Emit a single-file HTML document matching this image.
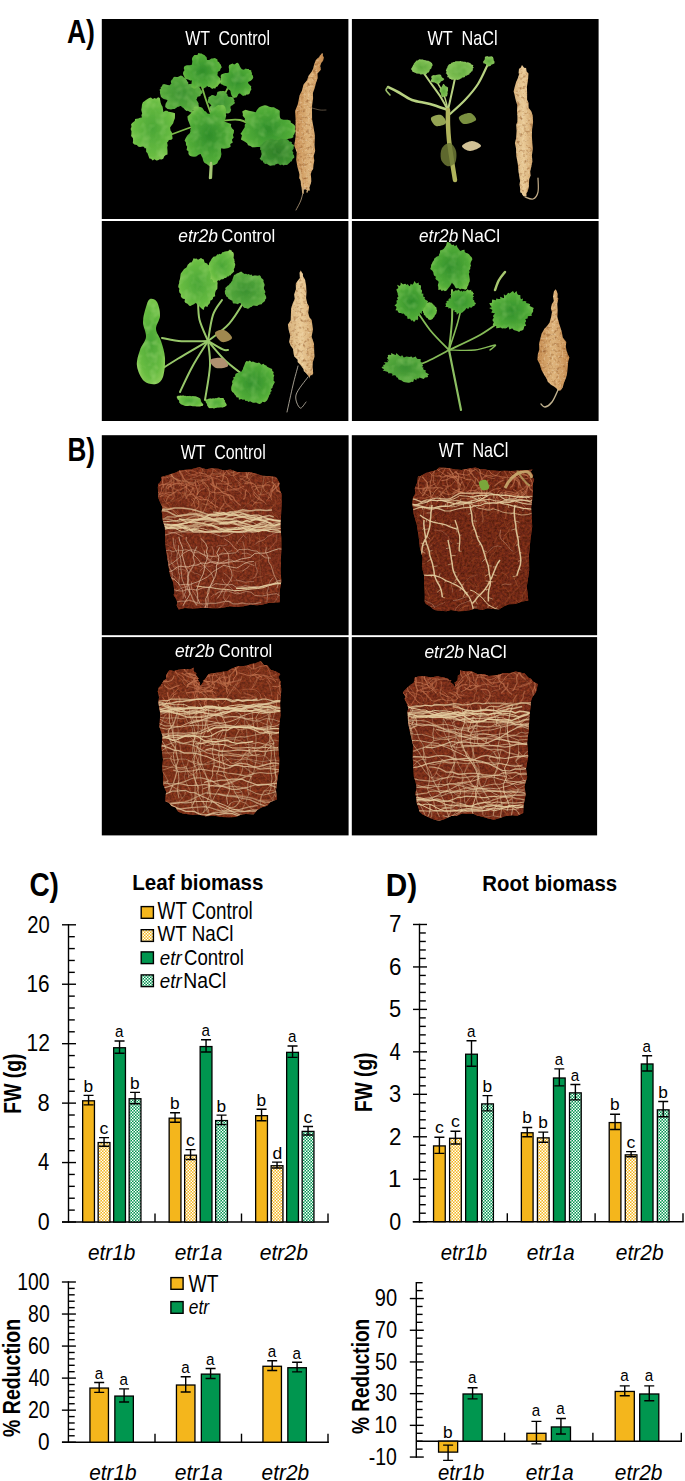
<!DOCTYPE html>
<html><head><meta charset="utf-8"><title>Figure</title><style>html,body{margin:0;padding:0;background:#fff;overflow:hidden}svg{display:block}text{font-family:"Liberation Sans",sans-serif;white-space:pre}</style></head>
<body><svg width="685" height="1481" viewBox="0 0 685 1481">
<defs>
<pattern id="pY" width="3" height="3" patternUnits="userSpaceOnUse"><rect width="3" height="3" fill="#F4B61C"/><rect width="1.5" height="1.5" fill="#FFFFFF"/><rect x="1.5" y="1.5" width="1.5" height="1.5" fill="#FFFFFF"/></pattern>
<pattern id="pG" width="3" height="3" patternUnits="userSpaceOnUse"><rect width="3" height="3" fill="#00964F"/><rect width="1.5" height="1.5" fill="#FFFFFF"/><rect x="1.5" y="1.5" width="1.5" height="1.5" fill="#FFFFFF"/></pattern>
<radialGradient id="lgA" cx="50%" cy="50%" r="60%"><stop offset="0" stop-color="#2F8E2A"/><stop offset="0.7" stop-color="#52AC38"/><stop offset="1" stop-color="#7CC64A"/></radialGradient>
<radialGradient id="lgB" cx="50%" cy="50%" r="60%"><stop offset="0" stop-color="#3A9130"/><stop offset="0.7" stop-color="#55A83C"/><stop offset="1" stop-color="#6FB84A"/></radialGradient>
<radialGradient id="lgC" cx="50%" cy="50%" r="60%"><stop offset="0" stop-color="#4AA636"/><stop offset="0.7" stop-color="#68BC42"/><stop offset="1" stop-color="#90D05A"/></radialGradient>
<radialGradient id="lgD" cx="50%" cy="50%" r="60%"><stop offset="0" stop-color="#2E7E28"/><stop offset="0.8" stop-color="#3F9330"/><stop offset="1" stop-color="#52A63C"/></radialGradient>
<radialGradient id="lgE" cx="50%" cy="50%" r="60%"><stop offset="0" stop-color="#5EA83C"/><stop offset="0.7" stop-color="#7DBE52"/><stop offset="1" stop-color="#A2D070"/></radialGradient>
<linearGradient id="rtA" x1="0" y1="0" x2="1" y2="0"><stop offset="0" stop-color="#C68C50"/><stop offset="0.5" stop-color="#DEB47C"/><stop offset="1" stop-color="#C4884C"/></linearGradient>
<linearGradient id="rtB" x1="0" y1="0" x2="1" y2="0"><stop offset="0" stop-color="#D6B07A"/><stop offset="0.5" stop-color="#EACB98"/><stop offset="1" stop-color="#D2A56C"/></linearGradient>
<filter id="spk" x="0" y="0" width="1" height="1" color-interpolation-filters="sRGB"><feTurbulence type="fractalNoise" baseFrequency="0.3" numOctaves="2" seed="7"/><feColorMatrix type="matrix" values="0 0 0 0 0.55  0 0 0 0 0.32  0 0 0 0 0.14  2.2 0 0 0 -1.15"/><feComposite in2="SourceGraphic" operator="in"/></filter><filter id="spk2" x="0" y="0" width="1" height="1" color-interpolation-filters="sRGB"><feTurbulence type="fractalNoise" baseFrequency="0.5" numOctaves="2" seed="19"/><feColorMatrix type="matrix" values="0 0 0 0 0.96  0 0 0 0 0.9  0 0 0 0 0.78  2.2 0 0 0 -1.1"/><feComposite in2="SourceGraphic" operator="in"/></filter>
<filter id="soft" x="-5%" y="-5%" width="110%" height="110%"><feGaussianBlur stdDeviation="0.45"/></filter>
<filter id="ltex" x="0" y="0" width="1" height="1" color-interpolation-filters="sRGB"><feTurbulence type="fractalNoise" baseFrequency="0.12" numOctaves="2" seed="4"/><feColorMatrix type="matrix" values="0 0 0 0 0.72  0 0 0 0 0.9  0 0 0 0 0.55  2.4 0 0 0 -1.05"/><feComposite in2="SourceGraphic" operator="in"/></filter>
<filter id="soil0" x="0" y="0" width="1" height="1" color-interpolation-filters="sRGB"><feTurbulence type="fractalNoise" baseFrequency="0.4" numOctaves="3" seed="3"/><feColorMatrix type="matrix" values="0.34 0 0 0 0.300  0.15 0 0 0 0.105  0.08 0 0 0 0.060  0 0 0 0 1"/></filter>
<filter id="soil1" x="0" y="0" width="1" height="1" color-interpolation-filters="sRGB"><feTurbulence type="fractalNoise" baseFrequency="0.4" numOctaves="3" seed="5"/><feColorMatrix type="matrix" values="0.34 0 0 0 0.270  0.15 0 0 0 0.085  0.08 0 0 0 0.040  0 0 0 0 1"/></filter>
<filter id="soil2" x="0" y="0" width="1" height="1" color-interpolation-filters="sRGB"><feTurbulence type="fractalNoise" baseFrequency="0.4" numOctaves="3" seed="8"/><feColorMatrix type="matrix" values="0.34 0 0 0 0.310  0.15 0 0 0 0.115  0.08 0 0 0 0.060  0 0 0 0 1"/></filter>
<filter id="soil3" x="0" y="0" width="1" height="1" color-interpolation-filters="sRGB"><feTurbulence type="fractalNoise" baseFrequency="0.4" numOctaves="3" seed="11"/><feColorMatrix type="matrix" values="0.34 0 0 0 0.300  0.15 0 0 0 0.105  0.08 0 0 0 0.060  0 0 0 0 1"/></filter>
<clipPath id="rb0"><path d="M157.8 487.5 L158.3 483.9 L159.9 482.5 L161.1 480.6 L161.6 480.0 L161.2 477.1 L166.7 475.5 L172.6 473.4 L175.9 472.5 L179.5 470.5 L186.0 469.7 L191.2 469.2 L194.9 468.3 L199.3 467.3 L206.3 469.2 L211.8 468.3 L218.3 468.8 L223.8 470.6 L230.5 469.4 L237.1 472.1 L244.2 472.1 L250.7 472.3 L257.1 474.0 L262.1 475.8 L270.7 476.3 L275.8 477.1 L277.1 478.5 L279.6 483.5 L279.1 486.1 L280.0 490.5 L281.5 493.7 L281.6 504.4 L281.1 514.5 L280.4 526.3 L281.3 537.4 L281.4 549.3 L280.8 560.2 L280.7 570.8 L281.3 581.5 L279.7 590.9 L279.7 602.3 L274.6 602.6 L268.3 602.9 L262.0 604.7 L257.0 605.2 L250.5 604.8 L243.6 606.2 L236.1 607.1 L229.6 606.2 L221.7 608.0 L215.6 608.2 L207.5 608.1 L200.4 607.9 L193.0 608.6 L184.8 607.9 L178.7 609.5 L176.6 605.4 L177.3 602.6 L176.4 599.5 L173.6 595.0 L174.5 592.5 L173.3 582.5 L170.1 575.2 L168.4 565.5 L167.5 558.9 L166.0 550.1 L165.2 541.3 L165.1 536.0 L164.9 527.4 L162.9 520.9 L161.7 511.3 L162.4 506.9 L159.9 501.7 L158.3 498.0 L158.2 492.8 Z"/></clipPath>
<clipPath id="rb1"><path d="M417.9 476.7 L421.2 475.7 L425.8 473.0 L431.2 471.5 L436.2 470.2 L439.1 467.6 L447.5 468.1 L454.2 469.3 L461.6 470.0 L468.9 468.4 L475.6 467.6 L480.0 469.2 L484.4 469.2 L488.8 470.2 L492.9 470.4 L499.6 471.1 L505.0 470.7 L510.8 471.1 L519.5 470.5 L526.0 470.2 L532.6 469.6 L530.8 471.5 L533.2 475.6 L532.4 477.7 L534.2 479.1 L533.0 483.2 L532.8 491.8 L532.1 500.6 L531.1 507.8 L531.7 515.8 L532.2 526.8 L530.3 541.1 L529.0 555.0 L529.2 570.4 L526.8 586.5 L528.3 600.4 L522.4 601.4 L515.4 604.0 L508.8 604.2 L504.2 606.3 L499.2 609.2 L492.6 609.0 L487.6 608.2 L482.1 610.1 L474.9 608.4 L470.7 609.9 L464.7 611.1 L458.3 611.2 L450.9 610.1 L446.5 611.3 L439.8 610.7 L435.6 610.2 L432.1 608.6 L431.1 606.9 L426.0 604.1 L424.7 602.1 L424.8 594.0 L424.1 583.6 L424.0 575.2 L421.9 567.0 L422.6 557.4 L420.0 548.5 L418.6 536.2 L416.8 524.8 L413.8 514.6 L412.4 503.9 L413.0 497.5 L415.4 493.6 L414.8 488.2 L417.3 482.4 Z"/></clipPath>
<clipPath id="rb2"><path d="M158.8 687.6 L160.6 685.8 L163.7 680.6 L166.3 678.9 L166.3 674.9 L169.4 669.9 L174.0 670.9 L178.3 669.7 L184.6 669.0 L190.0 669.4 L194.1 667.6 L193.3 670.5 L194.2 671.7 L196.8 673.4 L196.2 673.5 L196.0 675.3 L198.9 678.7 L197.5 678.9 L200.3 683.4 L199.8 683.6 L200.5 687.3 L200.5 685.8 L201.8 683.9 L203.7 681.2 L202.8 680.2 L203.1 681.0 L203.8 680.2 L205.7 678.4 L207.0 676.2 L207.4 675.5 L208.7 674.0 L215.0 672.9 L221.0 671.9 L227.1 671.3 L231.4 668.7 L238.3 666.1 L242.2 666.3 L247.3 665.5 L250.7 664.0 L254.8 663.4 L260.8 661.0 L263.9 665.0 L267.2 665.3 L270.7 669.8 L275.9 671.4 L280.3 674.1 L278.4 676.9 L280.6 681.8 L280.5 683.8 L281.3 689.3 L281.2 691.6 L280.1 702.9 L280.5 715.6 L279.2 725.3 L278.9 735.7 L278.3 747.7 L279.3 759.3 L279.0 769.8 L277.3 779.8 L276.0 790.0 L276.8 799.6 L270.5 802.1 L267.0 805.8 L261.9 807.3 L257.5 809.8 L253.7 814.2 L245.8 813.9 L241.7 814.4 L235.4 817.0 L229.0 817.3 L222.1 817.1 L214.2 815.7 L205.5 816.3 L198.0 814.4 L191.9 814.7 L182.8 813.4 L178.1 811.8 L175.6 807.4 L171.5 806.0 L168.9 802.8 L165.2 801.3 L166.1 791.6 L163.3 784.7 L163.3 776.0 L162.2 767.6 L163.0 759.5 L161.5 747.8 L162.6 736.2 L159.4 726.7 L160.3 713.5 L158.4 702.9 L158.6 701.5 L159.0 697.5 L158.8 695.3 L157.7 691.5 Z"/></clipPath>
<clipPath id="rb3"><path d="M402.9 692.4 L406.1 688.8 L410.9 684.5 L413.7 682.8 L414.8 677.6 L419.2 676.3 L424.6 676.3 L431.4 677.5 L436.6 676.3 L442.6 677.3 L447.5 678.4 L448.1 678.8 L449.5 680.3 L448.7 681.0 L451.4 680.0 L450.3 682.1 L451.4 683.9 L451.1 682.5 L453.8 685.1 L453.4 684.9 L454.2 687.3 L455.3 684.6 L454.3 682.6 L455.7 681.9 L457.4 680.3 L457.7 678.9 L457.9 675.5 L459.6 674.7 L460.2 673.4 L460.1 671.5 L460.0 670.6 L465.4 671.2 L471.2 671.2 L478.2 674.4 L483.9 674.0 L488.7 676.1 L496.3 675.2 L503.4 673.3 L510.1 673.0 L515.6 671.5 L522.3 673.0 L524.6 673.3 L528.2 677.5 L530.6 678.6 L533.3 681.8 L537.7 683.9 L537.0 688.1 L535.8 692.4 L532.5 696.7 L531.1 700.8 L531.0 702.8 L529.4 716.6 L528.8 729.4 L527.1 742.7 L528.2 756.3 L526.0 768.7 L527.2 777.0 L524.5 785.7 L525.6 794.8 L523.5 805.7 L523.2 813.0 L517.4 815.8 L512.3 815.3 L504.6 816.3 L500.0 818.1 L493.9 819.7 L488.2 818.4 L482.6 816.8 L476.9 815.4 L473.4 813.8 L466.5 813.7 L462.1 813.5 L456.5 816.0 L451.3 815.9 L443.7 819.4 L439.2 820.8 L434.4 819.7 L430.7 818.2 L425.8 816.0 L422.7 814.6 L420.2 812.2 L419.0 811.0 L418.9 809.0 L417.3 804.6 L416.7 803.1 L416.5 799.5 L415.4 793.1 L416.6 788.1 L415.6 781.7 L413.9 776.9 L413.4 768.7 L412.8 757.7 L413.0 744.8 L410.4 733.9 L408.1 722.9 L407.5 711.5 L408.4 707.9 L406.4 702.6 L404.5 698.8 L405.7 697.0 Z"/></clipPath>
<path id="lf11" d="M197.1 97.8l-.3 1.1-.5 .9 1.1 1.5 1.2 1.9-.1 1.4 .4 1.9-.9 1.1-1 1.1-2 0-.9 1.2-1.4 .6-.6 1.8-1.8-.1-2.4-1.5-1.4 .2-1.8-1.5-1.5-1.6-1.2-.6-1-1.1-1-.1-1.1 .8-1.1 0-1.4 1-1.8 1.1-1.6 .1-2 .5-1.6-.3-1.9-.1-1.1-1.1-1.2-1 .2-1.9 .4-1.8 1.2-1.9 .5-1.4-1.9-.4-1.9-.7-1.5-1-1.3-1.2-.3-1.3-.4-1.3-.3-1.4 .2-1.4-.6-1.5 1.3-1.1-.1-1.6 1.4-.9 .2-1.5 1.7-.6 3.7 1 1.9 .2 .6-.9 1.1-.4-.5-2.5 .7-1.4 1-.9 .8-1.7 1.3-.8 1.8 .3 1.5-.1 1.5-.7 1.6-.7 1.7 .7 1.4 1.5 1.4 .6 1 1.5 .8 1.6 .9 .9 .1 2 1.6-.3 1.9-.3 2-.1 2.9-.5 .5 1.4 1.6 .7 0 1.6 1.3 1.1 .5 1.3 1 1.2 1.2 1.3-.5 1.5-1.6 1.4-.3 1.3-2.7 .9z"/>
<path id="lf12" d="M217.8 73l-.3 1.1-.1 1.1 1.1 1.3 1.7 1.8 .4 1.6 .8 2-1.1 1.1-1.1 1.1-1 1.1-.7 1.2-1.5 .6-.7 1.4-1.9-.1-1.2 .6-2.5-2-1.2 .2-1.6-1.4-.6 1.6-1.1 .2-1.1 .8-1.1 .7-1.1-1.7-.9-.8-1.2 .6-1-.6-1.1 0-2 1.7-1.8 .5-1-1-1.5-.2 .1-2.1 .1-1.8 0-1.5 .4-1.6-1.9 0-1.2-.7-1.8-.6-2.3-.6-.3-1.4-.6-1.3-.7-1.4-.2-1.5 .5-1.5 1-1.3-.7-1.6 .2-1.5 .9-1.2 1.9-.7 2.7 0 1.9-.1 .6-.9 .1-1.3 .2-1.4-.4-2.4 .5-1.6 .9-1.2 1.1-1.2 1.5-.2 1.5 0 1-1.9 1.7 .6 1.4 0 1.5 .9 1.4 .4 1.1 1.4 1.1 .9 .4 2.7 1.1 0 1.1 .2 2.2-1.6 1.4 .1 2.1-.5 1.2 .7 1.3 .8 .2 1.8 1.4 .7 .7 1.3 1 1.1 .5 1.4 .6 1.3-1.4 1.8-.3 1.4-2.5 1.5z"/>
<path id="lf13" d="M253.2 78.1l-1.1 1.5-1.3 1.2-2.3 .9-.5 .9 .4 1 1.4 1.3 1.5 1.7-.3 1.2 .4 1.6-.7 1-.5 1.2-.4 1.4-.6 1.1-1.3 .5-1.5 0-.9 .9-1.4 0-1 .6-1.6-1.4-1.4-1.1-.9-.2-.8 .7-.9 2-1.1 1.4-1.2-.1-1.3 .7-1-1.2-1-.7-.6-1.5-.5-1.5-.2-1.6-.4-1-.7-.7-.6-.5-1.3-.1-.5-.9-.2-1-.1-1-1.1-.5-2-.3-1-.9-2.1-.8-.1-1.3 .4-1.3 0-1.3-.4-1.3 .4-1.3-.3-1.4 .5-1.2 1.3-.9 1.6-.4 1.2-.6 1.9 .1 1.1-.2 .8-.5-.1-1.4 .2-1.5-.4-2.5 .4-1.9 1.2-.4 1.1-.7 1.2-.5 1.5 1.1 1.1-.4 1.2-1.2 1.3-.2 1.2 1.2 .8 2.1 .8 1.4 .7 1 .7 .9 1 .1 .9 .4 2-1.2 1.2 .4 1.7-.1 .6 1.2 1.9 .2 .1 1.5 .7 1.2-.2 1.5 1 1 .3 1.3z"/>
<path id="lf18" d="M235.1 103l-.9 .8-1 .8-.8 .6-1.1 .5-.7 .5 0 .7-.2 .8 .3 1 .5 1.3-.5 .7-.2 1.1-.6 .8-.9 .5-.9 .4-1.3-.2-.9 .3-.8 .8-1.1 0-1.2-1-.9-.4-.9-.6-.8-.4-.7-.3-1 .8-1 .2-1.4 1.1-.8-.7-1.2 .2-.9-.5-1-.3-.6-.8-.9-.5-.4-.9-.2-.9-.2-.9-.3-.8 .3-1 1.5-1.2-.4-.5-.5-.6-.6-.7-1.3-.7-1-.9 .1-.8 .2-.9 .1-.8 .6-.8-.4-1.1 .8-.7 .7-.6 1-.4 .6-.7 1.1-.2 1.4 .2 1.5 .6 .8-.1 .5-.7 .3-1 .3-1.7 .8-.8 1 .1 .9-.7 1.1 .2 1-.1 1.1-.1 1.1 .1 .9 .6 1 .2 .3 1.6 .7 .5 .4 .8 .1 1.1 .7 .4 .4 .6 1.4-.1 1.2 .2 1.3 .3 1.2 .4-.3 1.1 .4 .8 .7 .7-.3 1 0 .8z"/>
<path id="lf14" d="M170.3 129l.2 1.6 1.4 1.9 .1 1.8 .3 2 .3 2.2-1.2 1.3-2.5 .3-.8 1.3-1 1 .6 3-.5 1.8 .3 3.5 0 3.7-1.7 .6-1.5 1.2-1.1 2.5-1.7 .7-1.8-.1-1.7 1-1.7 .2-1.8-1.3-1.8 1.2-1.6-1.6-1.7-.2-1.1-3-.9-2.5-1.2-1.1-.1-3.7-1.4-.1-.8-1.5-1.6-.1-2.3 .4-1.9-.6-1.2-1.4-2.5-.5-1.6-1.6 .3-2.7-.2-2.3-1.8-1.8 .3-2.4 .1-2.4-.9-2.3 .9-2.3-.4-2.4 1.6-1.9 2.1-1.5 .3-2 3.1-.4 1.8-.7 1.9-.3-.5-2.5 .8-1.2-.9-3.8 .4-2.4 .3-3.1 .9-2.3 1.5-1 1.6-1.1 1.5-1.2 1.7-.9 1.7-.4 1.9 1.4 1.7-1 1.7 .7 1.9-1.4 1.7 .6 .8 4.5 .9 2.7 1.1 1.6 .4 2.6 .3 2.6 2.1-1.1 1.8 0 1.2 1 2 .3 2.3 .3 2.3 .8 0 2.6-.1 2.5-1.1 2.7-.6 2.3-1.7 2.3-1.4 1.8z"/>
<path id="lf15" d="M232.9 135.1l.8 2.5-1.8 2.1 .9 2.8-2.6 1.4 .4 2.8-2.2 1.2-2.4 .6-2.2 .3-2.6-.5-.3 2.1 .5 3.9-.6 2.7-1 2.3-1.4 1.5-1.2 2.7-1.8 1-1.8 .8-1.9-.5-1.8 1.6-1.9-1.4-1.7-1.3-1.7-.7-1.3-2.1-.8-3.2-1-1.7-.8-2-1.8 .6-2.7 1.8-2.2 .3-2.1-.3-2.1-.6-1.3-1.8-.1-2.8-1.8-1.3 .6-3.1-1.2-1.9-.1-2.4-1.3-2 1.3-2.7 1.4-2.4 2.4-2.2 .7-1.8-.1-1.9 1-1.7-1.2-2.4-1-2.6-1.3-3.2-.4-3.2 1.7-1.5 1.6-1.5 1.1-1.9 1.7-1.2 .4-3.4 2.1-.4 2.1 0 2.2 .6 1.9 .6 2.3 3.4 1.4 .4 1.5 1.9 1.1 .3 1.1 .2 1.3-2.7 1.5-1.8 1.7-1.6 1.9-1.3 2.2-1.5 1.7 .3 2.2-.4 1.9 .7 1.3 1.6 .6 2.7-.4 3.5 .7 1.9-.6 3-1.3 3.2 1.8 .7 2.2 .8 2.9 .9-.3 2.3 1 2 2.1 2.1-.2 2.4z"/>
<path id="lf16" d="M291.5 138.3l-2.9 .4-1.8 .6-.7 1.1 .9 2.2 0 1.8 1 2.8-2.2 .4-1 1.4-1.7 .8-2 .4-1 2-2.3 0-1.8 .8-2.2 .1-2.7-1.9-2 .1-2.2-1.5-1.9-1.6-1.5-2.5-1.9 .5-2.1 .7-2.2 .1-2.5 .3-2.6-.1-1.7-1.3-2.4-.7-1-2-1.8-1.2-2.1-1.2-2.3-1.2 .6-2.3 .5-2.1-1.5-1.4 1.3-1.9 1-1.6 .8-1.4 1-1.3 .2-1.2-.1-1.3 .4-1.2 1.2-.8-1.2-1.7-.4-1.5 .3-1.3-2.3-2.9 .2-1.7-.7-2.4 1.7-1 1.7-.8 3.3 1 2.5 .4 2.3 .6 2.1 .4 .8-1.7 1.1-1.5 1.3-1.6 1.8-.9 2-.8 2.1-.4 2.3 .5 2.1 .9 2.2 .5 2.4 .1 2 1.1 2 1.2 1.9 1.2-.1 3.2 .1 2.5 .5 1.7 1.3 1 2.1 .6 4.1 0 2.8 .9 .1 1.9 2.4 1.3 1.7 1.7 .5 1.8-.5 1.8 1.1 1.8-1.1 1.6-.5 1.6-1 1.4 .1 1.7z"/>
<path id="lf17" d="M293.1 152l.3 1-.6 .9 1.1 1.2 .3 1.1 .1 1.2-.8 .9-.9 .8-.5 1.1-.4 1.1-1.4 .4-.6 1.1-1 .8-.9 .9-1.3 .5-1.7-.2-1 .8-1.9-1.1-1.1 .8-1.4-.5-1.3-1.3-1.1 .6-1.2 .2-1.4 1.1-1.2-.2-1.5 .4-1.5 .2-1.2-.6-1.1-.8-1.1-.6-2.1 .3-.4-1.3-1.4-.5 .1-1.5-1.7-.4-.8-.9-.9-.9 1.4-1.6-.1-1.1 .9-1.2-.6-.8 .7-1-1.2-.9 .8-.9-1-1.1-.6-1.1 .6-.9-.7-1.3-.4-1.4 1.4-.7 1.1-.7 1-.8 .2-1.3 1.5-.4 .5-1.2 1.3-.4 1.4-.4 1.6 .1 1-.7 1.3-.3 1.6 .8 1.4 .6 1.1-.3 1.2 .4 1.1 0 1.2-.3 1.7-1.5 1.2 .5 1.4 0 1.2 .5 1.5 0 1.4 .4 1 .9 .6 1 1.8 .2 .8 .9-.2 1.5 1.5 .5 .9 .9-.5 1.4 .1 1-.2 1.1-.9 1.1-.4 1z"/>
<path id="lf21" d="M432.7 65.1l-.3 .7-.5 .6-.5 .5 .3 .5-.2 .6-.3 .5-.5 .5-.6 .4-.4 .4 0 .6-.1 .7-.5 .4-.1 .7-.9 .2-.6 .4-.6 .4-.3 .9-.8 .3-.8 .2-.9-.1-.8-.4-.8 .2-.7 .1-.7-.2-.8 .3-.6-.6-.5-.4-.9 .3-.4-.4-1.1 .4-.4-.6-.7-.1-.5-.4-.8-.1-.5-.4-.6-.3-1-.2 .2-.8-.7-.3 .3-.7-.9-.4-.1-.6 .4-.6 .3-.6 .5-.6 .1-.5 .6-.5-.1-.6 .1-.5 .9-.4-.2-.7 .2-.5 .6-.4 .3-.6 .4-.5 .6-.4 .3-.7 .9-.2 .7-.2 .7-.4 .6-.5 .8-.2 .9 .3 .8 0 .7-.1 .8-.1 .6 .6 .7 0 .7 .2 .6 .1 .6 .3 .7 .1 .7 .1 .9-.1 .3 .6 .8 .1 .6 .3 .5 .4 .3 .5 .9 .3 .3 .5-.1 .7 .4 .4z"/>
<path id="lf22" d="M473 66.2l-.1 .8 1 .5-1.1 .9-.2 .7 .4 .6-.5 .8-.1 .7-1.4 .6 0 .7-1.2 .5-.3 .7-.3 .7-1.2 .4-.7 .5-.9 .4-1.2 .1-.2 1.1-.9 .4-1.1 .1-1 .2-.7 .9-1 .2-1 .7-1.1 .3-1.1 .2-1-.3-1.1 .1-1 0-.9-.3-1.5 .5-.4-.9-1-.1-.9-.3-.4-.6-.2-.7-1.3-.1-.1-.7 .4-1-.1-.6-.8-.4 .3-.7-1.4-.2 .6-.8 .1-.7 .2-.6-.4-.6-.4-.7 .5-.6 .3-.7 .1-.7 .7-.6 0-.8 .4-.7 .5-.8 .6-.7 1-.5 1.1-.3 .3-1 1.3-.2 .9-.5 1.1-.2 .9-.6 1.1-.1 1.1 .1 1.1 0 .9 0 1.1-.4 .7 .7 1-.2 .8 .3 .9 0 1 0 .6 .4 .6 .4 1.2-.2 1 .1 .8 .3 .6 .5 1 .2-.2 .8 .9 .3 1.1 .4 .6 .5z"/>
<path id="lf23" d="M444.2 79l-.1 .4-.6 .3 0 .4-.3 .3-.3 .3-.5 .1-.5 .2-.3 .2-.5 .1-.1 .3-.4 .2-.1 .3-.1 .5-.3 .2-.3 .3-.3 .4-.5 .1-.5 .1-.5 .3-.5-.2-.5-.2-.5-.1-.4-.1-.4-.4-.4-.1-.3-.3-.4-.1-.4 0-.4-.1-.5-.1-.6 0-.5-.1-.4-.2-.4-.3-.4-.2-.1-.4 0-.4 .1-.4-.1-.3 .5-.4 .1-.3 0-.3 .3-.3-.1-.3-.1-.3-.3-.3 .1-.4-.1-.4 .1-.3 .2-.3 0-.5 .4-.2 .5-.2 .4-.1 .4-.3 .6 .1 .5-.1 .6 .3 .4-.2 .3-.3 .5 .2 .4-.3 .4 .2 .5-.5 .4 .2 .6-.3 .4 .1 .7-.1 .4 .2 .5 .1 .3 .3 .4 .2 0 .6 .2 .3 .1 .4-.1 .3 .6 .1 0 .4 .2 .3 .2 .2 .5 .2 .2 .3 .8 .3z"/>
<path id="lf24" d="M494.4 61l-.2 .4 .5 .4-.3 .3 .2 .5-.3 .3 .2 .5-.7 .1-.2 .4-.4 .1-.4 .2-.5 .1-.2 .3-.3 .1-.6-.1-.1 .3-.2 .5-.3 .3-.4 .2-.4 .1-.4 .4-.4-.3-.4 .4-.5-.1-.3-.4-.4-.3-.3-.3-.3-.3-.2-.3-.4-.1-.3-.1-.1-.5-.5 0 0-.4-.4-.1-.7-.1-.5-.1-.3-.4-.2-.4 0-.4 .2-.4-.2-.4 .1-.4 .7-.3 .1-.4 .4-.2 .2-.3-.1-.4 0-.4 0-.3 .4-.2-.1-.5-.1-.6 .2-.3 .3-.4 .4-.1 .4-.3 .5 .1 .3-.2 .5 0 .4 .1 .4 .1 .4 .3 .4 .1 .4-.2 .3 .2 .4-.2 .4-.1 .4 0 .6-.2 .3 .3 .5 0 .3 .3 .4 .2 .1 .4 .2 .4 .2 .3-.2 .5 .4 .2-.1 .5 0 .3-.1 .4 .2 .2 .2 .4z"/>
<path id="lf25" d="M447.9 91l-.2 .4-.4 .4 .2 .5 0 .4-.1 .4 .4 .7-.3 .3-.1 .5-.1 .5-.1 .6-.3 .2-.1 .6-.3 .1-.5-.1-.3 .1-.3-.2-.3 .2-.3-.3-.3 .1-.2 0-.3 0-.3 .7-.3 .1-.3 0-.4 .2-.3-.2-.2-.2-.3-.3-.3-.1-.2-.6-.2-.3 0-.6 0-.7-.3-.2 .2-.6-.2-.2-.3-.3 0-.5-.3-.3-.2-.4-.2-.4-.3-.5 0-.5 .1-.5 .2-.4-.1-.6 .4-.3 .3-.4 .2-.3 .2-.3 .3-.2 .3-.2 .1-.3 .2-.3 .1-.5 .2-.3 .2-.2 .2-.5 .3-.4 .2-.7 .3-.1 .4 .1 .3 .5 .3 .2 .3-.2 .3 .6 .2 .5 .2 .1 .2 .3 .3 .2 .2 .1 .3 0 .4 .2 .2 .2 .4 .1 .2 .3 .3 .4 .4 .2-.3 .8 .2 .4-.2 .6 .1 .5-.1 .4z"/>
<path id="lf31" d="M217.4 285l0 2-.1 1.9-1.4 1.6-.6 1.7-.3 1.8 .2 2.2-2 .7-.3 1.9-1 1.1-1.5 .6-.3 2.1-.8 1.5-1.2 .8-.7 2.1-1.8-.7-1.2 .9-.7 2.7-1.6-.8-1.6-1.5-1.3-1.3-1.2-1.7-1.1-.3-.9-1.5-1.1 .6-1.4 1.2-1.3 .5-1.7 .9-1.3-.3-1-1.3-1.1-1-1.5-.4-1-1.2 .3-2.7-1.9-.3-1.3-1.1-.9-1.5 .1-2.1-1.4-1.4-.5-1.9 .4-2-1.2-1.8 .3-2 .7-1.9 0-1.9 .6-1.8 .4-1.8 .2-1.9 .3-2 1-1.4 1-1.3 1-1.4 1.1-1.1 1.4-.7 .8-1.4 .7-1.7 1.2-.9 1.1-1.3 1.4-.1 1.1-1.5 1-2.7 1.6 .5 1.4-.3 1.5 1.3 1.4-.6 1.6-1 1.4 .8 1.4 .6 .8 2.9 1.2 .7 1.4 .4 .8 1.6 1.6 .3 .5 2 .3 2.1 .8 1.3 2.1 .1 0 2.2 1.2 1.1 .8 1.6 1.1 1.5 .8 1.8-.1 2 .5 1.9z"/>
<path id="lf32" d="M232.3 273.2l-1 .9-.6 1.1-1.4 .4-.8 .8-1.3 .1-.7 1-1 .6-1-.1-.9 .9-.9 .4-1 0-.9 .3-1.1 1.2-.8-.5-1 .2-1.4 1.2-1.2 .5-1.2 .2-.9-.4-.2-1.5-.6-.8-.6-.7-1.4 .2 .3-1.7-.1-1.1 .2-1.3-.1-1-.1-.9-.6-.6-.1-.9-.1-1-.7-.7 .7-1.2-.9-.9-.2-1.1-.1-1.1 .3-1.2 .2-1.2 .6-1.2 .8-1 .5-1.2 .7-1.1 .9-1 .7-1.1 1.4-.2 1.2-.3 .7-1 .8-1 1.2 .2 .9-.6 1 .4 .9-.5 .9-1.4 .9 0 1-.5 1-.4 1-.1 1-.1 1-.3 1.7-1.4 .7 .8 1 .3 .3 1.2 1.1 .2 .5 .9 .3 1 0 1.4-.1 1.1-.2 1.3 .3 .8 .6 .7-.3 1.1 .7 .7-.4 1.2 .3 .9 .5 1 0 1.1-.3 1.1-.2 1.1-.6 1.1-.4 1.2 .5 1.5-.9 1.1z"/>
<path id="lf33" d="M265.1 291l.3 1.3-.8 1.2 .8 1.5 .7 1.6 .2 1.7-1.1 1.1-.2 1.6-1.2 1-1.4 .9-.7 1.4-1.9 .2-1.4 .6-1.2 .8-1.9-.2-1.6-.2-1.2 .6-1 1-1.4 .2-1.2 1.1-1.4 .3-1.5-.7-1.4 0-1.3-.9-.9-1.6-.9-1.1-.8-1.2-1.1-.1-2.1 1.2-1-.6-1.5-.2-1.7-.1-.7-1.1-.1-1.5-1.4-.5-1.2-.8-1.5-.8-.4-1.3-1.7-.9-.4-1.3-.8-1.3-.2-1.5-.1-1.4 .9-1.4-.5-1.5 1.2-1.2 1.2-1.1 1.4-.9 .6-1.1 1.1-.8 .5-1.2 1-.8 .2-1.5 .5-1.3 .5-1.5 .7-1.6 1.4-.7 1.3-.8 1.5-.5 1.4-.8 1.4-.7 1.9 1.3 1.6 1 1.4-.1 1.4 .6 1.4-.5 1.2 1.1 1.6-.6 .9 1.6 1.8-.6 1.5 .2 1.6 .2 2.4-.5 1 1.2 .5 1.6 1.3 .8 1 1.2-.2 1.7 .6 1.3 .6 1.3-.1 1.4-.6 1.5 0 1.3 .4 1.2z"/>
<path id="lf36" d="M274.9 382l-.8 1.6-.8 1.5-.7 1.4-.2 1.5-1.6 1 1 2-1.4 1 0 1.9-1.1 1.1-.5 1.7-.7 1.6-.8 1.6-1.2 1.3-1.5 1-2.1-.4-1.2 1.4-1.6 .7-1.8-.5-1.8-.9-1.5 .2-1.6 .1-1.5-.8-1.4-.7-1.7 .8-1.2-1.4-1.7 .4-.9-1.7-1.8 .3-1.5-.6-2.4 .6-.2-2.2-2.2-.2-.6-1.6-1.2-1.3-.9-1.3-1.5-1.1-.9-1.5-.2-1.8 .1-1.7 .6-1.8 .6-1.7-.5-1.5 .5-1.5 1.3-1.4-.7-1.6 2-1 .1-1.5 .5-1.3 1.5-.8 1.7-.5 1.4-.5 1.3-.5 .5-1.2 .8-.9 .3-1.6 .7-1.5 .7-1.6 .7-2.1 1.2-1.5 1.8 .4 1.5-.8 1.7 1.3 1.5-.5 1.5 .9 1.4 .5 1.5 .1 1.6-.4 1.2 1 1.1 1.3 2.2-1 1.1 1.2 1.7 .4 .9 1.3 1.5 .7 1.6 .8 1.8 .8 .2 1.9 1.4 1.1-.5 2.1 1.1 1.3-.7 1.9 .1 1.6-.2 1.6z"/>
<path id="lf37" d="M202.2 403.2l.7 .5 .4 .5 0 .4-.3 .4 .1 .5-.4 .3-.6 .3-1.2 0-.4 .4-1 .1-1.2-.1-.8 0-1 0-1.2-.3-.8 .1-.9 0-.9-.1-1-.3-.8-.1-.8 0-1 0-1 .2-1.1 .1-1.1-.2-1.1-.2-1-.3-.6-.5-1.3-.2-.7-.4-.9-.4 0-.6-.8-.4-.5-.4 .7-.5-.8-.4 .3-.4-.2-.4 .2-.4-.9-.4-.2-.4-.7-.4 .3-.4-.7-.5-.1-.4 .1-.4-.5-.6 .4-.4 .5-.3 .3-.4 1.1-.1 1.1 0 .6-.3 1.4 .3 .6-.3 1.1 .2 1.4 .4 .6-.2 1.1 .4 .6-.3 .9 .1 .9 .3 .8-.5 .9 .5 1-.1 1.1-.1 1.1 .1 1.1 .1 1 .3 1.1 .3 .9 .4 .7 .4 .8 .4 .7 .5 0 .5 .3 .5 .6 .4-.7 .4 .5 .4 .3 .4-.6 .4 .9 .4-.1 .3 .4 .4z"/>
<path id="lf38" d="M226 403l.3 .4-.5 .3 .8 .5-.1 .4 .3 .5-.4 .4-.3 .4-.6 .3-.6 .3-.4 .4-.9 .2-.4 .4-1.2-.1-1.1-.2-.6 .2-.8 0-.8 0-.6 .3-.8-.3-.6 .3-.7 .2-.8 .2-.8 .3-.9 0-.7-.3-.9 .2-.8-.2-1.1 .1-.9-.2-.3-.5-.8-.2 0-.6-.2-.4-.4-.4-.2-.4-.1-.4 .1-.4-.1-.3-.3-.4 .3-.3-.6-.3-.3-.4-.5-.4 .3-.4-.6-.4 .5-.4-.9-.6 .4-.4 0-.5 .7-.3 .6-.3 1.3 0 .2-.5 .9-.1 .7-.2 1.1 .1 .9 .1 .6-.3 .7-.2 .8 .3 .7 0 .7-.2 .7-.2 .7 .1 .9-.4 .9-.2 .9-.1 .6 .4 .8 .1 1-.1 1 .1 .7 .3 .5 .4 0 .6 0 .5 .8 .2 .2 .4-.3 .5-.1 .4 .5 .3 .1 .4-.2 .3 .4 .3z"/>
<path id="lf41" d="M470.3 269l-1.2 1.6 .5 1.7-.8 1.4 .4 1.8 .3 1.9 .3 2.1-.1 2-.9 1.5-.4 2-.9 1.6-.6 2.1-1.5 1-2.2-.6-1.9-.3-1.2 .7-2-1.4-1.2 .4-1.4-.7-1.6-3.1-1-.6-.9-1.7-.9 1.9-1.2 2-1.4 1.8-1.9 2.3-1.7 .8-1.3-.9-2 .8-1-1.7-2.2 .5-.1-2.8-.5-1.9 .9-3.2-.8-1.2-1.4-.8-1.1-1.2 .5-2-1.6-1.1-.7-1.5-.2-1.8-1-1.6-2.2-1.8 .8-1.9 .1-2 .9-1.7 .7-1.7 1.2-1.4 .4-1.8 1.4-1.1 1.2-1 1.8-.5 .4-1.6 .8-1.2 .1-2.6 1.5-.5 1.4-.4 1.1-1 1-1.5 1.1-1.7 .9-3.4 1.7 .3 1.7 .9 1.6 2 1.5-.6 1.3 1.6 1.7-1.3 .9 2.4 1.1 1.4 .9 1.4 1.1 .8 2-.8 2-.3 .2 2.3 1.4 .8 1.8 .6 1.3 1.1 1.1 1.4 1.4 1.3 .7 1.9-1.5 2.7-.5 2 .6 1.6-.8 1.8z"/>
<path id="lf42" d="M424.9 297.3l-.4 1.4 1 1.1 2.6 1.4-.8 1.4 1.3 1.7-.9 1.3-.8 1.2-.2 1.5-.9 1-1.3 .7-.5 1.1-1.7 0-.6 .9 .3 1.9-2.3-1.1 0 1.7 .2 2.5-1.9-1.5 .2 3.3-.8 1.4-1.5-.8-.9 1.5-1 1.2-1.5-1.9-1.2 .6-1.2-2-1.1 0-1.3 .3-.6-2.6-.9-.8-1.2-.1-.6-1.3-.9-.7-1.5 .2-.9-.9-1.8 0-1.3-.8-.3-1.6-2.2-.3 1-2.3-.3-1.4-1.7-1.1 2.2-1.9 0-1.4-.4-1.3 1.7-1.1-.8-1.3 .3-1.1 1-.9-.8-1.6 0-1.2-.5-1.7-.9-2.3 1.1-.8 1-.8-1.3-3.3 2.7 1.2 .8-1.1 .1-2.3 2.4 2 1.1-.4 1.1-.3 1.4 1.2 .9-.9 1.2 1.4 1.1 .8 .8-2.5 1.1 .8 1.1-.2 1.7-3.5 1 1.8 1.1 .8 1.9-1.1 .3 2.7 1.6-.2 .6 1.8-.4 2.6 1.1 .7 .3 1.5-.6 2 1.9 .2-.1 1.4-.2 1.4z"/>
<path id="lf43" d="M437.1 311l-.5 .6 0 .7-.1 .6-.2 .6-.4 .5-.1 .6-.7 .2-.1 .5-.4 .4-.1 .7-.3 .4-.2 .6-.5 .2-.4 .2-.2 .8-.4 .4-.5 .2-.5 .2-.5 .3-.5 0-.5 .2-.5-.2-.5-.1-.5-.1-.4-.6-.3-.6-.4-.4-.6 .2-.3-.4-.3-.6-.5-.2-.1-.6-.2-.6-.7-.1-.2-.5-.7-.3 0-.6 .1-.8-.5-.5-.3-.6-.2-.6 .2-.7 .1-.7 .1-.6 .5-.5-.2-.7 .3-.6 .6-.3 .1-.6 .5-.3 .4-.3 .1-.7 .1-.7 .4-.3 .5-.1 .3-.6 .3-.6 .3-.5 .5-.3 .5 .1 .4-.8 .6 .3 .5 .4 .5 0 .5 .1 .5-.3 .4 .8 .5 0 .2 .9 .5 .1 .3 .3 .3 .6 .2 .5 .7-.1 .3 .4 0 .8 .7 .1 .6 .4 .2 .6 .2 .6-.2 .7 .4 .6 .1 .6z"/>
<path id="lf44" d="M474.1 296.2l-1.1 1.2-.5 .9 1.3 .4-1.1 .9 1.2 .7 .6 .8-.4 .8 1.5 1 .2 1.1-1.3 .7 .1 1.1-1.7 .4-.9 .7-.5 .9-2.4-.5-.3 1-.6 .7-1.9-.9-.5 .8-.6 .8-.7 .9-.9 .6-.9 1-1 .6-1.1 .5-1.1 0-1.2 0-1.5 1.5-.3-2.4-.9-.4-1.1 0 .2-1.9-1.3 .4-.9-.3 .4-1.5-.9-.1-1.3 .1-.5-.6-2 .3 .2-1.1-1.4-.3-1.9-.2 1-1.3-.3-.9-.4-.8 1.4-1.1-.5-.9 .6-.9 2.2-.7-.8-.9 .9-.7 2-.3-.9-1.1 .9-.5 .6-.7-1.6-2 1.5-.2 .4-1-.1-1.8 2 .5 .8-.7 1.1-.5 1.4 .4 .8-1.1 1.2 .7 1.1 1.3 1-1.2 .8 1.3 .9-.4 1.1-.8 .6 .9 1.4-.9 1.7-1.2 .5 1 1.3-.1 1.6-.4-.1 1.4 1.2 .2 .5 .7 .2 1 1 .3-1.4 1.8 .4 .6z"/>
<path id="lf45" d="M531.9 315.7l-4 .5-.2 1.2-.1 1.2-2.4 .3 .8 1.7-.1 1.4-1 .8 1.3 2.9-1.7 .3-.5 1.6-.5 2-1.4 .9-1.7 .2-1.3 1.2-2-.9-1.8-.4-1.6-.6-1.6-1.7-1.3 .7-1.4 .4-1-2.8-1.6 1.4-1.6 .6-1.5-.3-1.7 .3-1.1-1.1-2.3 .5-2.4 .3 0-2.3-2-.4-1.5-.9 1.2-2.7-1.2-1-.1-1.6 1.3-1.9-.9-1.1 .5-1.4 1.6-1.4-3.9-1 .7-1.3 .6-1.3-3.3-1.9 2.7-.8-1.4-1.9-1.3-2.1 2.8-.5 0-1.7 .3-1.6 3.7 .8 .2-1.7 2.4 .5 1.7 0-.2-2.4 2.3 1 1.7 .6-.3-4 1.9 1.2 1.2-1 1.2-1.8 1.6 .7 1.5-1.1 1.8-1.4 1.3 2.4 2.2-2.2 .8 2.8 1.3 1.1 1.7-.1 .1 2.8 .5 1.6 2.2-.7-.6 2.6 2.1-.2 1.8 .4-.3 1.7 2.5 .3 1.6 .9-.6 1.7 2.2 .9 2 1.2-.8 1.7 .2 1.5-.9 1.5-.9 1.4z"/>
<path id="lf46" d="M429.3 374.5l-1.7 .6 .5 1.3-.7 .9-2.4 .1-.6 .8-.7 .9-4.3-1.6-.4 .9-1.4 .1-1.1 .3 0 1.5-2.5-1.2-.3 1.4-.6 1.6-1.7-.3-1.3 .7-1.7 .2-1.7-.1-1.8-.3-1.7-.6-1.5-1.2-1.6-.6-1.6-.5-.7-1.7-1.4-.5-.5-1.4-1.1-.6-3 .4 .8-1.7-1.5-.6-3.2-.1 .4-1.3-2.8-.6-2.8-.8 1.6-1.3-2.1-1-.6-1.1 2.3-.9-1-1.1 2-.6 .6-.8-1.6-1.4 3 0 1.4-.4-1.5-1.4 2.2 0-1.6-1.8-.1-1.1 .8-.8-.3-1.5 1.1-.6 2.3 .4-.1-2 3 1.4 1.8 .4 .4-2 3 2.9 1.7 .6 1-1.3 1.8 2.3 1.3-.5 1.4-.5 1.5 .4 1.5 .2 2-.4 1.1 1.2 3.2-1.3 .7 1.5 1.1 1.1 3.1-.1-.1 1.7 .1 1.3 1.8 .7-.7 1.4 .9 .9 .4 .9-1.5 1.1 2.2 .8-.8 .9 .5 .9 2.7 1.2-.8 .8 .4 1z"/>
<filter id="pblur" x="-2%" y="-2%" width="104%" height="104%"><feGaussianBlur stdDeviation="0.65"/></filter>
</defs>
<rect width="685" height="1481" fill="#fff"/>
<line x1="68.50" y1="924.10" x2="68.50" y2="1222.70" stroke="#000" stroke-width="1.4"/>
<line x1="62.00" y1="1222.00" x2="76.00" y2="1222.00" stroke="#000" stroke-width="1.4"/>
<line x1="62.00" y1="1162.56" x2="76.00" y2="1162.56" stroke="#000" stroke-width="1.4"/>
<line x1="62.00" y1="1103.12" x2="76.00" y2="1103.12" stroke="#000" stroke-width="1.4"/>
<line x1="62.00" y1="1043.68" x2="76.00" y2="1043.68" stroke="#000" stroke-width="1.4"/>
<line x1="62.00" y1="984.24" x2="76.00" y2="984.24" stroke="#000" stroke-width="1.4"/>
<line x1="62.00" y1="924.80" x2="76.00" y2="924.80" stroke="#000" stroke-width="1.4"/>
<line x1="68.50" y1="1210.11" x2="74.80" y2="1210.11" stroke="#000" stroke-width="1.4"/>
<line x1="68.50" y1="1198.22" x2="74.80" y2="1198.22" stroke="#000" stroke-width="1.4"/>
<line x1="68.50" y1="1186.34" x2="74.80" y2="1186.34" stroke="#000" stroke-width="1.4"/>
<line x1="68.50" y1="1174.45" x2="74.80" y2="1174.45" stroke="#000" stroke-width="1.4"/>
<line x1="68.50" y1="1150.67" x2="74.80" y2="1150.67" stroke="#000" stroke-width="1.4"/>
<line x1="68.50" y1="1138.78" x2="74.80" y2="1138.78" stroke="#000" stroke-width="1.4"/>
<line x1="68.50" y1="1126.90" x2="74.80" y2="1126.90" stroke="#000" stroke-width="1.4"/>
<line x1="68.50" y1="1115.01" x2="74.80" y2="1115.01" stroke="#000" stroke-width="1.4"/>
<line x1="68.50" y1="1091.23" x2="74.80" y2="1091.23" stroke="#000" stroke-width="1.4"/>
<line x1="68.50" y1="1079.34" x2="74.80" y2="1079.34" stroke="#000" stroke-width="1.4"/>
<line x1="68.50" y1="1067.46" x2="74.80" y2="1067.46" stroke="#000" stroke-width="1.4"/>
<line x1="68.50" y1="1055.57" x2="74.80" y2="1055.57" stroke="#000" stroke-width="1.4"/>
<line x1="68.50" y1="1031.79" x2="74.80" y2="1031.79" stroke="#000" stroke-width="1.4"/>
<line x1="68.50" y1="1019.90" x2="74.80" y2="1019.90" stroke="#000" stroke-width="1.4"/>
<line x1="68.50" y1="1008.02" x2="74.80" y2="1008.02" stroke="#000" stroke-width="1.4"/>
<line x1="68.50" y1="996.13" x2="74.80" y2="996.13" stroke="#000" stroke-width="1.4"/>
<line x1="68.50" y1="972.35" x2="74.80" y2="972.35" stroke="#000" stroke-width="1.4"/>
<line x1="68.50" y1="960.46" x2="74.80" y2="960.46" stroke="#000" stroke-width="1.4"/>
<line x1="68.50" y1="948.58" x2="74.80" y2="948.58" stroke="#000" stroke-width="1.4"/>
<line x1="68.50" y1="936.69" x2="74.80" y2="936.69" stroke="#000" stroke-width="1.4"/>
<line x1="62.00" y1="1222.00" x2="328.90" y2="1222.00" stroke="#000" stroke-width="1.4"/>
<line x1="155.00" y1="1213.50" x2="155.00" y2="1222.00" stroke="#000" stroke-width="1.4"/>
<line x1="241.50" y1="1213.50" x2="241.50" y2="1222.00" stroke="#000" stroke-width="1.4"/>
<line x1="328.00" y1="1213.50" x2="328.00" y2="1222.00" stroke="#000" stroke-width="1.4"/>
<text transform="translate(37.64,1229.80) scale(0.8836,1)" font-size="24.29" fill="#000">0</text>
<text transform="translate(38.10,1170.36) scale(0.8197,1)" font-size="24.64" fill="#000">4</text>
<text transform="translate(37.62,1110.92) scale(0.9024,1)" font-size="24.29" fill="#000">8</text>
<text transform="translate(26.52,1051.48) scale(0.8655,1)" font-size="24.29" fill="#000">12</text>
<text transform="translate(26.54,992.04) scale(0.8568,1)" font-size="24.29" fill="#000">16</text>
<text transform="translate(27.19,932.60) scale(0.8316,1)" font-size="24.29" fill="#000">20</text>
<rect x="82.65" y="1100.80" width="11.80" height="121.20" fill="#F4B61C" stroke="#000" stroke-width="1.3"/>
<path d="M83.55 1095.39H93.55M88.55 1095.39V1104.90M83.55 1104.90H93.55" stroke="#000" stroke-width="1.4" fill="none"/>
<text transform="translate(83.54,1091.79) scale(1.0335,1)" font-size="16.71" fill="#000">b</text>
<rect x="98.15" y="1142.55" width="11.80" height="79.45" fill="url(#pY)" stroke="#000" stroke-width="1.3"/>
<path d="M99.05 1137.60H109.05M104.05 1137.60V1146.21M99.05 1146.21H109.05" stroke="#000" stroke-width="1.4" fill="none"/>
<text transform="translate(99.54,1134.00) scale(1.0374,1)" font-size="17.04" fill="#000">c</text>
<rect x="113.65" y="1047.75" width="11.80" height="174.25" fill="#00964F" stroke="#000" stroke-width="1.3"/>
<path d="M114.55 1041.01H124.55M119.55 1041.01V1053.19M114.55 1053.19H124.55" stroke="#000" stroke-width="1.4" fill="none"/>
<text transform="translate(114.99,1037.41) scale(0.8917,1)" font-size="17.04" fill="#000">a</text>
<rect x="129.15" y="1098.72" width="11.80" height="123.28" fill="url(#pG)" stroke="#000" stroke-width="1.3"/>
<path d="M130.05 1092.42H140.05M135.05 1092.42V1103.71M130.05 1103.71H140.05" stroke="#000" stroke-width="1.4" fill="none"/>
<text transform="translate(130.04,1088.82) scale(1.0335,1)" font-size="16.71" fill="#000">b</text>
<rect x="169.15" y="1118.18" width="11.80" height="103.82" fill="#F4B61C" stroke="#000" stroke-width="1.3"/>
<path d="M170.05 1112.78H180.05M175.05 1112.78V1122.29M170.05 1122.29H180.05" stroke="#000" stroke-width="1.4" fill="none"/>
<text transform="translate(170.04,1109.18) scale(1.0335,1)" font-size="16.71" fill="#000">b</text>
<rect x="184.65" y="1155.19" width="11.80" height="66.81" fill="url(#pY)" stroke="#000" stroke-width="1.3"/>
<path d="M185.55 1149.63H195.55M190.55 1149.63V1159.44M185.55 1159.44H195.55" stroke="#000" stroke-width="1.4" fill="none"/>
<text transform="translate(186.04,1146.03) scale(1.0374,1)" font-size="17.04" fill="#000">c</text>
<rect x="200.15" y="1046.56" width="11.80" height="175.44" fill="#00964F" stroke="#000" stroke-width="1.3"/>
<path d="M201.05 1039.82H211.05M206.05 1039.82V1052.00M201.05 1052.00H211.05" stroke="#000" stroke-width="1.4" fill="none"/>
<text transform="translate(201.49,1036.22) scale(0.8917,1)" font-size="17.04" fill="#000">a</text>
<rect x="215.65" y="1120.56" width="11.80" height="101.44" fill="url(#pG)" stroke="#000" stroke-width="1.3"/>
<path d="M216.55 1115.16H226.55M221.55 1115.16V1124.67M216.55 1124.67H226.55" stroke="#000" stroke-width="1.4" fill="none"/>
<text transform="translate(216.54,1111.56) scale(1.0335,1)" font-size="16.71" fill="#000">b</text>
<rect x="255.65" y="1115.66" width="11.80" height="106.34" fill="#F4B61C" stroke="#000" stroke-width="1.3"/>
<path d="M256.55 1109.21H266.55M261.55 1109.21V1120.80M256.55 1120.80H266.55" stroke="#000" stroke-width="1.4" fill="none"/>
<text transform="translate(256.54,1105.61) scale(1.0335,1)" font-size="16.71" fill="#000">b</text>
<rect x="271.15" y="1165.74" width="11.80" height="56.26" fill="url(#pY)" stroke="#000" stroke-width="1.3"/>
<path d="M272.05 1162.11H282.05M277.05 1162.11V1168.06M272.05 1168.06H282.05" stroke="#000" stroke-width="1.4" fill="none"/>
<text transform="translate(272.40,1158.51) scale(1.0505,1)" font-size="16.71" fill="#000">d</text>
<rect x="286.65" y="1052.35" width="11.80" height="169.65" fill="#00964F" stroke="#000" stroke-width="1.3"/>
<path d="M287.55 1046.06H297.55M292.55 1046.06V1057.35M287.55 1057.35H297.55" stroke="#000" stroke-width="1.4" fill="none"/>
<text transform="translate(287.99,1042.46) scale(0.8917,1)" font-size="17.04" fill="#000">a</text>
<rect x="302.15" y="1131.41" width="11.80" height="90.59" fill="url(#pG)" stroke="#000" stroke-width="1.3"/>
<path d="M303.05 1126.45H313.05M308.05 1126.45V1135.07M303.05 1135.07H313.05" stroke="#000" stroke-width="1.4" fill="none"/>
<text transform="translate(303.54,1122.85) scale(1.0374,1)" font-size="17.04" fill="#000">c</text>
<line x1="68.40" y1="1281.30" x2="68.40" y2="1442.90" stroke="#000" stroke-width="1.4"/>
<line x1="61.90" y1="1442.20" x2="75.90" y2="1442.20" stroke="#000" stroke-width="1.4"/>
<line x1="61.90" y1="1410.16" x2="75.90" y2="1410.16" stroke="#000" stroke-width="1.4"/>
<line x1="61.90" y1="1378.12" x2="75.90" y2="1378.12" stroke="#000" stroke-width="1.4"/>
<line x1="61.90" y1="1346.08" x2="75.90" y2="1346.08" stroke="#000" stroke-width="1.4"/>
<line x1="61.90" y1="1314.04" x2="75.90" y2="1314.04" stroke="#000" stroke-width="1.4"/>
<line x1="61.90" y1="1282.00" x2="75.90" y2="1282.00" stroke="#000" stroke-width="1.4"/>
<line x1="68.40" y1="1435.79" x2="74.70" y2="1435.79" stroke="#000" stroke-width="1.4"/>
<line x1="68.40" y1="1429.38" x2="74.70" y2="1429.38" stroke="#000" stroke-width="1.4"/>
<line x1="68.40" y1="1422.98" x2="74.70" y2="1422.98" stroke="#000" stroke-width="1.4"/>
<line x1="68.40" y1="1416.57" x2="74.70" y2="1416.57" stroke="#000" stroke-width="1.4"/>
<line x1="68.40" y1="1403.75" x2="74.70" y2="1403.75" stroke="#000" stroke-width="1.4"/>
<line x1="68.40" y1="1397.34" x2="74.70" y2="1397.34" stroke="#000" stroke-width="1.4"/>
<line x1="68.40" y1="1390.94" x2="74.70" y2="1390.94" stroke="#000" stroke-width="1.4"/>
<line x1="68.40" y1="1384.53" x2="74.70" y2="1384.53" stroke="#000" stroke-width="1.4"/>
<line x1="68.40" y1="1371.71" x2="74.70" y2="1371.71" stroke="#000" stroke-width="1.4"/>
<line x1="68.40" y1="1365.30" x2="74.70" y2="1365.30" stroke="#000" stroke-width="1.4"/>
<line x1="68.40" y1="1358.90" x2="74.70" y2="1358.90" stroke="#000" stroke-width="1.4"/>
<line x1="68.40" y1="1352.49" x2="74.70" y2="1352.49" stroke="#000" stroke-width="1.4"/>
<line x1="68.40" y1="1339.67" x2="74.70" y2="1339.67" stroke="#000" stroke-width="1.4"/>
<line x1="68.40" y1="1333.26" x2="74.70" y2="1333.26" stroke="#000" stroke-width="1.4"/>
<line x1="68.40" y1="1326.86" x2="74.70" y2="1326.86" stroke="#000" stroke-width="1.4"/>
<line x1="68.40" y1="1320.45" x2="74.70" y2="1320.45" stroke="#000" stroke-width="1.4"/>
<line x1="68.40" y1="1307.63" x2="74.70" y2="1307.63" stroke="#000" stroke-width="1.4"/>
<line x1="68.40" y1="1301.22" x2="74.70" y2="1301.22" stroke="#000" stroke-width="1.4"/>
<line x1="68.40" y1="1294.82" x2="74.70" y2="1294.82" stroke="#000" stroke-width="1.4"/>
<line x1="68.40" y1="1288.41" x2="74.70" y2="1288.41" stroke="#000" stroke-width="1.4"/>
<line x1="62.00" y1="1442.20" x2="328.90" y2="1442.20" stroke="#000" stroke-width="1.4"/>
<line x1="155.00" y1="1433.70" x2="155.00" y2="1442.20" stroke="#000" stroke-width="1.4"/>
<line x1="241.50" y1="1433.70" x2="241.50" y2="1442.20" stroke="#000" stroke-width="1.4"/>
<line x1="328.00" y1="1433.70" x2="328.00" y2="1442.20" stroke="#000" stroke-width="1.4"/>
<text transform="translate(38.07,1450.00) scale(0.8578,1)" font-size="24.29" fill="#000">0</text>
<text transform="translate(27.92,1417.96) scale(0.8074,1)" font-size="24.29" fill="#000">20</text>
<text transform="translate(28.52,1385.92) scale(0.7843,1)" font-size="24.29" fill="#000">40</text>
<text transform="translate(27.92,1353.88) scale(0.8074,1)" font-size="24.29" fill="#000">60</text>
<text transform="translate(28.12,1321.84) scale(0.7995,1)" font-size="24.29" fill="#000">80</text>
<text transform="translate(17.35,1289.80) scale(0.7970,1)" font-size="24.29" fill="#000">100</text>
<rect x="89.95" y="1388.06" width="18.50" height="54.14" fill="#F4B61C" stroke="#000" stroke-width="1.3"/>
<path d="M94.20 1382.45H104.20M99.20 1382.45V1392.38M94.20 1392.38H104.20" stroke="#000" stroke-width="1.4" fill="none"/>
<text transform="translate(94.64,1379.05) scale(0.8917,1)" font-size="17.04" fill="#000">a</text>
<rect x="114.85" y="1396.07" width="18.50" height="46.13" fill="#00964F" stroke="#000" stroke-width="1.3"/>
<path d="M119.10 1388.85H129.10M124.10 1388.85V1401.99M119.10 1401.99H129.10" stroke="#000" stroke-width="1.4" fill="none"/>
<text transform="translate(119.54,1385.45) scale(0.8917,1)" font-size="17.04" fill="#000">a</text>
<rect x="176.45" y="1385.02" width="18.50" height="57.18" fill="#F4B61C" stroke="#000" stroke-width="1.3"/>
<path d="M180.70 1376.68H190.70M185.70 1376.68V1392.06M180.70 1392.06H190.70" stroke="#000" stroke-width="1.4" fill="none"/>
<text transform="translate(181.14,1373.28) scale(0.8917,1)" font-size="17.04" fill="#000">a</text>
<rect x="201.35" y="1374.12" width="18.50" height="68.08" fill="#00964F" stroke="#000" stroke-width="1.3"/>
<path d="M205.60 1368.51H215.60M210.60 1368.51V1378.44M205.60 1378.44H215.60" stroke="#000" stroke-width="1.4" fill="none"/>
<text transform="translate(206.04,1365.11) scale(0.8917,1)" font-size="17.04" fill="#000">a</text>
<rect x="262.95" y="1366.27" width="18.50" height="75.93" fill="#F4B61C" stroke="#000" stroke-width="1.3"/>
<path d="M267.20 1360.82H277.20M272.20 1360.82V1370.43M267.20 1370.43H277.20" stroke="#000" stroke-width="1.4" fill="none"/>
<text transform="translate(267.64,1357.42) scale(0.8917,1)" font-size="17.04" fill="#000">a</text>
<rect x="287.85" y="1367.72" width="18.50" height="74.48" fill="#00964F" stroke="#000" stroke-width="1.3"/>
<path d="M292.10 1362.26H302.10M297.10 1362.26V1371.87M292.10 1371.87H302.10" stroke="#000" stroke-width="1.4" fill="none"/>
<text transform="translate(292.54,1358.86) scale(0.8917,1)" font-size="17.04" fill="#000">a</text>
<line x1="419.50" y1="923.78" x2="419.50" y2="1222.40" stroke="#000" stroke-width="1.4"/>
<line x1="413.00" y1="1221.70" x2="427.00" y2="1221.70" stroke="#000" stroke-width="1.4"/>
<line x1="413.00" y1="1179.24" x2="427.00" y2="1179.24" stroke="#000" stroke-width="1.4"/>
<line x1="413.00" y1="1136.78" x2="427.00" y2="1136.78" stroke="#000" stroke-width="1.4"/>
<line x1="413.00" y1="1094.32" x2="427.00" y2="1094.32" stroke="#000" stroke-width="1.4"/>
<line x1="413.00" y1="1051.86" x2="427.00" y2="1051.86" stroke="#000" stroke-width="1.4"/>
<line x1="413.00" y1="1009.40" x2="427.00" y2="1009.40" stroke="#000" stroke-width="1.4"/>
<line x1="413.00" y1="966.94" x2="427.00" y2="966.94" stroke="#000" stroke-width="1.4"/>
<line x1="413.00" y1="924.48" x2="427.00" y2="924.48" stroke="#000" stroke-width="1.4"/>
<line x1="419.50" y1="1213.21" x2="425.80" y2="1213.21" stroke="#000" stroke-width="1.4"/>
<line x1="419.50" y1="1204.72" x2="425.80" y2="1204.72" stroke="#000" stroke-width="1.4"/>
<line x1="419.50" y1="1196.22" x2="425.80" y2="1196.22" stroke="#000" stroke-width="1.4"/>
<line x1="419.50" y1="1187.73" x2="425.80" y2="1187.73" stroke="#000" stroke-width="1.4"/>
<line x1="419.50" y1="1170.75" x2="425.80" y2="1170.75" stroke="#000" stroke-width="1.4"/>
<line x1="419.50" y1="1162.26" x2="425.80" y2="1162.26" stroke="#000" stroke-width="1.4"/>
<line x1="419.50" y1="1153.76" x2="425.80" y2="1153.76" stroke="#000" stroke-width="1.4"/>
<line x1="419.50" y1="1145.27" x2="425.80" y2="1145.27" stroke="#000" stroke-width="1.4"/>
<line x1="419.50" y1="1128.29" x2="425.80" y2="1128.29" stroke="#000" stroke-width="1.4"/>
<line x1="419.50" y1="1119.80" x2="425.80" y2="1119.80" stroke="#000" stroke-width="1.4"/>
<line x1="419.50" y1="1111.30" x2="425.80" y2="1111.30" stroke="#000" stroke-width="1.4"/>
<line x1="419.50" y1="1102.81" x2="425.80" y2="1102.81" stroke="#000" stroke-width="1.4"/>
<line x1="419.50" y1="1085.83" x2="425.80" y2="1085.83" stroke="#000" stroke-width="1.4"/>
<line x1="419.50" y1="1077.34" x2="425.80" y2="1077.34" stroke="#000" stroke-width="1.4"/>
<line x1="419.50" y1="1068.84" x2="425.80" y2="1068.84" stroke="#000" stroke-width="1.4"/>
<line x1="419.50" y1="1060.35" x2="425.80" y2="1060.35" stroke="#000" stroke-width="1.4"/>
<line x1="419.50" y1="1043.37" x2="425.80" y2="1043.37" stroke="#000" stroke-width="1.4"/>
<line x1="419.50" y1="1034.88" x2="425.80" y2="1034.88" stroke="#000" stroke-width="1.4"/>
<line x1="419.50" y1="1026.38" x2="425.80" y2="1026.38" stroke="#000" stroke-width="1.4"/>
<line x1="419.50" y1="1017.89" x2="425.80" y2="1017.89" stroke="#000" stroke-width="1.4"/>
<line x1="419.50" y1="1000.91" x2="425.80" y2="1000.91" stroke="#000" stroke-width="1.4"/>
<line x1="419.50" y1="992.42" x2="425.80" y2="992.42" stroke="#000" stroke-width="1.4"/>
<line x1="419.50" y1="983.92" x2="425.80" y2="983.92" stroke="#000" stroke-width="1.4"/>
<line x1="419.50" y1="975.43" x2="425.80" y2="975.43" stroke="#000" stroke-width="1.4"/>
<line x1="419.50" y1="958.45" x2="425.80" y2="958.45" stroke="#000" stroke-width="1.4"/>
<line x1="419.50" y1="949.96" x2="425.80" y2="949.96" stroke="#000" stroke-width="1.4"/>
<line x1="419.50" y1="941.46" x2="425.80" y2="941.46" stroke="#000" stroke-width="1.4"/>
<line x1="419.50" y1="932.97" x2="425.80" y2="932.97" stroke="#000" stroke-width="1.4"/>
<line x1="412.70" y1="1221.70" x2="683.70" y2="1221.70" stroke="#000" stroke-width="1.4"/>
<line x1="507.30" y1="1213.20" x2="507.30" y2="1221.70" stroke="#000" stroke-width="1.4"/>
<line x1="595.10" y1="1213.20" x2="595.10" y2="1221.70" stroke="#000" stroke-width="1.4"/>
<line x1="683.00" y1="1213.20" x2="683.00" y2="1221.70" stroke="#000" stroke-width="1.4"/>
<text transform="translate(389.14,1229.50) scale(0.8836,1)" font-size="24.29" fill="#000">0</text>
<text transform="translate(388.08,1187.04) scale(0.9722,1)" font-size="24.64" fill="#000">1</text>
<text transform="translate(388.88,1144.58) scale(0.9220,1)" font-size="24.29" fill="#000">2</text>
<text transform="translate(389.12,1102.12) scale(0.9024,1)" font-size="24.29" fill="#000">3</text>
<text transform="translate(389.60,1059.66) scale(0.8197,1)" font-size="24.64" fill="#000">4</text>
<text transform="translate(389.12,1017.20) scale(0.8895,1)" font-size="24.64" fill="#000">5</text>
<text transform="translate(388.88,974.74) scale(0.9220,1)" font-size="24.29" fill="#000">6</text>
<text transform="translate(388.88,932.28) scale(0.9088,1)" font-size="24.64" fill="#000">7</text>
<rect x="433.55" y="1145.92" width="11.70" height="75.78" fill="#F4B61C" stroke="#000" stroke-width="1.3"/>
<path d="M434.40 1137.20H444.40M439.40 1137.20V1153.34M434.40 1153.34H444.40" stroke="#000" stroke-width="1.4" fill="none"/>
<text transform="translate(434.89,1133.20) scale(1.0374,1)" font-size="17.04" fill="#000">c</text>
<rect x="449.60" y="1138.28" width="11.70" height="83.42" fill="url(#pY)" stroke="#000" stroke-width="1.3"/>
<path d="M450.45 1131.26H460.45M455.45 1131.26V1144.00M450.45 1144.00H460.45" stroke="#000" stroke-width="1.4" fill="none"/>
<text transform="translate(450.94,1127.26) scale(1.0374,1)" font-size="17.04" fill="#000">c</text>
<rect x="465.65" y="1054.21" width="11.70" height="167.49" fill="#00964F" stroke="#000" stroke-width="1.3"/>
<path d="M466.50 1040.82H476.50M471.50 1040.82V1066.30M466.50 1066.30H476.50" stroke="#000" stroke-width="1.4" fill="none"/>
<text transform="translate(466.94,1036.82) scale(0.8917,1)" font-size="17.04" fill="#000">a</text>
<rect x="481.70" y="1103.89" width="11.70" height="117.81" fill="url(#pG)" stroke="#000" stroke-width="1.3"/>
<path d="M482.55 1095.59H492.55M487.55 1095.59V1110.88M482.55 1110.88H492.55" stroke="#000" stroke-width="1.4" fill="none"/>
<text transform="translate(482.54,1091.59) scale(1.0335,1)" font-size="16.71" fill="#000">b</text>
<rect x="521.38" y="1132.76" width="11.70" height="88.94" fill="#F4B61C" stroke="#000" stroke-width="1.3"/>
<path d="M522.23 1127.44H532.23M527.23 1127.44V1136.78M522.23 1136.78H532.23" stroke="#000" stroke-width="1.4" fill="none"/>
<text transform="translate(522.22,1123.44) scale(1.0335,1)" font-size="16.71" fill="#000">b</text>
<rect x="537.43" y="1137.85" width="11.70" height="83.85" fill="url(#pY)" stroke="#000" stroke-width="1.3"/>
<path d="M538.28 1132.11H548.28M543.28 1132.11V1142.30M538.28 1142.30H548.28" stroke="#000" stroke-width="1.4" fill="none"/>
<text transform="translate(538.27,1128.11) scale(1.0335,1)" font-size="16.71" fill="#000">b</text>
<rect x="553.48" y="1077.99" width="11.70" height="143.71" fill="#00964F" stroke="#000" stroke-width="1.3"/>
<path d="M554.33 1068.84H564.33M559.33 1068.84V1085.83M554.33 1085.83H564.33" stroke="#000" stroke-width="1.4" fill="none"/>
<text transform="translate(554.77,1064.84) scale(0.8917,1)" font-size="17.04" fill="#000">a</text>
<rect x="569.53" y="1092.85" width="11.70" height="128.85" fill="url(#pG)" stroke="#000" stroke-width="1.3"/>
<path d="M570.38 1084.55H580.38M575.38 1084.55V1099.84M570.38 1099.84H580.38" stroke="#000" stroke-width="1.4" fill="none"/>
<text transform="translate(570.82,1080.55) scale(0.8917,1)" font-size="17.04" fill="#000">a</text>
<rect x="609.21" y="1122.57" width="11.70" height="99.13" fill="#F4B61C" stroke="#000" stroke-width="1.3"/>
<path d="M610.06 1114.28H620.06M615.06 1114.28V1129.56M610.06 1129.56H620.06" stroke="#000" stroke-width="1.4" fill="none"/>
<text transform="translate(610.05,1110.28) scale(1.0335,1)" font-size="16.71" fill="#000">b</text>
<rect x="625.26" y="1154.84" width="11.70" height="66.86" fill="url(#pY)" stroke="#000" stroke-width="1.3"/>
<path d="M626.11 1151.64H636.11M631.11 1151.64V1156.74M626.11 1156.74H636.11" stroke="#000" stroke-width="1.4" fill="none"/>
<text transform="translate(626.60,1147.64) scale(1.0374,1)" font-size="17.04" fill="#000">c</text>
<rect x="641.31" y="1063.97" width="11.70" height="157.73" fill="#00964F" stroke="#000" stroke-width="1.3"/>
<path d="M642.16 1055.68H652.16M647.16 1055.68V1070.97M642.16 1070.97H652.16" stroke="#000" stroke-width="1.4" fill="none"/>
<text transform="translate(642.60,1051.68) scale(0.8917,1)" font-size="17.04" fill="#000">a</text>
<rect x="657.36" y="1109.83" width="11.70" height="111.87" fill="url(#pG)" stroke="#000" stroke-width="1.3"/>
<path d="M658.21 1101.54H668.21M663.21 1101.54V1116.82M658.21 1116.82H668.21" stroke="#000" stroke-width="1.4" fill="none"/>
<text transform="translate(658.20,1097.54) scale(1.0335,1)" font-size="16.71" fill="#000">b</text>
<line x1="416.30" y1="1282.00" x2="416.30" y2="1457.75" stroke="#000" stroke-width="1.4"/>
<line x1="409.80" y1="1457.05" x2="423.80" y2="1457.05" stroke="#000" stroke-width="1.4"/>
<line x1="409.80" y1="1425.35" x2="423.80" y2="1425.35" stroke="#000" stroke-width="1.4"/>
<line x1="409.80" y1="1393.65" x2="423.80" y2="1393.65" stroke="#000" stroke-width="1.4"/>
<line x1="409.80" y1="1361.95" x2="423.80" y2="1361.95" stroke="#000" stroke-width="1.4"/>
<line x1="409.80" y1="1330.25" x2="423.80" y2="1330.25" stroke="#000" stroke-width="1.4"/>
<line x1="409.80" y1="1298.55" x2="423.80" y2="1298.55" stroke="#000" stroke-width="1.4"/>
<line x1="416.30" y1="1449.12" x2="422.60" y2="1449.12" stroke="#000" stroke-width="1.4"/>
<line x1="416.30" y1="1441.20" x2="422.60" y2="1441.20" stroke="#000" stroke-width="1.4"/>
<line x1="416.30" y1="1433.28" x2="422.60" y2="1433.28" stroke="#000" stroke-width="1.4"/>
<line x1="416.30" y1="1417.42" x2="422.60" y2="1417.42" stroke="#000" stroke-width="1.4"/>
<line x1="416.30" y1="1409.50" x2="422.60" y2="1409.50" stroke="#000" stroke-width="1.4"/>
<line x1="416.30" y1="1401.58" x2="422.60" y2="1401.58" stroke="#000" stroke-width="1.4"/>
<line x1="416.30" y1="1385.73" x2="422.60" y2="1385.73" stroke="#000" stroke-width="1.4"/>
<line x1="416.30" y1="1377.80" x2="422.60" y2="1377.80" stroke="#000" stroke-width="1.4"/>
<line x1="416.30" y1="1369.88" x2="422.60" y2="1369.88" stroke="#000" stroke-width="1.4"/>
<line x1="416.30" y1="1354.03" x2="422.60" y2="1354.03" stroke="#000" stroke-width="1.4"/>
<line x1="416.30" y1="1346.10" x2="422.60" y2="1346.10" stroke="#000" stroke-width="1.4"/>
<line x1="416.30" y1="1338.17" x2="422.60" y2="1338.17" stroke="#000" stroke-width="1.4"/>
<line x1="416.30" y1="1322.33" x2="422.60" y2="1322.33" stroke="#000" stroke-width="1.4"/>
<line x1="416.30" y1="1314.40" x2="422.60" y2="1314.40" stroke="#000" stroke-width="1.4"/>
<line x1="416.30" y1="1306.48" x2="422.60" y2="1306.48" stroke="#000" stroke-width="1.4"/>
<line x1="416.30" y1="1290.62" x2="422.60" y2="1290.62" stroke="#000" stroke-width="1.4"/>
<line x1="416.30" y1="1282.70" x2="422.60" y2="1282.70" stroke="#000" stroke-width="1.4"/>
<line x1="416.30" y1="1441.20" x2="682.00" y2="1441.20" stroke="#000" stroke-width="1.4"/>
<line x1="504.60" y1="1432.70" x2="504.60" y2="1441.20" stroke="#000" stroke-width="1.4"/>
<line x1="592.90" y1="1432.70" x2="592.90" y2="1441.20" stroke="#000" stroke-width="1.4"/>
<line x1="681.30" y1="1432.70" x2="681.30" y2="1441.20" stroke="#000" stroke-width="1.4"/>
<text transform="translate(368.72,1464.85) scale(0.8025,1)" font-size="24.29" fill="#000">-10</text>
<text transform="translate(374.15,1433.15) scale(0.8485,1)" font-size="24.29" fill="#000">10</text>
<text transform="translate(375.01,1401.45) scale(0.8155,1)" font-size="24.29" fill="#000">30</text>
<text transform="translate(375.01,1369.75) scale(0.8155,1)" font-size="24.29" fill="#000">50</text>
<text transform="translate(374.80,1338.05) scale(0.8235,1)" font-size="24.29" fill="#000">70</text>
<text transform="translate(374.80,1306.35) scale(0.8235,1)" font-size="24.29" fill="#000">90</text>
<rect x="438.55" y="1441.20" width="19.10" height="10.92" fill="#F4B61C" stroke="#000" stroke-width="1.3"/>
<path d="M443.10 1445.16H453.10M448.10 1445.16V1460.38M443.10 1460.38H453.10" stroke="#000" stroke-width="1.4" fill="none"/>
<text transform="translate(443.09,1437.60) scale(1.0335,1)" font-size="16.71" fill="#000">b</text>
<rect x="463.05" y="1393.98" width="19.10" height="47.22" fill="#00964F" stroke="#000" stroke-width="1.3"/>
<path d="M467.60 1387.79H477.60M472.60 1387.79V1398.88M467.60 1398.88H477.60" stroke="#000" stroke-width="1.4" fill="none"/>
<text transform="translate(468.04,1382.79) scale(0.8917,1)" font-size="17.04" fill="#000">a</text>
<rect x="526.88" y="1433.29" width="19.10" height="7.91" fill="#F4B61C" stroke="#000" stroke-width="1.3"/>
<path d="M531.43 1421.39H541.43M536.43 1421.39V1443.89M531.43 1443.89H541.43" stroke="#000" stroke-width="1.4" fill="none"/>
<text transform="translate(531.87,1416.39) scale(0.8917,1)" font-size="17.04" fill="#000">a</text>
<rect x="551.38" y="1426.95" width="19.10" height="14.25" fill="#00964F" stroke="#000" stroke-width="1.3"/>
<path d="M555.93 1418.53H565.93M560.93 1418.53V1434.07M555.93 1434.07H565.93" stroke="#000" stroke-width="1.4" fill="none"/>
<text transform="translate(556.37,1413.53) scale(0.8917,1)" font-size="17.04" fill="#000">a</text>
<rect x="615.21" y="1391.45" width="19.10" height="49.75" fill="#F4B61C" stroke="#000" stroke-width="1.3"/>
<path d="M619.76 1385.88H629.76M624.76 1385.88V1395.71M619.76 1395.71H629.76" stroke="#000" stroke-width="1.4" fill="none"/>
<text transform="translate(620.20,1380.88) scale(0.8917,1)" font-size="17.04" fill="#000">a</text>
<rect x="639.71" y="1393.98" width="19.10" height="47.22" fill="#00964F" stroke="#000" stroke-width="1.3"/>
<path d="M644.26 1385.88H654.26M649.26 1385.88V1400.78M644.26 1400.78H654.26" stroke="#000" stroke-width="1.4" fill="none"/>
<text transform="translate(644.70,1380.88) scale(0.8917,1)" font-size="17.04" fill="#000">a</text>
<text transform="translate(29.38,896.20) scale(0.8561,1)" font-size="32.75" font-weight="bold" fill="#000">C)</text>
<text transform="translate(385.81,896.40) scale(0.9258,1)" font-size="32.17" font-weight="bold" fill="#000">D)</text>
<text transform="translate(132.26,889.80) scale(0.9431,1)" font-size="21.78" font-weight="bold" fill="#000">Leaf biomass</text>
<text transform="translate(482.27,891.10) scale(0.9257,1)" font-size="22.05" font-weight="bold" fill="#000">Root biomass</text>
<rect x="141.20" y="906.60" width="12.20" height="11.70" fill="#F4B61C" stroke="#000" stroke-width="1.4"/>
<rect x="141.20" y="929.70" width="12.20" height="11.70" fill="url(#pY)" stroke="#000" stroke-width="1.4"/>
<rect x="141.20" y="951.90" width="12.20" height="11.70" fill="#00964F" stroke="#000" stroke-width="1.4"/>
<rect x="141.20" y="974.90" width="12.20" height="11.70" fill="url(#pG)" stroke="#000" stroke-width="1.4"/>
<text transform="translate(157.61,919.00) scale(0.8096,1)" font-size="23.33" fill="#000">WT Control</text>
<text transform="translate(157.61,940.90) scale(0.8257,1)" font-size="22.75" fill="#000">WT NaCl</text>
<text transform="translate(159.84,965.40) scale(0.8946,1)" font-size="20.92" font-style="italic" fill="#000">etr</text>
<text transform="translate(183.97,965.40) scale(0.8533,1)" font-size="21.78" fill="#000">Control</text>
<text transform="translate(159.84,987.70) scale(0.9012,1)" font-size="20.77" font-style="italic" fill="#000">etr</text>
<text transform="translate(183.35,987.70) scale(0.9009,1)" font-size="21.51" fill="#000">NaCl</text>
<rect x="170.90" y="1277.60" width="12.20" height="11.70" fill="#F4B61C" stroke="#000" stroke-width="1.4"/>
<rect x="170.90" y="1301.60" width="12.20" height="11.70" fill="#00964F" stroke="#000" stroke-width="1.4"/>
<text transform="translate(188.61,1291.60) scale(0.8233,1)" font-size="23.33" fill="#000">WT</text>
<text transform="translate(188.78,1313.80) scale(0.8292,1)" font-size="20.92" font-style="italic" fill="#000">etr</text>
<text transform="translate(21.00,1113.65) rotate(-90) scale(0.7800,1)" font-size="24.78" font-weight="bold" fill="#000">FW (g)</text>
<text transform="translate(371.60,1112.04) rotate(-90) scale(0.7918,1)" font-size="24.20" font-weight="bold" fill="#000">FW (g)</text>
<text transform="translate(19.50,1436.89) rotate(-90) scale(0.8379,1)" font-size="23.29" font-weight="bold" fill="#000">% Reduction</text>
<text transform="translate(368.60,1434.07) rotate(-90) scale(0.7990,1)" font-size="23.84" font-weight="bold" fill="#000">% Reduction</text>
<text transform="translate(87.98,1259.80) scale(0.9263,1)" font-size="22.47" font-style="italic" fill="#000">etr1b</text>
<text transform="translate(174.67,1259.80) scale(0.9305,1)" font-size="22.47" font-style="italic" fill="#000">etr1a</text>
<text transform="translate(259.66,1259.80) scale(0.9424,1)" font-size="22.47" font-style="italic" fill="#000">etr2b</text>
<text transform="translate(89.18,1479.50) scale(0.9152,1)" font-size="22.74" font-style="italic" fill="#000">etr1b</text>
<text transform="translate(174.67,1479.50) scale(0.9273,1)" font-size="22.74" font-style="italic" fill="#000">etr1a</text>
<text transform="translate(261.57,1479.50) scale(0.9172,1)" font-size="22.74" font-style="italic" fill="#000">etr2b</text>
<text transform="translate(440.69,1260.20) scale(0.8900,1)" font-size="22.88" font-style="italic" fill="#000">etr1b</text>
<text transform="translate(526.87,1260.20) scale(0.9197,1)" font-size="22.88" font-style="italic" fill="#000">etr1a</text>
<text transform="translate(615.87,1260.20) scale(0.9156,1)" font-size="22.88" font-style="italic" fill="#000">etr2b</text>
<text transform="translate(437.99,1479.90) scale(0.8900,1)" font-size="22.88" font-style="italic" fill="#000">etr1b</text>
<text transform="translate(525.77,1479.90) scale(0.9178,1)" font-size="22.88" font-style="italic" fill="#000">etr1a</text>
<text transform="translate(614.77,1479.90) scale(0.9136,1)" font-size="22.88" font-style="italic" fill="#000">etr2b</text>
<g id="photos">
<rect x="101.8" y="19" width="246.6" height="200.0" fill="#000"/>
<rect x="351.9" y="19" width="246.7" height="200.0" fill="#000"/>
<rect x="101.8" y="221" width="246.6" height="200.0" fill="#000"/>
<rect x="351.9" y="221" width="246.7" height="200.0" fill="#000"/>
<rect x="101.8" y="435.2" width="246.8" height="200.0" fill="#000"/>
<rect x="351.8" y="435.2" width="245.3" height="200.0" fill="#000"/>
<rect x="101.8" y="637.1" width="246.8" height="198.3" fill="#000"/>
<rect x="351.8" y="637.1" width="245.3" height="198.3" fill="#000"/>
<g filter="url(#pblur)"><path d="M211.0 178.0 C211.2 175.0 211.5 166.3 212.0 160.0 C212.5 153.7 213.7 143.3 214.0 140.0" fill="none" stroke="#9CC46A" stroke-width="2.2" stroke-linecap="round" opacity="1.0"/>
<path d="M170.0 135.0 C174.2 133.5 187.7 128.2 195.0 126.0 C202.3 123.8 210.8 122.7 214.0 122.0" fill="none" stroke="#7DB84A" stroke-width="1.8" stroke-linecap="round" opacity="1.0"/>
<path d="M214.0 122.0 C218.3 121.7 232.0 118.3 240.0 120.0 C248.0 121.7 258.3 130.0 262.0 132.0" fill="none" stroke="#7DB84A" stroke-width="1.8" stroke-linecap="round" opacity="1.0"/>
<path d="M214.0 122.0 C215.3 118.3 219.0 107.0 222.0 100.0 C225.0 93.0 230.3 83.3 232.0 80.0" fill="none" stroke="#7DB84A" stroke-width="1.8" stroke-linecap="round" opacity="1.0"/>
<path d="M214.0 122.0 C212.7 118.3 208.3 107.0 206.0 100.0 C203.7 93.0 201.0 83.3 200.0 80.0" fill="none" stroke="#7DB84A" stroke-width="1.8" stroke-linecap="round" opacity="1.0"/>
<use href="#lf11" fill="url(#lgB)"/><use href="#lf11" fill="#fff" filter="url(#ltex)" opacity="0.28"/>
<use href="#lf12" fill="url(#lgA)"/><use href="#lf12" fill="#fff" filter="url(#ltex)" opacity="0.28"/>
<use href="#lf13" fill="url(#lgA)"/><use href="#lf13" fill="#fff" filter="url(#ltex)" opacity="0.28"/>
<use href="#lf18" fill="url(#lgB)"/><use href="#lf18" fill="#fff" filter="url(#ltex)" opacity="0.28"/>
<use href="#lf14" fill="url(#lgC)"/><use href="#lf14" fill="#fff" filter="url(#ltex)" opacity="0.28"/>
<use href="#lf15" fill="url(#lgA)"/><use href="#lf15" fill="#fff" filter="url(#ltex)" opacity="0.28"/>
<use href="#lf16" fill="url(#lgA)"/><use href="#lf16" fill="#fff" filter="url(#ltex)" opacity="0.28"/>
<use href="#lf17" fill="url(#lgD)"/><use href="#lf17" fill="#fff" filter="url(#ltex)" opacity="0.28"/>
<path d="M211.0 163.0 L210.0 178.0" fill="none" stroke="#A8C878" stroke-width="2.4" stroke-linecap="round" opacity="1.0"/>
<path d="M322.0 53.1 L322.6 53.2 L323.0 55.6 L322.6 55.3 L323.9 57.6 L323.1 60.8 L321.4 62.7 L320.2 66.0 L320.9 69.8 L317.5 73.6 L317.7 78.1 L315.9 83.3 L314.8 87.7 L312.9 92.9 L313.1 98.3 L312.1 105.5 L312.0 109.6 L312.1 119.4 L313.7 128.3 L314.9 135.4 L314.5 145.2 L315.2 150.5 L313.7 156.1 L314.3 160.7 L313.5 164.8 L313.1 169.2 L311.7 171.1 L310.8 173.9 L311.2 178.6 L311.3 181.5 L310.6 184.3 L309.4 187.2 L309.9 190.4 L308.0 190.5 L305.1 189.2 L303.1 190.1 L302.9 189.2 L300.9 184.7 L300.9 180.9 L299.1 177.9 L299.5 174.3 L297.4 166.7 L296.2 159.8 L296.8 152.5 L294.3 145.7 L295.6 136.5 L295.5 127.6 L295.6 119.5 L295.1 111.1 L297.7 104.4 L298.5 101.0 L299.5 95.6 L302.0 90.5 L303.4 84.7 L307.2 80.0 L308.4 75.9 L311.9 71.2 L313.2 68.6 L313.7 65.9 L315.6 60.5 L317.0 58.7 L320.0 56.4 L319.1 56.5 L321.4 53.9 Z" fill="url(#rtA)"/>
<path d="M322.0 53.1 L322.6 53.2 L323.0 55.6 L322.6 55.3 L323.9 57.6 L323.1 60.8 L321.4 62.7 L320.2 66.0 L320.9 69.8 L317.5 73.6 L317.7 78.1 L315.9 83.3 L314.8 87.7 L312.9 92.9 L313.1 98.3 L312.1 105.5 L312.0 109.6 L312.1 119.4 L313.7 128.3 L314.9 135.4 L314.5 145.2 L315.2 150.5 L313.7 156.1 L314.3 160.7 L313.5 164.8 L313.1 169.2 L311.7 171.1 L310.8 173.9 L311.2 178.6 L311.3 181.5 L310.6 184.3 L309.4 187.2 L309.9 190.4 L308.0 190.5 L305.1 189.2 L303.1 190.1 L302.9 189.2 L300.9 184.7 L300.9 180.9 L299.1 177.9 L299.5 174.3 L297.4 166.7 L296.2 159.8 L296.8 152.5 L294.3 145.7 L295.6 136.5 L295.5 127.6 L295.6 119.5 L295.1 111.1 L297.7 104.4 L298.5 101.0 L299.5 95.6 L302.0 90.5 L303.4 84.7 L307.2 80.0 L308.4 75.9 L311.9 71.2 L313.2 68.6 L313.7 65.9 L315.6 60.5 L317.0 58.7 L320.0 56.4 L319.1 56.5 L321.4 53.9 Z" fill="#000" filter="url(#spk)" opacity="0.85"/>
<path d="M322.0 53.1 L322.6 53.2 L323.0 55.6 L322.6 55.3 L323.9 57.6 L323.1 60.8 L321.4 62.7 L320.2 66.0 L320.9 69.8 L317.5 73.6 L317.7 78.1 L315.9 83.3 L314.8 87.7 L312.9 92.9 L313.1 98.3 L312.1 105.5 L312.0 109.6 L312.1 119.4 L313.7 128.3 L314.9 135.4 L314.5 145.2 L315.2 150.5 L313.7 156.1 L314.3 160.7 L313.5 164.8 L313.1 169.2 L311.7 171.1 L310.8 173.9 L311.2 178.6 L311.3 181.5 L310.6 184.3 L309.4 187.2 L309.9 190.4 L308.0 190.5 L305.1 189.2 L303.1 190.1 L302.9 189.2 L300.9 184.7 L300.9 180.9 L299.1 177.9 L299.5 174.3 L297.4 166.7 L296.2 159.8 L296.8 152.5 L294.3 145.7 L295.6 136.5 L295.5 127.6 L295.6 119.5 L295.1 111.1 L297.7 104.4 L298.5 101.0 L299.5 95.6 L302.0 90.5 L303.4 84.7 L307.2 80.0 L308.4 75.9 L311.9 71.2 L313.2 68.6 L313.7 65.9 L315.6 60.5 L317.0 58.7 L320.0 56.4 L319.1 56.5 L321.4 53.9 Z" fill="#fff" filter="url(#spk2)" opacity="0.55"/>
<path d="M304.0 188.0 C303.5 190.0 302.3 196.3 301.0 200.0 C299.7 203.7 296.8 208.3 296.0 210.0" fill="none" stroke="#B8A080" stroke-width="1.0" stroke-linecap="round" opacity="0.8"/>
<path d="M300.0 170.0 C300.3 172.5 301.5 181.2 302.0 185.0 C302.5 188.8 302.8 191.7 303.0 193.0" fill="none" stroke="#D8B47E" stroke-width="1.6" stroke-linecap="round" opacity="0.9"/>
<path d="M308.0 172.0 C308.2 174.0 309.2 180.7 309.0 184.0 C308.8 187.3 307.3 190.7 307.0 192.0" fill="none" stroke="#D8B47E" stroke-width="1.4" stroke-linecap="round" opacity="0.9"/>
<path d="M312.0 108.0 C313.3 108.3 317.7 109.7 320.0 110.0 C322.3 110.3 325.0 110.0 326.0 110.0" fill="none" stroke="#B8A080" stroke-width="0.8" stroke-linecap="round" opacity="0.6"/>
<path d="M448.0 110.0 C445.0 109.0 436.0 105.7 430.0 104.0 C424.0 102.3 417.3 102.0 412.0 100.0 C406.7 98.0 402.0 94.2 398.0 92.0 C394.0 89.8 389.7 87.8 388.0 87.0" fill="none" stroke="#B8D282" stroke-width="2.6" stroke-linecap="round" opacity="1.0"/>
<path d="M388.0 87.0 C387.7 87.5 385.7 88.7 386.0 90.0 C386.3 91.3 389.3 94.2 390.0 95.0" fill="none" stroke="#9CBF6A" stroke-width="1.6" stroke-linecap="round" opacity="1.0"/>
<path d="M448.0 110.0 C446.7 107.7 443.0 100.7 440.0 96.0 C437.0 91.3 432.8 86.0 430.0 82.0 C427.2 78.0 424.2 73.7 423.0 72.0" fill="none" stroke="#B8D282" stroke-width="2.0" stroke-linecap="round" opacity="1.0"/>
<path d="M448.0 110.0 C448.7 107.0 450.8 97.3 452.0 92.0 C453.2 86.7 454.5 80.3 455.0 78.0" fill="none" stroke="#B8D282" stroke-width="2.0" stroke-linecap="round" opacity="1.0"/>
<path d="M450.0 114.0 C452.5 111.7 460.3 105.0 465.0 100.0 C469.7 95.0 474.2 90.0 478.0 84.0 C481.8 78.0 486.3 67.3 488.0 64.0" fill="none" stroke="#B8D282" stroke-width="2.2" stroke-linecap="round" opacity="1.0"/>
<path d="M448.0 110.0 C447.3 107.5 445.8 99.7 444.0 95.0 C442.2 90.3 438.2 84.2 437.0 82.0" fill="none" stroke="#B8D282" stroke-width="1.5" stroke-linecap="round" opacity="1.0"/>
<use href="#lf21" fill="url(#lgE)"/><use href="#lf21" fill="#fff" filter="url(#ltex)" opacity="0.28"/>
<use href="#lf22" fill="url(#lgE)"/><use href="#lf22" fill="#fff" filter="url(#ltex)" opacity="0.28"/>
<use href="#lf23" fill="url(#lgE)"/><use href="#lf23" fill="#fff" filter="url(#ltex)" opacity="0.28"/>
<use href="#lf24" fill="url(#lgE)"/><use href="#lf24" fill="#fff" filter="url(#ltex)" opacity="0.28"/>
<use href="#lf25" fill="url(#lgE)"/><use href="#lf25" fill="#fff" filter="url(#ltex)" opacity="0.28"/>
<path d="M448.0 110.0 C448.0 112.5 447.8 120.0 448.0 125.0 C448.2 130.0 448.5 135.0 449.0 140.0 C449.5 145.0 450.0 148.3 451.0 155.0 C452.0 161.7 454.3 175.8 455.0 180.0" fill="none" stroke="#B0B45C" stroke-width="4.5" stroke-linecap="round" opacity="1.0"/>
<path d="M442.0 148.0 C443.5 145.3 447.7 142.5 450.0 143.0 C452.3 143.5 455.2 147.7 456.0 151.0 C456.8 154.3 456.5 160.5 455.0 163.0 C453.5 165.5 449.3 166.7 447.0 166.0 C444.7 165.3 441.8 162.0 441.0 159.0 C440.2 156.0 440.5 150.7 442.0 148.0 Z" fill="#6F7A36" opacity="0.85"/>
<path d="M462.0 146.0 C462.3 144.3 468.8 141.0 472.0 141.0 C475.2 141.0 481.3 144.3 481.0 146.0 C480.7 147.7 473.2 151.0 470.0 151.0 C466.8 151.0 461.7 147.7 462.0 146.0 Z" fill="#D2C296"/>
<path d="M431.0 118.0 C431.8 116.2 438.5 114.2 441.0 115.0 C443.5 115.8 446.8 121.2 446.0 123.0 C445.2 124.8 438.5 126.8 436.0 126.0 C433.5 125.2 430.2 119.8 431.0 118.0 Z" fill="#94A452"/>
<path d="M459.0 117.0 C460.0 115.2 467.2 112.5 470.0 113.0 C472.8 113.5 477.0 118.2 476.0 120.0 C475.0 121.8 466.8 124.5 464.0 124.0 C461.2 123.5 458.0 118.8 459.0 117.0 Z" fill="#7A9040"/>
<path d="M522.0 65.0 L524.1 67.8 L526.1 67.9 L526.6 71.6 L528.5 73.6 L528.0 79.9 L526.9 87.0 L527.1 92.4 L527.1 99.7 L528.4 102.6 L528.7 108.0 L531.2 111.1 L532.7 115.5 L533.1 122.0 L532.1 129.3 L531.9 136.1 L532.3 142.8 L532.8 148.3 L531.9 155.4 L532.4 161.6 L531.1 167.7 L530.2 171.4 L530.6 175.5 L529.2 179.2 L528.9 184.8 L528.9 186.7 L527.6 191.4 L526.4 193.2 L526.4 196.6 L523.5 196.2 L522.6 195.0 L521.6 192.9 L520.3 192.5 L520.1 188.1 L519.5 184.5 L520.1 181.1 L519.6 178.6 L518.5 171.5 L517.8 163.9 L516.3 156.1 L516.0 148.4 L514.9 143.0 L516.1 138.2 L516.6 130.8 L516.2 125.0 L517.4 121.4 L517.4 116.4 L517.0 110.8 L517.3 105.3 L516.2 101.7 L515.3 98.4 L514.3 93.7 L513.6 91.6 L514.6 87.3 L516.1 81.9 L517.7 78.5 L519.0 74.6 L518.6 72.6 L519.0 68.7 L520.5 67.9 Z" fill="url(#rtB)"/>
<path d="M522.0 65.0 L524.1 67.8 L526.1 67.9 L526.6 71.6 L528.5 73.6 L528.0 79.9 L526.9 87.0 L527.1 92.4 L527.1 99.7 L528.4 102.6 L528.7 108.0 L531.2 111.1 L532.7 115.5 L533.1 122.0 L532.1 129.3 L531.9 136.1 L532.3 142.8 L532.8 148.3 L531.9 155.4 L532.4 161.6 L531.1 167.7 L530.2 171.4 L530.6 175.5 L529.2 179.2 L528.9 184.8 L528.9 186.7 L527.6 191.4 L526.4 193.2 L526.4 196.6 L523.5 196.2 L522.6 195.0 L521.6 192.9 L520.3 192.5 L520.1 188.1 L519.5 184.5 L520.1 181.1 L519.6 178.6 L518.5 171.5 L517.8 163.9 L516.3 156.1 L516.0 148.4 L514.9 143.0 L516.1 138.2 L516.6 130.8 L516.2 125.0 L517.4 121.4 L517.4 116.4 L517.0 110.8 L517.3 105.3 L516.2 101.7 L515.3 98.4 L514.3 93.7 L513.6 91.6 L514.6 87.3 L516.1 81.9 L517.7 78.5 L519.0 74.6 L518.6 72.6 L519.0 68.7 L520.5 67.9 Z" fill="#000" filter="url(#spk)" opacity="0.85"/>
<path d="M522.0 65.0 L524.1 67.8 L526.1 67.9 L526.6 71.6 L528.5 73.6 L528.0 79.9 L526.9 87.0 L527.1 92.4 L527.1 99.7 L528.4 102.6 L528.7 108.0 L531.2 111.1 L532.7 115.5 L533.1 122.0 L532.1 129.3 L531.9 136.1 L532.3 142.8 L532.8 148.3 L531.9 155.4 L532.4 161.6 L531.1 167.7 L530.2 171.4 L530.6 175.5 L529.2 179.2 L528.9 184.8 L528.9 186.7 L527.6 191.4 L526.4 193.2 L526.4 196.6 L523.5 196.2 L522.6 195.0 L521.6 192.9 L520.3 192.5 L520.1 188.1 L519.5 184.5 L520.1 181.1 L519.6 178.6 L518.5 171.5 L517.8 163.9 L516.3 156.1 L516.0 148.4 L514.9 143.0 L516.1 138.2 L516.6 130.8 L516.2 125.0 L517.4 121.4 L517.4 116.4 L517.0 110.8 L517.3 105.3 L516.2 101.7 L515.3 98.4 L514.3 93.7 L513.6 91.6 L514.6 87.3 L516.1 81.9 L517.7 78.5 L519.0 74.6 L518.6 72.6 L519.0 68.7 L520.5 67.9 Z" fill="#fff" filter="url(#spk2)" opacity="0.55"/>
<path d="M525.0 197.0 C526.3 197.3 530.8 199.8 533.0 199.0 C535.2 198.2 537.2 195.5 538.0 192.0 C538.8 188.5 538.0 180.3 538.0 178.0" fill="none" stroke="#D8C098" stroke-width="1.2" stroke-linecap="round" opacity="0.9"/>
<path d="M208.0 341.0 C206.6 337.5 201.2 326.6 199.5 319.8 C197.9 313.0 198.3 303.3 198.0 300.0" fill="none" stroke="#98C86A" stroke-width="2.0" stroke-linecap="round" opacity="1.0"/>
<path d="M208.0 341.0 C208.8 336.6 210.7 321.7 213.0 314.9 C215.3 308.1 220.5 302.5 222.0 300.0" fill="none" stroke="#98C86A" stroke-width="2.0" stroke-linecap="round" opacity="1.0"/>
<path d="M208.0 341.0 C211.5 338.1 223.1 330.5 229.2 323.6 C235.4 316.8 242.4 303.9 245.0 300.0" fill="none" stroke="#98C86A" stroke-width="2.0" stroke-linecap="round" opacity="1.0"/>
<path d="M208.0 341.0 C203.6 341.0 189.3 341.7 181.7 341.2 C174.0 340.7 165.3 338.5 162.0 338.0" fill="none" stroke="#98C86A" stroke-width="2.0" stroke-linecap="round" opacity="1.0"/>
<path d="M208.0 341.0 C203.0 343.9 186.7 353.3 178.2 358.5 C169.7 363.7 160.5 369.7 157.0 372.0" fill="none" stroke="#98C86A" stroke-width="2.0" stroke-linecap="round" opacity="1.0"/>
<path d="M208.0 341.0 C205.4 345.3 196.9 358.2 192.3 366.7 C187.6 375.2 182.0 387.8 180.0 392.0" fill="none" stroke="#98C86A" stroke-width="2.0" stroke-linecap="round" opacity="1.0"/>
<path d="M208.0 341.0 C208.3 345.1 210.5 355.9 210.0 365.7 C209.5 375.6 205.8 394.3 205.0 400.0" fill="none" stroke="#98C86A" stroke-width="2.0" stroke-linecap="round" opacity="1.0"/>
<path d="M208.0 341.0 C211.0 344.3 218.7 354.5 225.7 361.0 C232.7 367.5 246.0 376.8 250.0 380.0" fill="none" stroke="#98C86A" stroke-width="2.0" stroke-linecap="round" opacity="1.0"/>
<path d="M208.0 341.0 C210.4 342.4 219.3 347.9 222.7 349.4 C226.0 350.9 227.1 349.9 228.0 350.0" fill="none" stroke="#98C86A" stroke-width="2.0" stroke-linecap="round" opacity="1.0"/>
<use href="#lf31" fill="url(#lgC)"/><use href="#lf31" fill="#fff" filter="url(#ltex)" opacity="0.28"/>
<use href="#lf32" fill="url(#lgC)"/><use href="#lf32" fill="#fff" filter="url(#ltex)" opacity="0.28"/>
<use href="#lf33" fill="url(#lgB)"/><use href="#lf33" fill="#fff" filter="url(#ltex)" opacity="0.28"/>
<path d="M150.0 299.0 C151.8 298.2 155.3 299.2 157.0 302.0 C158.7 304.8 160.2 311.5 160.0 316.0 C159.8 320.5 155.8 324.8 156.0 329.0 C156.2 333.2 159.5 336.2 161.0 341.0 C162.5 345.8 164.7 352.0 165.0 358.0 C165.3 364.0 164.5 372.7 163.0 377.0 C161.5 381.3 159.2 383.3 156.0 384.0 C152.8 384.7 147.2 384.0 144.0 381.0 C140.8 378.0 137.7 371.2 137.0 366.0 C136.3 360.8 138.5 354.8 140.0 350.0 C141.5 345.2 145.5 341.7 146.0 337.0 C146.5 332.3 143.0 327.0 143.0 322.0 C143.0 317.0 144.8 310.8 146.0 307.0 C147.2 303.2 148.2 299.8 150.0 299.0 Z" fill="url(#lgC)"/>
<path d="M150.0 299.0 C151.8 298.2 155.3 299.2 157.0 302.0 C158.7 304.8 160.2 311.5 160.0 316.0 C159.8 320.5 155.8 324.8 156.0 329.0 C156.2 333.2 159.5 336.2 161.0 341.0 C162.5 345.8 164.7 352.0 165.0 358.0 C165.3 364.0 164.5 372.7 163.0 377.0 C161.5 381.3 159.2 383.3 156.0 384.0 C152.8 384.7 147.2 384.0 144.0 381.0 C140.8 378.0 137.7 371.2 137.0 366.0 C136.3 360.8 138.5 354.8 140.0 350.0 C141.5 345.2 145.5 341.7 146.0 337.0 C146.5 332.3 143.0 327.0 143.0 322.0 C143.0 317.0 144.8 310.8 146.0 307.0 C147.2 303.2 148.2 299.8 150.0 299.0 Z" fill="#fff" filter="url(#ltex)" opacity="0.38"/>
<use href="#lf36" fill="url(#lgA)"/><use href="#lf36" fill="#fff" filter="url(#ltex)" opacity="0.28"/>
<use href="#lf37" fill="url(#lgC)"/><use href="#lf37" fill="#fff" filter="url(#ltex)" opacity="0.28"/>
<use href="#lf38" fill="url(#lgC)"/><use href="#lf38" fill="#fff" filter="url(#ltex)" opacity="0.28"/>
<path d="M215.0 333.0 C215.3 331.0 221.2 329.2 224.0 330.0 C226.8 330.8 232.3 336.0 232.0 338.0 C231.7 340.0 224.8 342.8 222.0 342.0 C219.2 341.2 214.7 335.0 215.0 333.0 Z" fill="#A08850"/>
<path d="M210.0 360.0 C211.0 358.3 219.0 357.0 222.0 358.0 C225.0 359.0 229.0 364.3 228.0 366.0 C227.0 367.7 219.0 369.0 216.0 368.0 C213.0 367.0 209.0 361.7 210.0 360.0 Z" fill="#B09070"/>
<path d="M300.7 270.5 L302.1 272.8 L303.0 273.9 L302.9 276.2 L305.0 279.4 L306.1 285.2 L306.5 292.2 L306.1 298.0 L307.3 303.6 L309.1 306.5 L308.2 312.7 L309.4 317.2 L311.7 320.1 L313.0 329.4 L311.6 336.8 L314.0 343.5 L314.2 351.3 L314.5 356.7 L312.8 362.3 L312.6 367.1 L313.2 373.2 L312.0 375.6 L311.0 374.8 L309.7 376.9 L310.2 378.7 L308.4 375.9 L305.6 372.8 L303.9 371.2 L303.4 369.1 L300.9 365.5 L297.6 361.9 L297.6 359.8 L294.3 356.6 L293.6 353.7 L293.0 349.0 L290.6 345.4 L289.1 342.0 L290.2 336.0 L289.7 333.5 L288.5 329.3 L287.9 324.5 L290.7 320.3 L290.9 315.0 L291.1 308.4 L292.5 304.0 L294.7 298.7 L294.1 294.4 L295.9 289.3 L295.8 283.8 L297.1 281.5 L299.9 278.0 L299.5 272.8 Z" fill="url(#rtB)"/>
<path d="M300.7 270.5 L302.1 272.8 L303.0 273.9 L302.9 276.2 L305.0 279.4 L306.1 285.2 L306.5 292.2 L306.1 298.0 L307.3 303.6 L309.1 306.5 L308.2 312.7 L309.4 317.2 L311.7 320.1 L313.0 329.4 L311.6 336.8 L314.0 343.5 L314.2 351.3 L314.5 356.7 L312.8 362.3 L312.6 367.1 L313.2 373.2 L312.0 375.6 L311.0 374.8 L309.7 376.9 L310.2 378.7 L308.4 375.9 L305.6 372.8 L303.9 371.2 L303.4 369.1 L300.9 365.5 L297.6 361.9 L297.6 359.8 L294.3 356.6 L293.6 353.7 L293.0 349.0 L290.6 345.4 L289.1 342.0 L290.2 336.0 L289.7 333.5 L288.5 329.3 L287.9 324.5 L290.7 320.3 L290.9 315.0 L291.1 308.4 L292.5 304.0 L294.7 298.7 L294.1 294.4 L295.9 289.3 L295.8 283.8 L297.1 281.5 L299.9 278.0 L299.5 272.8 Z" fill="#000" filter="url(#spk)" opacity="0.85"/>
<path d="M300.7 270.5 L302.1 272.8 L303.0 273.9 L302.9 276.2 L305.0 279.4 L306.1 285.2 L306.5 292.2 L306.1 298.0 L307.3 303.6 L309.1 306.5 L308.2 312.7 L309.4 317.2 L311.7 320.1 L313.0 329.4 L311.6 336.8 L314.0 343.5 L314.2 351.3 L314.5 356.7 L312.8 362.3 L312.6 367.1 L313.2 373.2 L312.0 375.6 L311.0 374.8 L309.7 376.9 L310.2 378.7 L308.4 375.9 L305.6 372.8 L303.9 371.2 L303.4 369.1 L300.9 365.5 L297.6 361.9 L297.6 359.8 L294.3 356.6 L293.6 353.7 L293.0 349.0 L290.6 345.4 L289.1 342.0 L290.2 336.0 L289.7 333.5 L288.5 329.3 L287.9 324.5 L290.7 320.3 L290.9 315.0 L291.1 308.4 L292.5 304.0 L294.7 298.7 L294.1 294.4 L295.9 289.3 L295.8 283.8 L297.1 281.5 L299.9 278.0 L299.5 272.8 Z" fill="#fff" filter="url(#spk2)" opacity="0.55"/>
<path d="M298.0 366.0 C297.2 369.2 294.8 377.3 293.0 385.0 C291.2 392.7 288.0 407.5 287.0 412.0" fill="none" stroke="#C8C0B0" stroke-width="1.0" stroke-linecap="round" opacity="0.8"/>
<path d="M308.0 377.0 C306.0 380.0 297.3 389.8 296.0 395.0 C294.7 400.2 298.3 406.8 300.0 408.0 C301.7 409.2 305.0 403.0 306.0 402.0" fill="none" stroke="#C8C0B0" stroke-width="1.0" stroke-linecap="round" opacity="0.8"/>
<path d="M449.0 350.0 C449.5 345.0 451.5 330.0 452.0 320.0 C452.5 310.0 452.0 295.0 452.0 290.0" fill="none" stroke="#86BC58" stroke-width="2.0" stroke-linecap="round" opacity="1.0"/>
<path d="M449.0 350.0 C445.8 346.7 436.0 337.5 430.0 330.0 C424.0 322.5 415.8 309.2 413.0 305.0" fill="none" stroke="#86BC58" stroke-width="1.8" stroke-linecap="round" opacity="1.0"/>
<path d="M449.0 350.0 C454.2 347.5 470.7 340.3 480.0 335.0 C489.3 329.7 500.8 320.8 505.0 318.0" fill="none" stroke="#86BC58" stroke-width="1.8" stroke-linecap="round" opacity="1.0"/>
<path d="M449.0 350.0 C450.3 345.8 454.8 332.5 457.0 325.0 C459.2 317.5 461.2 308.3 462.0 305.0" fill="none" stroke="#86BC58" stroke-width="1.6" stroke-linecap="round" opacity="1.0"/>
<path d="M449.0 350.0 C445.8 351.7 436.2 357.0 430.0 360.0 C423.8 363.0 415.0 366.7 412.0 368.0" fill="none" stroke="#86BC58" stroke-width="1.8" stroke-linecap="round" opacity="1.0"/>
<path d="M449.0 350.0 C450.0 355.0 453.0 370.0 455.0 380.0 C457.0 390.0 460.0 405.0 461.0 410.0" fill="none" stroke="#8CBF62" stroke-width="2.2" stroke-linecap="round" opacity="1.0"/>
<path d="M449.0 350.0 C453.3 350.0 467.3 350.8 475.0 350.0 C482.7 349.2 492.5 345.0 495.0 345.0 C497.5 345.0 490.8 349.2 490.0 350.0" fill="none" stroke="#86BC58" stroke-width="1.4" stroke-linecap="round" opacity="1.0"/>
<use href="#lf41" fill="url(#lgA)"/><use href="#lf41" fill="#fff" filter="url(#ltex)" opacity="0.28"/>
<use href="#lf42" fill="url(#lgA)"/><use href="#lf42" fill="#fff" filter="url(#ltex)" opacity="0.28"/>
<use href="#lf43" fill="url(#lgC)"/><use href="#lf43" fill="#fff" filter="url(#ltex)" opacity="0.28"/>
<use href="#lf44" fill="url(#lgA)"/><use href="#lf44" fill="#fff" filter="url(#ltex)" opacity="0.28"/>
<use href="#lf45" fill="url(#lgA)"/><use href="#lf45" fill="#fff" filter="url(#ltex)" opacity="0.28"/>
<use href="#lf46" fill="url(#lgB)"/><use href="#lf46" fill="#fff" filter="url(#ltex)" opacity="0.28"/>
<path d="M495.0 290.0 C495.7 288.3 497.3 283.0 499.0 280.0 C500.7 277.0 504.0 273.3 505.0 272.0" fill="none" stroke="#A8C870" stroke-width="2.5" stroke-linecap="round" opacity="1.0"/>
<path d="M555.5 289.3 L556.6 290.8 L557.7 294.0 L557.4 297.3 L558.3 298.5 L557.3 303.9 L557.7 309.9 L557.3 316.6 L559.1 323.5 L560.6 328.1 L561.8 332.1 L562.8 337.4 L566.3 341.9 L565.8 346.2 L566.5 350.4 L567.7 354.0 L569.4 357.4 L568.2 361.6 L567.9 365.4 L567.4 370.8 L567.0 374.0 L566.0 377.9 L564.1 382.5 L562.8 387.3 L560.7 390.6 L559.7 390.0 L559.6 391.1 L557.5 389.9 L556.6 388.5 L554.0 386.6 L551.3 385.0 L547.7 381.7 L546.6 378.7 L543.5 373.7 L541.4 369.8 L539.7 364.1 L537.4 359.8 L537.8 354.5 L539.3 349.6 L539.1 343.4 L541.0 335.9 L541.5 333.7 L544.4 328.8 L546.6 326.6 L549.5 322.8 L551.1 317.1 L552.0 312.1 L550.9 308.6 L551.8 304.3 L553.8 300.9 L553.0 296.5 L553.9 291.5 Z" fill="url(#rtA)"/>
<path d="M555.5 289.3 L556.6 290.8 L557.7 294.0 L557.4 297.3 L558.3 298.5 L557.3 303.9 L557.7 309.9 L557.3 316.6 L559.1 323.5 L560.6 328.1 L561.8 332.1 L562.8 337.4 L566.3 341.9 L565.8 346.2 L566.5 350.4 L567.7 354.0 L569.4 357.4 L568.2 361.6 L567.9 365.4 L567.4 370.8 L567.0 374.0 L566.0 377.9 L564.1 382.5 L562.8 387.3 L560.7 390.6 L559.7 390.0 L559.6 391.1 L557.5 389.9 L556.6 388.5 L554.0 386.6 L551.3 385.0 L547.7 381.7 L546.6 378.7 L543.5 373.7 L541.4 369.8 L539.7 364.1 L537.4 359.8 L537.8 354.5 L539.3 349.6 L539.1 343.4 L541.0 335.9 L541.5 333.7 L544.4 328.8 L546.6 326.6 L549.5 322.8 L551.1 317.1 L552.0 312.1 L550.9 308.6 L551.8 304.3 L553.8 300.9 L553.0 296.5 L553.9 291.5 Z" fill="#000" filter="url(#spk)" opacity="0.85"/>
<path d="M555.5 289.3 L556.6 290.8 L557.7 294.0 L557.4 297.3 L558.3 298.5 L557.3 303.9 L557.7 309.9 L557.3 316.6 L559.1 323.5 L560.6 328.1 L561.8 332.1 L562.8 337.4 L566.3 341.9 L565.8 346.2 L566.5 350.4 L567.7 354.0 L569.4 357.4 L568.2 361.6 L567.9 365.4 L567.4 370.8 L567.0 374.0 L566.0 377.9 L564.1 382.5 L562.8 387.3 L560.7 390.6 L559.7 390.0 L559.6 391.1 L557.5 389.9 L556.6 388.5 L554.0 386.6 L551.3 385.0 L547.7 381.7 L546.6 378.7 L543.5 373.7 L541.4 369.8 L539.7 364.1 L537.4 359.8 L537.8 354.5 L539.3 349.6 L539.1 343.4 L541.0 335.9 L541.5 333.7 L544.4 328.8 L546.6 326.6 L549.5 322.8 L551.1 317.1 L552.0 312.1 L550.9 308.6 L551.8 304.3 L553.8 300.9 L553.0 296.5 L553.9 291.5 Z" fill="#fff" filter="url(#spk2)" opacity="0.55"/>
<path d="M558.0 390.0 C557.0 392.0 554.2 399.2 552.0 402.0 C549.8 404.8 546.8 406.7 545.0 407.0 C543.2 407.3 541.7 404.5 541.0 404.0" fill="none" stroke="#D8C8A0" stroke-width="1.4" stroke-linecap="round" opacity="0.9"/>
<g clip-path="url(#rb0)">
<rect x="155" y="466" width="129" height="145" fill="#7A2E16"/>
<rect x="155" y="466" width="129" height="145" filter="url(#soil0)"/>
<g filter="url(#soft)">
<path d="M275.8 474.4l-1.1-2.3-1.4-1.8-2.3-1.6-2.7-.9-2.2 0-3.1-.1-3 1.6-1.6 2.5-.5 2.4 M225.9 492.1l-3.5-.6-3.8 1.1-3.4 .3-2-.7-2 .4-2.2 2-2 2.5-1.6 2.9 M211 474.4l2.1-1 2.6-.1 3.6 0 2.2 .1 M182.3 485.1l-2.2-1.3-2-2.3-2.3-2.3-2.5-2.3-3.2-1.1-2-1.3 M200.3 473.5l-3.1-.7-2.8-1.4-3.5-1.1-3.2 .8-2.7-.4-2.7 .6-2.2 .3 M234.2 472.4l-3.6-.6-2-1.2-2.6-2.7-3.2-2.3-2.4-2-2.3-.6 M162.2 474.3l-1 2.8-1.3 1.9-2.5 2.1-2.4 1.4-2.4 2.5-2.8 2.3-1.1 3.2 M242.1 494.2l-1.8-2.3-3.1-1.9-2.7-.4-2.4 .6-3-.1-2.9 .9-3.5 1.4-2.6-.1-2 .8 M250.6 497.6l-.1-2.6-1.8-2.7-2.3-2-2.1-.7-2.9-1.7-1.8-2.3-1.7-3.3 M264.5 466.1l2.6 .9 2.5 .8 1.9 1.1 3.2 1.9 M258 494.2l3.2 .6 3.9-.5 2-.7 1.9-1.5 M258.8 473.1l-3.2-.1-2.9 .8-2.4 .1-3.3 2.3-2.1 .6-2 1.5-3.5 2 M265.6 465.9l-2-2.8-1-2.4-2.1-3.2-1.4-2.1-2.6-2.2 M225.9 489l3.6 .1 3.8 .7 3.9 .1 2.1-.5" fill="none" stroke="#C27450" stroke-width="0.75" opacity="0.6" stroke-linejoin="round"/>
<path d="M205.1 500.7l-2.5-3-2.6-1.2-2.7 .5-2.7 2.3-.9 3.1-1.6 2.1-1.5 1.6 M211.9 478.4l.3 2.6 .6 3.3 1.7 3.6 1.4 2.3 M267.2 467.2l2.9-.8 3-1.9 3.9-.3 1.8-1.3 2.3-1.3 2.7-1 2.3-1.4 M156.9 478.4l-1.1-2.8-1.9-1.8-1.3-3.5-1.7-2.7 0-3.9-1.1-1.8-.2-2.1 M159 485.9l2.1-1.2 3.7-.1 1.9-.6 2.3 .2 2 .5 M163 476.4l-.1 2.1-.5 3.5 .8 3.3 .6 2.9 M180.4 485l3.4 .5 3.3 2 2 2.6 1.7 2.8 3 1.6 1.8 1.8 M277 484.2l3.3-1.3 2.9-2.7 .9-2.3-.9-3.9-1.2-1.9 M244.3 483.8l2.4-.6 3.5-.4 3.8 1.2 1.7 2 1 2 1.2 2 .5 2 M226.3 471.5l-1.5 1.5-1.6 3.5-.3 3.1-1.7 2.8 M215.6 486.8l-1.7-1.8-.7-3.4-.8-3.1-1.9-2.2-3.1-.9-1.9-1.3-3.5-.8-3.1-1 M253.3 493.7l1.7 2.3 1.6 1.6 3.1 2.2 2.3 .7 2.1 1.1 2.3 2.8 M179.8 482.2l-2.6-2.2-2.7-1.7-2.5-2.3-.9-3.8-.6-3.9 M186.8 484.7l-.5 2.3 .4 2.6-.9 2.9-.1 2.7 .6 3.4" fill="none" stroke="#C27450" stroke-width="1" opacity="0.7" stroke-linejoin="round"/>
<path d="M266.3 500.6l2-2.1 2.4-2 1.2-3.5 .6-2.7-.2-2.2 1.3-2.6 2.9-2.6 M199.5 475.4l3.4 .5 3.5 .5 2.7 .7 2.7-.1 2.6 1.1 3.8 .9 2.8 1.9 3.4 .6 2.3 .5 M186.8 486.5l-.5-2.6-1.2-3-1.8-2.9-.8-1.9-2.4-2.8-.8-3.6 M159.2 475l3.2 1.7 3.5 1.1 2.4-.7 3.4-.4 2.6 1 2.5 2.7 1.5 3.2 1.5 2.4 M274.2 486.4l-2.2 1.3-1 1.9-.5 2.1-1.5 3.6-.7 3.6 M184.7 487l3.6-1.5 3.1-1.5 2.1-.5 3-1.9 2.6-.8 2.1-.2 3.4-2 M158.7 493l1.6 1.7 2.4 1.3 3.5 0 3 1.4 M215.6 492.5l-2.4 0-3.4-1.3-2.6-2.4-1.8-2.5-2.4-2.7-1.3-3.1 M225.2 465.8l-1.6 2.5-.2 3.2-.2 3.2 .3 2.1-1.2 3.7-1.7 1.5 M202.8 503.7l2.6 .9 3.6 .1 1.9 1.1 2.2 .9 M239.6 476.2l3.7 0 2.9 .6 3.1 2.4 1.2 3.1 1.5 3.4 .1 2.8 1.6 2.7 .3 3 M220.2 472.7l1.4-2.2 1.1-2.2 2.6-1.6 1.3-1.6 2.9-1.5 2.6-1.6 M197.7 473.6l-3.6 1.2-3.7-.6-2.2-1.3-2.8-2.3-1.9-2-.7-2.7-1-3.6-2.4-3-2.6-2" fill="none" stroke="#C27450" stroke-width="1" opacity="0.5" stroke-linejoin="round"/>
<path d="M175.7 477.7l1.9 2 2.6 1.2 1.9 2 1.6 1.2 3.8 .6 2.4 1.3 1.9 .9 1.8 2.3 1.1 3.4 M215.7 482.8l2.2 .8 2.3-.3 2 .7 2.2 .2 2.5 .1 1.9-1 3.3-.3 M209.9 475.8l2.4-2.6 .9-3.7-.6-2.6 .3-2.9 .7-2.2 1.4-3.3 .5-2.9 .8-3 1-3.4 M158.8 503l2.5 2.2 2 1.9 3.8 .8 2.4 1.5 M170.3 500.9l3-2.2 1-2.4-.5-2.6-.7-2-.6-2.8-1.4-2.1-.3-2.7 .8-3.8 .8-2.1 M165.9 493l.1-3.8 .5-2.5 1.2-1.7 2.6-.9 3-2.4 M223.3 495l.8 3.8 1 3.5 1.8 2.2 2.4 1.6 2.3 2 1.9 1.6 1.9 1.7 1 2.7 2.3 2.3 M241.9 469.6l-1.9 2.3-3.1 1.9-3.5 1.7-2.4-.1-1.9-1.4-2.4-2.9-.7-2.6 .4-3.6-.3-3.3" fill="none" stroke="#C27450" stroke-width="1.25" opacity="0.5" stroke-linejoin="round"/>
<path d="M260.3 469.2l-2.3-1-2.7-.4-3.1-.4-2.1 .7-3.1 2.1-.8 2 .4 3.5 M228 490.7l-.7-3.3 .7-1.9 .2-3.2-.7-3.7-1.6-1.6-1.8-1-2.5-.3-3.5 .9-2.4 .2 M196.1 496.6l2.5 2.3 3.3 1.1 3.1-.6 3.3 .8 1.9 1.9 3.2 2 1.9 2 2.8 .8 M189.1 494.3l2.3 .1 2.3 1 2.6 2.8 2.2 2.5 .3 2.5 .1 2.2-1.6 3.1-2.6 1.4-2.7 1.2 M155.4 469.5l-2.7-.1-3.2 .3-3.2-1.1-2.9-.6-2.7-1.1-3.6-.9 M195.4 480.1l-.3 2.3 .8 3.8 1.4 2.9 .2 3.2-.2 2.9 M262.3 500.5l-2.8-2.2-1.7-2.4-1.7-1.3-2-2.8" fill="none" stroke="#C27450" stroke-width="1" opacity="0.8" stroke-linejoin="round"/>
<path d="M244.1 486.4l-2.1 .4-2.8 1.5-3.2 .7-2.5-.5-2-1-1.3-1.7-2.7-1.7-3.3-1.9 M171.6 480.3l-3.2 2.4-3.7 1.2-2.2 2.3-1 2.9-.3 2.8-2 2.7-.7 2.5 M196.7 495l2-3 .1-2.8 .4-2 0-2.4-1.8-3.4 M193 498.8l2.2-1 2.2-3.2 1.2-2.3 1.5-1.8 2.4-1.2 2.7-1.2 M199.7 482.4l2.1-1.2 1.8-1 3.2-.1 2.7-1.2 2.4-.4 M191.1 499.3l2.3 1.8 1.2 3.3 .5 3.1 .1 2.9 .5 2 1.7 2.5 1 2.3-.2 3.4 M159.8 496.8l2.6-1.3 3.2-1.9 3.6-1.2 3.6 .5 M264 486.1l-2.7-.7-3 .2-2 .5-3.2 .3-1.8 1.2 M270.7 496.7l.5-3.8 .6-3.1 1.3-2.6 .5-2.2 M270.1 481.5l-3.6 1.4-2.6 2.6-.4 2.5 .9 2.5 2.6 2 2.7 2.5 1.2 1.8 .7 3.4 M252.3 500.1l2.4 2.2 2.6 .4 2.1 0 2.9 .5" fill="none" stroke="#C27450" stroke-width="1" opacity="0.6" stroke-linejoin="round"/>
<path d="M207.3 468.3l3.5-.1 2.1 .9 2.1 .6 2.3 2.4 3.2 1.6 1.6 1.2 2.1 1.1 M185.1 488.9l-.6 2.6-.1 4-1.3 1.9-2.5 2.4-2.3 1.3 M262.4 495.3l-2.3-3-2.4-2-1.2-1.7-1-3.8 .4-2.5 M234.4 476l.6-3.1-1-2.7 .2-2.6 .3-2.5 0-3.3-1.3-3 M221.6 495.4l-1.3 1.8-2.2 2-3.7 1.6-1.6 1.2-3.6 1.3-2.7 .5 M161.5 484.3l3.1 .1 2.4 .7 2.2 1 2.1 .6 2.8 2.1 3.2 1.1 2.8 2.7 1.3 2 .9 2.8 M279.5 479.1l2.3 .5 2.9 .3 2.6-.4 2.3-.8 3.4 0 2.3 1 2.1 3.1 M258.2 472.4l-1.6 1.6-2 .6-3.3 2-1.7 2.9-2.3 1.9-2.6 1.5 M179.8 470.4l.3 3.3 2 2.9 .2 3.2 1.8 2.8 1.8 1 3.9-.1 M269.2 479.5l-2.3-2-2.3-2.4-1.7-2.7-1.1-2.7-.3-3.3 1-3 0-3.6 M185.9 474.3l2.8 1.2 2.6-.1 2.6-.4 3.9 .7 M163.6 498.5l1.4 3 2.5 2.1 1.8 1.9 1.3 3 2.4 1.7 2.6 1 2.3 1.4 2.7 2.7 .8 2.2" fill="none" stroke="#C27450" stroke-width="0.75" opacity="0.5" stroke-linejoin="round"/>
<path d="M255.7 469.2l-1.9 .9-3 1-2 1.3-1.6 3.2 .3 2.8 M167.7 489l1.1-2 3.1-2.1 3.5-1.2 2.2-.1 2.2-.2 2.4 .4 M246.5 467.3l.1-3 .7-2.2 1.2-3 .2-3.8 M243.3 499.5l1.7-1.8 .4-3 0-3 1.3-2 M271.6 481.9l2.1 1.5 1.8 2.5 .7 2.6 1.1 1.7 3.3 2.2 M226.4 495l2.1-.3 2 .7 2.7 1.7 1.8 3.3 2.7 2.8 3.2 2.2 M224.2 502.9l-1.3 2.8-1.6 1.5-.8 2.1-1.3 2.6-1 3.2-1.7 3-1 2.8-2.7 1.9-1.9 1.3 M159.3 492l-2.2 .9-3.4 .8-4 0-1.8 .8-1.2 1.9-1.7 1.2 M279.5 483.6l2.6-2.2 2.6-1 2.4 .2 2.4 .3 3.1-.3 3.2-1.9 3.7-.5 1.6-1.5" fill="none" stroke="#C27450" stroke-width="1.25" opacity="0.7" stroke-linejoin="round"/>
<path d="M276 491.1l2.1 0 3.3 1.4 1.4 1.8 .4 3 2.4 3.2 3.2 2 2.4 2.4 M202.8 468.9l-.7 3.2-1.8 2.7-3.4 1.9-3.8 1-3.3 1.1 M171.4 475l-2.1-3-1.3-2-2.5-1.3-2.2-1.9-2.6-1.3-3.4-1.4-2.8 .1 M252.7 483.1l-3.5-.4-3.2-1.2-3.3-1.9-3.4-1.6 M172.6 496l-2.5-.9-3-.8-2.5-1.1-2.8 .3-2.3 .8-2.7 1.6-3.9 1-2.4-.1" fill="none" stroke="#C27450" stroke-width="0.75" opacity="0.7" stroke-linejoin="round"/>
<path d="M282.2 470.4l-.2 2.5-.8 1.8-1.3 2.4-.3 2.4-.1 3.4-1.5 2.7-2.7 2.5-1.7 1.7-1.9 1.7 M158.8 479.2l-1 2.7-2.6 2.8-.7 2.1-.4 2.1 M232.5 500l-2-1.1-1.7-3.1-2.4-1.6-3.2-1.1-1.9-2-2.9-2.7-3.4-1.6-2.7-1.3-1.9-2" fill="none" stroke="#C27450" stroke-width="1.25" opacity="0.8" stroke-linejoin="round"/>
<path d="M166.1 501.6l1.2-3.7 2-2.3 2.5-1.3 3.1-2.1 2.4-2 3.4-.4 1.9-1.5 3.6-1 M193.6 484.9l-2.3-1.1-3.4-1.5-2.8-2.4-1.8-2-1.2-3.4-2.4-3.1-2.3-2.6-2.6-1.3-3.3-1.5 M254.7 490l2.2-2.2 2.4-.6 2.8-.3 2.9-1.9 3.6-.2 1.8 1 M159.4 466.6l1.1-2.9 .3-2.6 1.1-3.7 1.1-3.4 0-3.8-.2-2.5-1.2-2.2-2.3-2.3-1.5-1.9 M275.4 476.2l-.9-2.5-1.6-3.6-1.8-2.5-1.5-3.3-.7-2 0-2.8 .9-1.8 1.4-3.3 .4-2.1 M205.2 466.5l-2.8-.4-2.1 .7-3.1 0-2.6-.9-1.4-1.6-1.5-1.6-1.8-2.6-1.2-3.2-1.2-3.7 M282 490.1l1-2.8 2-3 2.5-2.9 1.1-2.5 M193.3 487.2l-1.4 3.3-2 3.4-2.6 1.8-1.5 3.2" fill="none" stroke="#C27450" stroke-width="1.25" opacity="0.6" stroke-linejoin="round"/>
<path d="M235.3 466.3l-2.7-2.2-1.4-2.4-2.8-1.4-1.9-.7-2-1-2.7-1.7-2-.2-2.4 0-2.3 1.4 M203.6 466l-1.9-2.3-3.8-1.3-3-1.7-2.9-1.1 M161.1 472.9l.3-3.3-1.1-2.4-1.8-2.7 .1-2.3-1.8-2.9 0-2.1 1.8-2.9 M216.5 483.4l0 2.8-1.8 2.8-.3 2.9 .5 2.3-.2 3.6-1.1 2.2-1.9 1.5-.7 2.2 M240.3 483.6l-1.9-2.3-2.4-1.4-2.3-3.2-.5-3.7 1.2-3.1 .5-2.5 1.9-2.8" fill="none" stroke="#C27450" stroke-width="0.75" opacity="0.8" stroke-linejoin="round"/>
<path d="M188.1 483l1.6 1.3 3.6 1.1 2.9 .6 3.3-1 2.6-1.3 3.2-1.3" fill="none" stroke="#C27450" stroke-width="1.25" opacity="0.4" stroke-linejoin="round"/>
<path d="M182.4 576.3l2.4-2.8 1.6-2.1 .7-2.5 1.5-2.1 2-2.9 .2-3.3 M228.2 606.5l2.7 1.6 2.4 .5 3.1 1.1 2.6 .8 M274.6 503.7l-2.1 3-2.2 2.4-2.3 .9 M246 531.5l-.2-3.4-.5-2.1-.5-3.6-.7-3.5-1-2-1.8-2.8 M159.7 528.2l2.5 .4 3.4-.1 2.5-.8 2.4-1.3 M203.4 524.2l2.9 1.9 1.2 2.1 2.5 1.4 2.6 1.7 3.9 .5 2.1-.9 M176.3 549.1l-2.5-1.1-2.5-.8-3.3-2.1-3.2-.9-2.7 .2-2-.9-3.1 .7 M249.7 534.4l0 2.9-.1 3.9 .7 2.4" fill="none" stroke="#A85A38" stroke-width="1" opacity="0.6" stroke-linejoin="round"/>
<path d="M160.1 595.4l-1.3 3.6 0 2.9 1.2 2.6 M186 517.1l2.7 2 1.2 3.3 2.2 1.8 1.5 1.8 1.5 2.7 M266.8 555.5l-2.7 2.3-1.8 1-1.8 1.6-1.9 .6-2.5 .5-2.5 2.1-2.6 1.7 M155.9 554.5l2.5 1.2 2.1 3.4 2.6 2.7 1.3 3.6 M180.3 555.2l-.2-3.3 1.6-2.7 .1-2.1 .9-2.6 M183.5 537.1l-1.9-3.3-.7-1.9-.5-3.3-2.3-3.3-.1-3.1-1.1-2.4 M161.4 590.1l-1.6 2.2-1.4 3 .1 2.4 .9 2.5 1.8 2.1 2.9 1.7 M195.9 501.6l2.3 2.6 1.9 3.4 1.1 3.7 .7 2.2 2.1 3.1 1.1 3.3 M227.4 559.1l2.3-1.5 1.9-1.6 1.9-3.1 .8-3.2 .3-2.7 .9-2.2 1.5-3.6" fill="none" stroke="#A85A38" stroke-width="1" opacity="0.4" stroke-linejoin="round"/>
<path d="M231.9 562.1l1.6 3.3 .2 3.6-.8 3.9 1.1 3.5 2.5 2.9 .8 2.5 .7 2.9 M226.5 530.6l1.6 1.5 1 2.2 .2 2.7 .6 3.1 M202.5 516.9l-.5-2-1.3-1.8-.8-2.3 M268.8 549.1l-1.7-1.1-1.2-2.2-2.5-2.1-1.3-2-2.3-2.4-2.1-1.4-3-1.3 M236.1 512.7l2.1 0 3.5-1.1 2.7-.1 3.8 .7 3.2-1.4 1.6-1.3 2.8-.9 M194 511.1l-1.9 1.1-2.5 .7-2.6 2.2-2.8 .8 M243.7 549.4l-1.5-2.1-2.9-2-2.2-2.5-1.1-2.2" fill="none" stroke="#A85A38" stroke-width="1" opacity="0.5" stroke-linejoin="round"/>
<path d="M248.1 503.5l3.2 1.6 2.2 2.1 2.1 1.1 3.5 .7 3.4 1.8 M278.6 518.6l-1.5-1.4-2.3-1.6-1.6-1.5-.7-2.3 M171.4 512.1l-2.6 1.2-2.1 1-2.3 2 M263 593.1l3.4 .2 3.4-.9 2.4-.8 2.3 .2 M248.8 579.7l3.4-1.8 2.3-.5 2.4 .3 3.7-1.3 2.5-.1 M193.4 506.9l-1.8-2.5-2.2-2.5-1.8-3.4-1.4-1.8-2.1-2.2-2.3-1.9" fill="none" stroke="#A85A38" stroke-width="0.75" opacity="0.6" stroke-linejoin="round"/>
<path d="M260.2 512.5l.2 4 .3 3-.9 2 M165.4 541.4l-3.2-2-2-2.6-.5-3.9 .8-3 .2-4 M183.5 551.8l1.1 2.5 1.2 2.9 .4 3.7 M281.6 526.1l2.9 1.9 2.9 1.6 3.2 .3 2.6-.9 1.9-2.2 2.1-1.8 .8-1.9 M265.4 574.6l3.6 .4 2.1 .8 2.5-.2 2.7 .3 1.7 1.3 1.8 1.7 M214.1 568.8l-2.4-1.3-1.7-1.2-3.6-.9-3.6-.6-2.9-1.6 M192.2 607.8l.4 2.3 1.6 2.7 2 3 2 2.4 M268.6 522.5l3.1-.9 2.2-.5 2.2 .2 3 2.1 1.1 2.1 M157.1 519.8l-3.3-.3-3.8-.1-3-.1-2.3-.9-1.9-1.2-2.2-2 M205.5 582.1l-2.3 1.6-2.5 1.8-2 1.8-2.5 2.5-3.2 1.7-1.7 1.3 M253.8 533l-2.1 3-.7 3-1.2 2.8 M207.3 586.7l-2.1 1.2-2.8 .1-2.1 .7-2 1.7-2.9 2.2 M181.5 543.1l3.7 1.4 3.1 1.6 1.2 1.7 1.8 3 M210.9 545.3l.4 2.6-1.3 3.3-1.1 1.8-3.2 1.4-3.8 .3 M186.8 505.5l3.6-.6 2.5-1 2.2-1.2 2.3-1.5 3.5-.1 M195.6 604.3l3.3 1.2 2.5 2.3 2.2 1.6 2.3 1.8 3.5 .9 3 2.4 .9 1.8" fill="none" stroke="#A85A38" stroke-width="0.75" opacity="0.5" stroke-linejoin="round"/>
<path d="M245.3 548.5l2.9-1.8 3.4-.4 3.1-1.9 1.6-2 2.1-1.8 M181.8 596.2l-1.5 2.7-1.7 2.3-1.8 1-2.9-.1-2.9-2 M282.6 504.9l-.6-2.1-1.6-3.5-3-2.6-1.5-2 M272.5 563.7l1.2 2.7-.5 3.5-.9 3.7 M179.2 516.9l-1.9-2.3-1.9-1.4-2-1.9-2.6-1.2-1.5-1.7-2.6-1.4-3-1.6 M246.9 534.5l-3-2.6-1.9-2.2-2.2-1.2-1.1-1.9-.3-3.4 .1-3.2 M275.5 504.8l.2-2.9-.6-3.2-.2-2.3-.1-3.3 .6-3.8 M224.2 525.5l-2-2.6-2.1-.7-2.5-2.6-2.9-1.4-3.2 0-2.8-.6-2.5-.5" fill="none" stroke="#A85A38" stroke-width="0.75" opacity="0.4" stroke-linejoin="round"/>
<path d="M202.8 571.2l-1.6-1.6-2.1-.9-3 0-2.7-1.7-3.2-.6-3.3 .2-3.6-.8 M213.4 524.6l2.5-1.1 2.6-2.8 2.8-1.6 M248.2 536.4l-2.9 1.5-1.6 1.7-.7 3.7 .3 2.4 .5 2.1-.1 3.3" fill="none" stroke="#A85A38" stroke-width="0.75" opacity="0.3" stroke-linejoin="round"/>
<path d="M178.5 529.4l-.7-2.2-1.3-1.7-.6-3-1.4-3.5-.4-2.4 1.5-3.4 1.8-2.6 M240.3 498.2l-.6-2.7 1.3-2.9-.7-3.8-.4-3.2-.2-2.8 .5-2.1 2-2.2" fill="none" stroke="#A85A38" stroke-width="1" opacity="0.3" stroke-linejoin="round"/>
<path d="M222 593.5l.1-3.7 .6-2.7-.7-2.7 .1-2" fill="none" stroke="#A85A38" stroke-width="0.5" opacity="0.6" stroke-linejoin="round"/>
<path d="M173.8 489.6l0-5.7 .1-4.6-3.3-6.9-4.9-5.4-2.6-4.3-6.3-5.3-2.5-8.4-5.6-6.4-4.7-3.8-2.7-5.4-2.7-4.6-1-5.8 1.8-7-.9-6.9-4.3-7.1-3.9-2.8-7.4-.3 M162.8 505.7l4.5 2.9 5.3 1.4 6.4 5.8 3.8 1.8 8.2 1.4 7.1-1.6 4.3-3.8 3.2-6.3 2.4-7.5 1.9-5.7-2-8-4.6-4.5" fill="none" stroke="#C98A60" stroke-width="1" opacity="0.5" stroke-linejoin="round"/>
<path d="M274 487.6l-1.6-6.8 .2-7.9 .2-5.4 1-6.6-.3-8.3-1.3-6.3 .8-8 4-6.1 2.3-7.9 5.3-5.4 5.8-3 6.1-3.3 4.5-5.8 4.3-2.2 7.4-1.3 3.5-2.5 4.4-2.5 5.3-4.8 M215.9 501l-1.1 5.7 1.5 3.8 2.3 6.3 5.2 4.9 6.3 1.4 4.8 1.2 8.1-2.6 6.9 .8 6-2.8 7.8 .8 4 1.4 4.7 2.1 2.1 3.4 6.6 5.3 5.3 1.2 8.4 0 8.5 1.9 4.4-.6" fill="none" stroke="#C98A60" stroke-width="0.75" opacity="0.5" stroke-linejoin="round"/>
<path d="M228.3 486l8.1 .4 6.4-2.8 4.4-6.2 1-7.3-2.4-8.6-.9-8.6-3.8-4.9 M254.4 503.1l4.5 3.6 2.4 4 .3 4-1.5 7.4-1.1 4.8-.4 6.2 1.2 4.6-.9 6.7 .9 7-.1 4.7-.9 6.9 1.8 5.2-.6 6.8 1.4 5.8 2.1 7.3-.7 4.4 2.4 5.7 M202.5 502.6l-1.4 7.4 .4 5 1 7.1 .9 8.3 .6 5-.2 6 M169.3 495.2l4.5-2.6 8.5 .2 7.7 2.6 4.5 4.1 7.3 3.9 6.5 2.3 4.9 4.1 6.6 6.1 6.2 2.1 6.4-1.3 4.8-1.8 3.5-3.7 3.3-4.5 6.7-5.2 5.4-4.5 6-4.2 4.2-4.4" fill="none" stroke="#C98A60" stroke-width="0.5" opacity="0.4" stroke-linejoin="round"/>
<path d="M252.4 505.9l2.9-3.7 3.5-3.1 2.7-8.3 1.4-6.6 .9-5.6 .6-4.9 1.1-5.2-1.1-4.9 M168.7 478.7l-5.4-6.2-8-3.7-4.2-2.2-3-5-3.4-6.7-1.4-7.1-1.2-5.5 M194.8 483l-8.6-1.2-7.6-1.5-4.1-1.8-5.1-5-1.5-6.2-3.8-6.9" fill="none" stroke="#C98A60" stroke-width="0.75" opacity="0.6" stroke-linejoin="round"/>
<path d="M232.1 505.4l-4.3 1-3.7 2.1-4 0-3.9-1.5-8 1.7-5.4 2.7-4.9 1.3-7.6 .8-3.4 2.7-4.8 3 M234.9 504.1l-4.7-5.3-3.9-2.8-8.5-1.3-4.1-3-5-3.9-5.2-5.1-2.3-5.7 M160.5 496.5l3.8-6.8 5.1-6.8 1.3-4.2 1.9-4.3 1.4-4 .6-6 2.9-5.5 1.3-7.3 M226 489.6l-4.2-1.5-5.8-2.2-4.3-3.3-5-6.7-4.1-6.5-3.4-2.3-3.8-2.3-6.5-2.1-7.4-4.4-4.5-4.9 M199.8 489.1l-7-.4-6.8 3.7-2.7 3.4-3.6 2.3-8.1 3.5-6.3 2.4-7.7 .3" fill="none" stroke="#C98A60" stroke-width="0.75" opacity="0.3" stroke-linejoin="round"/>
<path d="M200.9 503.9l0 7.1-2.7 6.1-1.2 4.6 1 4.9 1.3 5.8 2.4 7.5 .2 6.6 2.1 4.8 6.7 4.4 6.1 1.9 5.7 6.6 3.2 2.8 5.1 2.5 7.3 2.1 5.3-1.3 M261.2 476l7.8 .3 7 2.1 6.1 1.1 4.7 4.5 2.8 5.1 5.3 2.7" fill="none" stroke="#C98A60" stroke-width="0.75" opacity="0.4" stroke-linejoin="round"/>
<path d="M182.1 480.8l7.9-1.4 8.8 .5 5.7-.1 7.4-4.7 7.9-.9 7.4 .1 6.8-2.5 4.5-2.8 4.9-5.1 5.1-2.3 4.5-3.3 3.2-6.6 7.5-4.8 4.8-2 4.9-3.4 4.8-3.6 6.9-3.4" fill="none" stroke="#C98A60" stroke-width="0.5" opacity="0.6" stroke-linejoin="round"/>
<path d="M247.3 484.5l1.9-6.5 2.6-6.4 1.6-7.8 2.3-6.4 1.7-5.1 1.6-7.5 4-8 6.1-6.7 2.7-4.6 5.5-2.6 7.9-2.9 3.2-3.3 3.4-3.7" fill="none" stroke="#C98A60" stroke-width="0.5" opacity="0.5" stroke-linejoin="round"/>
<path d="M157.5 528.7l4.7-2 4.2-1.1 3.5 .1 3.9-.7 3.2 .4 5.5 .2 4.8 1.6 3.3 2.2 4.8-.8 4-.5 4.8 .9 3.9 1.2 4.7 .1 4.6 .2 3.4-.7 5.1-.8 5.4 .9 5.2-.5 5.4-2 4.7-.1 3.9-1.2 5.5-.3 5.2-1.5 5.9-1.3" fill="none" stroke="#E6D0A2" stroke-width="1" opacity="0.7" stroke-linejoin="round"/>
<path d="M178.9 519l5.9 .7 3.7 .3 3.9-.3 5.7-.5 5.9-1.4 5.6-3.2 5 0 4.7-.8 4.3-1 3.2 1.5 3.5 .4 5.1 .3 5.5 1.8 5.4-.9 3.3 1.2 4.8 .6 3.9 1.6 3.1 .7 3.5 .5 4.7-1.2 4.1 .8 3.8 .3 4.4 .9 3.3-1.5 3.6-1.9 M219.3 523.9l4.1-.7 3.5 .4 5.6-2.1 5.3 .1 4.2 1 4.5-2.1 3.4 .9 3.5-1.4 3.8-1.9 5.1-.1" fill="none" stroke="#E6D0A2" stroke-width="1.5" opacity="0.9" stroke-linejoin="round"/>
<path d="M151 523.4l4.1-.2 3.7-1.2 4.1-.1 3.9-.3 5.7-.6 3.9-.3 4.3-1.1 3.2 1.4 5.2 1.5 3.4 .3 4.6-.4 5.2 .8 4.5 1.3 5.5 .6 4.3 1.6 4.4 1.8 3.6-.6 3.5 .4 5.9-.4 3.3-.6 3.4 .8 3.9-1.5 5.9 .7 M151 528.9l4.5-.6 5.5-.3 3.4-.1 5.5 .8 5.7 0 5.8 2.6 3.7-.2 3.6-1 4.8 .4 3.7 .5 4.2-.4 5.2 1.4 3.8 0 5.3 0 4.4 0 3.8-1.3 3.1 .4 3.7 .6 4.1 .1 4.1 .2 3.2 0 3.1-1 5.8-1.6 5.3 .5 4 0 3.7 .9 4-.4 4.8-1.5 4.8 .2 4.7-.9 5.5 2.3 5.7 1.5 M196.4 586l6 .8 5.4 .6 4.6 .4 4.2 .8 4.7 .6 5.2 .2 7.7 1.2 5.6-.1 7.7-1 4.7-.6 5.3-.4 5.6-.8 7.4-2.7 4.6-1.4 7-.7 7.5-.6" fill="none" stroke="#E6D0A2" stroke-width="1" opacity="0.9" stroke-linejoin="round"/>
<path d="M151 521.9l3.8-.5 4.5-1 3.5-.7 5-3 3.9 .3 3.6 0 5.4-1.9 5.3-.5 3.7-1.3 4.9 .1 5.6 .5 5.3 2 3.7 1.7 4.8 2.5 4.8 1.9 3.4 .1 3.9-.4 5.4 1.9 5.1 .8 4.9 2.4 4.1 2.4 4.3-.2 5.2-1.5 5.8-3.1 5.5 .4 5.7-.9 3.9-1.2 5.3-.7 4.3-.2 3.1-1 M151 520.8l4.4-.5 6-1.4 3.3 0 4.4 .3 5.6 1.9 3.6 .7 3.4-1 3.8-1.2 4.5-2.2 5.2-1.4 5.5-.2 5.7 0 3-1.3 5.1-.4 5.8-1.8 4.2 .7 5.2 0 3.7 .8 4 1.7 5.7 .8 5.1 1.8 4.8 .8 4.1 .2 5.2 .2 4.8-.7 4.1 .4 4.3 1.5 4.9 0 5.7 .2 5.6 1.8" fill="none" stroke="#E6D0A2" stroke-width="1.5" opacity="0.5" stroke-linejoin="round"/>
<path d="M173.3 524.9l4.9-.4 3.1-.3 3.4-.9 4.1-1.2 3.3-.1 5.8-1.8 4.2-.4 5.9-.4 3.3 .6 4.5-.5 6-.7 4.6 .3 5.6 0 3.1-1.3 3.9-.3 4.7-.4 5.3 1.9 3.6 .4 5.9 .6 3.4 .8 4 .8 5.3 2.5 3.7 1.6 3.9-1.6 4.9 .1 5.8-.2" fill="none" stroke="#E6D0A2" stroke-width="1.5" opacity="0.8" stroke-linejoin="round"/>
<path d="M213 512l4.2 .5 3.7 1.6 4.6 .3 4.8 1.4 5.2-.9 4.2-.3 3.9-.8 5.9 2.2 4-.8 4.9-.2 5.6 2.1 5.3 2.2 4.7 1.3 4.9 .6 5.1 .2 5.4-.6 M151 527l3.6-.4 5.4-.4 3.8 .1 5.5 .8 5.8-1.9 3.6-.5 3.9-1.4 4.5-.4 4.1-1.5 3.8-1.9 4.8 0 3.1-.7 5.6-.5 4.7 1.3 4.9 2 5.6 1.3 5.6-.3 3-.4 4 2.3 3.6 .4 5.2 .9 5.1 1.4 3-1 3.2-1.4 4.8-1.9 5.3-1.2 5.2 1.7" fill="none" stroke="#E6D0A2" stroke-width="1.25" opacity="0.8" stroke-linejoin="round"/>
<path d="M151 511.8l5.9-.4 4.7-.8 5.9 .7 4.4 2.4 5 2.4 3.9 0 3.6-.8 4.9-.6 3.4-.1 3.1-.3 3.9 1 4.6 1.8 4.6 .6 4 1.2 5.7-.9 5.2 .2 5.3-2.5 3.6-2.2 3.9-1 3.5 0 3.8 1.3 5.9 1.4 4.9 1 4.2 1.2 4.3-.7 5.8-1.3 4.7 1.6 M143.2 511.1l5.1 2.2 4.7-.4 5.1-2.3 5.6-1.6 4 .6 3.1-.9 3.4-.7 4.2 0 3.4 0 4.2 .5 5.6 .7 5.4 1.6 4.9 1.6 3.7 1.3 4.1 1.3 4.5 1.1 5.5-.8 5.8-1.2 4.3-2.3 3.8 .3 4.6-1.1 4.7-1.3 5.6 1.1 3.7-.1 3.5-.8 5.3 0 5 .5 6-.3 M207.5 525.2l3.8 0 5.5 1.9 3.3 2.2 4.9 .6 5.9-.4 3.9-.7 4.2 .4 4.8-.6 4.5 1.9 4.1 1.5 4.1-.5 5.5-1.9 4.2-.1 3.8-.5 4.9 1.1 3.2 .7 3.7 .9 5.3-.5 5.4 .6" fill="none" stroke="#E6D0A2" stroke-width="1.5" opacity="0.7" stroke-linejoin="round"/>
<path d="M193.5 527.2l5.9-1 3-1.2 4.9-.1 3.4-1.2 5.6-.7 5.2 .2 4.2-.8 5.1-1 3.2 .6 3.1 2 5.5-.6 5.2 .8 5.1 1.6 5.6 0 4.6 .2 5.8 1.3 5.7 .2 4.9 .7 3.3-.4 4.9-1.3 5 1.8" fill="none" stroke="#E6D0A2" stroke-width="1.25" opacity="0.6" stroke-linejoin="round"/>
<path d="M151 526.4l3.8 .4 3.9 1.4 5.2 1.4 4.4-1 5.3-.7 3.6 .1 3.1-.5 3.8-.1 4.4 .5 3.2 .1 5.4-.1 3.1-1.6 4.6-.6 5.6 .7 4-1.7 5.7-.7 4.4 .6 4.7-.2 3.3-1.8 4-1.3 5-.2 5.2 .6 5.8 .6 4.3 2.2 M151 528.4l5 1.1 4.8 .1 5.1-.7 5.1-1.3 3.6-1.1 5.7-3 5.8 .1 3.7-1.5 3.3-1.7 3.3-.9 4.1-.2 5.7-.4 3.9-1.9 3.4-1.4 5.2-.3 3.5-.2 4.7-.5 3.5-1.8 4.7 .6 3.1-1.4 5.9-.3 4.4 .2" fill="none" stroke="#E6D0A2" stroke-width="1" opacity="0.5" stroke-linejoin="round"/>
<path d="M151 520.7l3.1 .7 5 1.1 5.9 2.2 5.6 .2 3.4 1 3.8 .5 5.5 .6 3.4 .1 5.7-.7 5.3-1.7 4.6-1.1 3.5-2.2 5.3-.6 3.2 .1 6-.9 5.3-.6 5.8 0 5.3 1.3 3.9 1.7 4.3 1.1 5.7 2.4 4.7 1.3 4.6-.4 4.6 .1 3 .2 5.8-.6 5.1-2 3.3-.7 5.1 .5 5.9 .1 M166.8 524.4l4.9 .2 4.1 .4 4-.5 4.2 1.1 4.3 .3 4.5-.7 3.7-1.7 4.9 0 5.9 .7 4.5 1.1 3.9 2.5 4 2 4.1 2.2 3.8 0 5.6 0 5.2 0 4.3-1 3.6-1.2 3.2 .3 5 .2 4.6-1 4-.4 3.4-.6 4.2-.6 3.2-1.6 5.5-.3 3.6 .3 5.6 .4" fill="none" stroke="#E6D0A2" stroke-width="1.5" opacity="0.6" stroke-linejoin="round"/>
<path d="M151 527.3l4.9-1.4 5.8-1.7 3.8-.2 4.8 .9 4.7 .3 4.3 1.1 5.3 2.6 4.9 .5 3.9 2.5 5 .1 3.4 0 5.9 0 4.4 0 5.3 0 4.3 0 3.8-1.3 3-1 4.8-.2 3.1 0 5.1-.9 5.5-.6 3.6 1 3.2-.8 5.8-.7 4.5-1.1 3.9-1.5 4.3 1 5.7-1.8 5.7-.5 4.6 2.1 M151 527.5l3.9-1.5 5.2-1.2 4 1.8 4.3 1.4 3.1-.6 5 .8 4.9 0 4-.5 3.4 1.9 4.9-.5 4.6 .9 5.9 2 4.9 0 4.8-1 5.3 .8 4.8-.3 4.5-.7 5 .7 3.4 .5 3.1-.2 4.4 .2 5.8-1.9 3.9 0 4.3 1.5 3.6-1.2 3.7-.3 3.8 1.4 5.8 .5 5.4 0 4 0 5.4 0 M236.1 588.3l6.9 0 5.1-.1 4.7-.6 6.6-.6 4.4-1.1 6.6-1.2 7.4-1.1 4.1-.1 4.5 1.2 7.9 1.9" fill="none" stroke="#E6D0A2" stroke-width="1.25" opacity="0.9" stroke-linejoin="round"/>
<path d="M219.7 547.3l-2.9 5.9 2.1 3.9-.8 4.6-1.8 4.3 .2 4.8-.7 3.3-1 3.3-3 5.2-2.4 5.6-.7 4.6-3 6 .5 5.7-1.4 3.9 M201 538.4l4.6 5 1.8 4.5-1 4 1.2 3.8-.8 4.4-2.2 4.6 .1 3.5-1.6 6-2.8 5.5-1.8 5-1.8 5.2 1 5-.1 3.3 2.1 5 M178.8 536.9l1 4.3 2.3 5.3 1 3.1-1.1 4.5 1.3 4.9 1.4 5 1.1 3.8 2.4 4.2-.5 5.6 .2 5.7 1.6 5 .4 5.6-1.6 3.3-3.2 4.7-2.1 3.9 M162.6 577.5l3.2-3.3 3.3-2.5 3.6-1.2 4.3-3.3 3.9-1 3.9 .7 3.9-.1 4.2-1.6 3.8 0 4.8-2.2 4.9 .4 4.1-1.2 4.2-.4 4.6 1.2 5.2 0 4.6-1 3.6-.3 3.1-.8 5.9-2.1 3.1-.4 5.6-1.1 4.5-4 5.7-.2 3.4 .1 4.2-.8 4.4-1.8 5.9-1.8 5 .5 4 2.1 4.3 2.7" fill="none" stroke="#D9B898" stroke-width="1" opacity="0.8" stroke-linejoin="round"/>
<path d="M186.4 536.9l-.4 3.1 2.7 4.2 2.1 4.1 1.2 3.5 2.2 3.4 4.4 4.6 2.7 4.1 4.8 3.9 5.3 5.3 2.2 5.3-.7 4.3-4.4 6-1.3 4.2 .8 4.1 .1 4.9-1 5.1 .3 3 M223.5 547.8l3.2 3.9 1.8 3.2 .4 4.4-.2 4.3 .6 3.7 2 3.5 .9 4.7-1 3.4-2.3 3.9-3.1 4-3.2 3-2.5 4.7-3 4.1 M178.5 545.3l-.1 3.6 .2 4.1 1.9 4.5 .6 6-.3 5.6 .8 4.9 .2 4.2 1.8 4.9 2.3 4.9-.1 3.3-1.4 3.1 1.4 4 M162.7 538.5l-.9 4.4-.8 4.8 1.7 3.9 .4 5.1-1.9 5.6 .7 5.6 3.7 5 4.4 5.9-.1 5.3-1.6 5.5 1.3 5.1-.5 4.8-1.1 4.9 M266.3 547.4l-.7 4.9 2.9 5.2 .1 4.3 2.5 4 1.4 4.3 1.9 5.8 2.8 5.3 .9 3-1.1 4 M151 581.3l3.4-1.2 3.5 1.1 5 .8 3.6 3.3 4.6 3.7 3.9 1 4.1 .9 4.1 .1 3.4-1.6 5.7-.1 4.7 .8 6-2.4 3.6-.1 4.9-1.4 4.2-2.6 5.3 .7 5.8 .6 5.3-.4 4.2 2.8 5.7-.7 3.1-.9 5.8 1 5.7-.1 5.5 .4 5.2-1.3 4.9-.7 5.2-4.1 4.6-.9 3.2 .2 4.6-1.1" fill="none" stroke="#D9B898" stroke-width="1" opacity="0.6" stroke-linejoin="round"/>
<path d="M173.2 537.9l.3 5.4 .6 3.8 3.3 5.9-.5 3.9 .1 4.2 1.6 6-.3 5.1 1.5 3.2-.9 5-.2 4 3.6 5 .9 4.8-.1 4.5 M160.1 535.3l1.7 5.6-.3 5.1 1.8 3.6 1.2 3.2 1.8 4.6 2.5 4.7 .4 4.8 3 5.8 0 4.2-.6 3.5 .9 3.5-2.5 5.9-1.1 6 .7 4.3 1.7 3.1 M215.1 594.9l3.5-2.7 5.5-.9 3.4-.5 3.7 1.4 5.7 1.7 3.6-.6 5.8-1.9 4.7 .8 3.8 3.2 3.6 .3 3.9 .3 4.8-1 4.1-.7 5.3-.6 4.9 3.1 4.6-1.7 3.5-1.9 M159.7 554.7l6-4 3.5-.6 3.7 1.7 4.6-1.7 4.7 .5 3.7-1 3.1 .8 5.9 2.3 4.2 .1 3.7 1.6 5.4 3.9 4.7 3.7 4.3 2.2 5.6-2.4 5.1-2.2 3.8 .6 3.5 1.5 5.4-.3 3.6 .4 4.4 1.6 5.8 2.3" fill="none" stroke="#D9B898" stroke-width="1" opacity="0.5" stroke-linejoin="round"/>
<path d="M197 546.5l-2.5 4.9-1.4 5.8 1.6 5.6-2.5 4.9-3.1 5-1 3.7 .6 3.2-1.6 5.8 .4 3.5 3.5 5.7 2.3 5.6 3.6 5.2" fill="none" stroke="#D9B898" stroke-width="1.25" opacity="0.6" stroke-linejoin="round"/>
<path d="M157.6 536.6l-2.6 4.6 .9 3.3 .9 4.1 3.4 3.2-1.5 4.1 1.1 5.2-2.1 3.9-.9 4.7 3.6 5.2 0 4.3 2.7 5.9 .1 4.8" fill="none" stroke="#D9B898" stroke-width="0.75" opacity="0.7" stroke-linejoin="round"/>
<path d="M151 577.6l4.5-.9 5.4-2.7 5.9 2 4.1 1.7 3.3 1.6 5.9 5.6 5.5-.6 4.4 .1 3.7-1.3 4.2-1.4 3.9-1.8 5.7-3 5.7-5.3 5.9-3.5 4.9-3 3.2 1.1 3.7 .8 5.8 1 3.2-1.6 4.1-2.7 5-1.9 4.9-.3" fill="none" stroke="#D9B898" stroke-width="1" opacity="0.7" stroke-linejoin="round"/>
<path d="M133.6 540.5l5-.9 3.3 1.4 5.6-1.3 4.6-1.9 5.6-3.6 6 1.1 3.5-.8 4.4-1.5 5.2-1 5.6 0 3.2 0 4.1 0 3.9 0 3.3 0 4 0 4.1 .2 4.9 .1 5.8 2.1 5.2 1.8 5-.3 3-1.1 5.9-2.8 4.5 0 4 0 5.8 0 3.3 0 M163.4 566.6l5.7-1.7 4.1-2.3 5.2-4.2 5.5-5.4 5.4-2.9 3.9-.2 5.1 1.6 4.9 3.1 3 1 5.8 1 5.6-.6 4.4-3 4.6 .7 5.1-.5 3.9-.4 3.5-3.3 4.4 .2 4.3-.6 4 1.4 5.2 .7 3.8 3.1 4.7 3.5 5.5 .3" fill="none" stroke="#D9B898" stroke-width="0.75" opacity="0.8" stroke-linejoin="round"/>
<path d="M151 594.7l3.8 1 4.6 3 5.6 5.3 5.2 0 3-.7 4-1.4 4.4-.9 3.3 .3 4.4-1.2 5.5 1.9 4.7 1.6 3.6 .4 4 0 3.2-.9 5.3 .3 4.8-1 3.2-.8 5-.5 4.6 2.9 4.4 0 4.5-1.1 3.4 .8 3.5 .3 3.6 0 3.7-.6 4.7-.9" fill="none" stroke="#D9B898" stroke-width="1.25" opacity="0.5" stroke-linejoin="round"/>
<path d="M167 552.1l.9 2.7 .1 2.4 .5 2.2 1 1.9 2.7 2.3 1.8 4.1 3.2 2.3 M187.7 572.6l-3.9-3-4.8-.3-3.2-1.7-2.1-2.9-2.2-2.2-.8-4.9 1.1-3.2-1.1-4.3 M268.6 605.4l2.1-.8 2.5-1.1 3-3.4 1.9-4.3 .9-3.7 M229.8 594.4l-2.2 3.6-2 2.4-1.4 2.6-3 3.7-4 2 M179.9 565.9l3.1 .4 4 .9 2 .9 1.3 1.9 1.7 1.8 2.3 1.3 3 .5 4.1 2.5 M210.6 597.3l3-2.8 2.7-1.3 4-2.2 2.4-1.2 2.2 .2 2.9 1.4" fill="none" stroke="#C89478" stroke-width="0.75" opacity="0.5" stroke-linejoin="round"/>
<path d="M230.5 602l-3.7-.7-2-1.4-1.1-1.8 .2-3.6 1.8-4.2 M159.9 604.7l.7 2.4 1.4 3.7 .7 4.7-.4 2.5-.5 4.6-.2 3.2-1.7 3.4 M175.9 591.2l2.2-1.1 3.9-2.2 3.4-1 3.9-1.6 2.8-.8" fill="none" stroke="#C89478" stroke-width="0.75" opacity="0.8" stroke-linejoin="round"/>
<path d="M178.2 580.8l-1.9-2.1-2.5-3-3.8-3 M175.3 539.1l.3 2.8-.7 2.1 .1 3.6 M212.8 565.1l-3.5 1.5-4.2 .3-3.5 .1-3-1-3.1-2.5" fill="none" stroke="#C89478" stroke-width="0.5" opacity="0.7" stroke-linejoin="round"/>
<path d="M244.5 578.9l-4.4 1.9-3.4-.2-3.4-.1" fill="none" stroke="#C89478" stroke-width="0.5" opacity="0.4" stroke-linejoin="round"/>
<path d="M246.9 538.4l-3.4-2.9-1.4-4.3-.8-4.8-2.8-3.6-1.7-3-2-1.7-1.4-3" fill="none" stroke="#C89478" stroke-width="1" opacity="0.4" stroke-linejoin="round"/>
<path d="M199.8 571.4l2-2.4 3.3-2.2 2.1-2.8 2.6-2.8 1.9-3 2-3.7-.3-4.2-1.6-4.2 M158.3 597.3l1.5 2.1 2.8 3.9 .2 2.5-.4 2.2 1 2.9 2.1 1.8 2.6 3.8 M223.3 572.8l3.4 2.3 2.8 3 2.4 3.8 M242.7 541.5l.9 2.2 1 4.9-.3 2.4 .1 2.6 .6 4.5 M255.3 544.4l2.6-2.6 3.7-1 3.5-1.6 2.5-2.8 2.6-.9 3.1-1.8 2.7-1.1 M216.8 556.1l2.6-1.2 3.8-.7 3-.6 1.8-1.3 3.9-1.9" fill="none" stroke="#C89478" stroke-width="1" opacity="0.5" stroke-linejoin="round"/>
<path d="M191.4 581.7l.2 3.7-.1 3.1 1.2 2.3 1.9 2.6 2.3 4.3 .7 1.9 .1 2.6-1.1 2.1 M166.3 581l2-.7 2.6-1 4.3-.3 M158.1 584.7l2.7-1 3.6-.5 3.4 .2 4.2 1.1 M266.9 601.9l.3-3.4 .5-3.2-.7-2.7 1.3-4.5 .2-2.8 1.2-3 1.2-2.2 2.2-2.4 M253.4 555.9l-1.9-.7-2.3-1.1-2.4-.9-4.7 .3 M281.5 610.3l-1.8 1.2-2 3.9-1.5 1.4-.5 1.9 M238.9 592.9l-2.5-.8-2.1-.7-3.2-3-2.4-2.6-2.9-1.7-1.6-1.3-2-3.8" fill="none" stroke="#C89478" stroke-width="1" opacity="0.6" stroke-linejoin="round"/>
<path d="M182.5 536.4l-2.7-1.4-4.1-1.9-2.7-.3-4.7-.8 M249.3 565.5l-1.1 1.8-3.7 2.3-2.1 1.7 M224 538.7l3.7 2.2 3.5 2.7 2.7 3.9 2.7 1.8 1.9 3.3" fill="none" stroke="#C89478" stroke-width="1" opacity="0.7" stroke-linejoin="round"/>
<path d="M254 581.5l-4.3 .1-4.4 .7-4.6-1.3-3-.6-2-.9 M255.4 562.4l.3 3.9 1.5 3.9-.1 2.4-1.6 3.6-2.6 2.6 M226.5 607.3l-2.7 2.5-1.7 1.3-4.4 2.3" fill="none" stroke="#C89478" stroke-width="0.75" opacity="0.7" stroke-linejoin="round"/>
<path d="M267.1 550.4l3.5-2.5 2.9-3.6 2.7-3.1 .5-2.3 .2-4.5 M201.5 603.3l2.7 3.3 4.1 1.6 4.4 .5 2 1.2" fill="none" stroke="#C89478" stroke-width="0.75" opacity="0.4" stroke-linejoin="round"/>
<path d="M236.7 544.3l1.1-2.5 2.5-3.2 3-2.9 M216.2 547l2.3-1.4 4.9 .2 4-1 M231.4 609.9l2.8-1.2 4-.2 4.5 .5 3.5 1.9 2.1 1.8 3.2 1 3.3-.3" fill="none" stroke="#C89478" stroke-width="0.75" opacity="0.6" stroke-linejoin="round"/>
<path d="M156.6 537l-.7-2.1-1.4-1.5-3.3-2.3-1.9-1.3-4.9-.8" fill="none" stroke="#C89478" stroke-width="0.5" opacity="0.6" stroke-linejoin="round"/>
<path d="M229.5 562.9l-3.8 .1-3.8 .3-3.8 .6-4.3-.7-3.8-1.8-3-3-2.7-4.3 .1-3.5" fill="none" stroke="#C89478" stroke-width="1" opacity="0.8" stroke-linejoin="round"/>
<path d="M236.8 588.8l5.2-1.1 5.4-.3 6.6 .4 4.5 .2 5.8-2.2 7.4-1.9 8-1.9 4.4 0 4.9 .5" fill="none" stroke="#E6D0A2" stroke-width="1" opacity="0.6" stroke-linejoin="round"/>
</g></g>
<g clip-path="url(#rb1)">
<rect x="411" y="466" width="125" height="147" fill="#7A2E16"/>
<rect x="411" y="466" width="125" height="147" filter="url(#soil1)"/>
<g filter="url(#soft)">
<path d="M464.9 478l-1.4-2.6 .2-3.4 1.5-3.1 1.4-3.1 1.3-2.9 1.5-1.5 2.5-.6 M487.3 492.1l-2.8 1.9-2.6 .2-3-1.7-2-1.2-1.9-.7-2.5-.2-2.7 0-3.1 1.8 M485.9 467l2.1 1.9 2 3 2.4 2.5 2.4 .9 3.6 .8 3.4 .9 4 .2 M501.1 488.1l-2.5 .7-3.7 .2-3.2 1.6-2.6 1.4-1.6 2.4 M514.8 503l2.9-2.3 2.2-2.1 1.9-2.6 1.3-2 2.4-2 1.4-3.6 .6-2.3 1.6-1.9 M444.6 497.6l-1.6-1.6-1.7-1.2-1.3-2.9-1.8-1.1 M492.5 469.9l-1-1.8-1.3-3.2-2-3.2-2.5-1.3 M418.6 471.6l.2-3.3 .2-2.2 2.3-3.1 .4-2.7 M481.7 503.1l.5-3.3 1-2 2.7-2.6 1-2.4 .1-2.8 1.3-2.1 1.6-3.2 M435.5 483.5l-2.9 1.6-1.8 1-2.2 0-2 1-3.6 1.7-3.6-.3-2.8-.5-3.6-.2-3.4 1.1 M436.8 467.6l-1.3 2.1-1.8 2.5-1.8 2.6-.3 3.8-1 2.5-.4 2 M454.2 472.3l3.4 1.2 3.5 .8 2.7 .3 2.1 .6 2-.2 2.8-1.6 1.5-2.5 M522.3 469l-2.6 1.9-1.1 1.9-1.5 1.5-3.6 1.2 M447.6 486.7l-1.4 1.9-2.4 2-2.5 3-.7 2.8-1.9 3.4-1.6 2.3" fill="none" stroke="#C27450" stroke-width="1" opacity="0.7" stroke-linejoin="round"/>
<path d="M528.1 478.6l-3.8-.3-2.7 .3-3-1.6-1.2-1.7-2.1-2.4-3.8-1-1.9-2.2 M485.2 488.7l-2.2-1.2-3.4 .3-1.8 1-2.3 2.3-2.1 3.1-2.4 1 M466.6 468.1l-.7-2 .2-3 1.4-2.7 .7-2 1.7-1.4 .9-1.8 1.4-2.1 2-1.4 M520 497.3l-3.5-1.4-1.9-.9-2.6-.2-3.6-.9-3.3-1.4-2.3 .5-2.9-.5 M446 488l1 3.1 1.4 2.5 .6 2.5 .5 3.1-1.4 3.7-.7 3.3 .1 3 M521.1 491.5l1.1 3.5 0 3.2-.5 2.6 .3 1.9 .7 2.2 2 2 2.6 2.2 2.9 1.6 M494 502.5l-1-3.3 .4-2.4 .7-2.3 .4-2.3 M430.9 482.1l-.6 2.3 .7 3.1-.6 3.3 .2 3 M501.6 478.9l2.5-1 3.4-.6 3.9 .6 2.8 .6 3.5-1 1.7-1.6 M533.5 481.1l2.1 1.9 1 2.4 2.1 1.6 2.4 .6 2.2-.8 3.2-.1 2.8 1.6 1 1.9 1 3.2 M441.8 478.1l-2.3 2.8-.8 2.6-1.9 2.1-1.9 2.1-2.3 1.9 M471.6 504.7l3.7-.9 3.1-.3 2.3-.1 2.6 1.3 M431.1 495.7l-1.8 1.1-2.4 .8-2.2 .9-3.6-.7-2.6 .3-2.2 .7-2.7-.3-3.4 0 M520.4 497.9l-1.9-3.4-1.6-3.1-1.9-1.2-1.9-.8 M444 467.7l-.5-3.1-1.6-2.4-1.3-3.2-.2-3.1-1.9-2.7 M508.8 467.6l.8 1.9-.2 2.2 1 2.1 2.5 2.1 2.3 1.9 2 1.1 2 2.9 1.1 2.5 0 3.4 M505.1 466.9l-1.9-3.2-.3-2.7-1.4-2.8 .3-3.3 .9-2.2 M472.7 496.8l.5-3.3 1.8-3.4 3-1.8 3.5-1.9 3-1.7 1.6-1.5 1.5-2.2" fill="none" stroke="#C27450" stroke-width="1" opacity="0.5" stroke-linejoin="round"/>
<path d="M455.4 471.4l1.8 1.8 1.2 1.7 .4 2.7-.5 3.2 M460.3 485.2l-2-3.1-1.1-3.3-1.7-1.6-2.1-1.5-1.3-2.9-2.3-3.1-.3-3-.5-2.7-2-1.9 M422.2 496.2l1.8-2.1 1.4-2.8 1.5-2.1 .6-3.5-.5-3.5-2.5-2.8-2.4-2.7 M453.2 494.5l2.4-2.1 2.9-.9 3 .6 1.8 1" fill="none" stroke="#C27450" stroke-width="1.25" opacity="0.8" stroke-linejoin="round"/>
<path d="M529.8 474.7l-2.5 .7-2.5-.8-2.3-2.6-2.2-2.4-2-2-2.4-2.7-.7-2.2-1.5-2.3 M506.1 503.1l.4-2.1-.2-2.2-.4-2.3-.4-2.6 .5-3.4 M472.7 470.4l-1.9-.9-1.4-2-.5-3.7-.8-3.8 .4-3.7 1.2-1.7 1.6-2.9-.2-2.9 M460.9 478.2l1 2.8 1.2 3 1.3 2.5-.4 2.9-1.4 1.8-3.2 1.6 M415 490.8l-2.1-2.1-1.8-1.9-2.8-1.5-3-.4-2.5-.7-3.7-1.4-2-.5-2-1.7 M526.8 485.5l-1.7 1.8-1.9 1.8-3.3 1.5-3.2 2.3-1.9 2.4-.4 2.4-2 2.3-3.4 1.6 M485.8 504.4l-2.5 2.6-.7 3.1-.6 3.2 .7 2.6 .5 3.6-1.1 2.8 M534.2 496.9l1.9 2.4 .8 2.1 1.9 1.9 1.8 2.6 2.9 2.2 1.7 2.3 2.2 1.9 1.2 3.4-.3 2" fill="none" stroke="#C27450" stroke-width="1.25" opacity="0.5" stroke-linejoin="round"/>
<path d="M534.2 502.8l2.8-1.8 1.4-2.6 1.9-1.4 2.6-1.2 1.8-1.3 1.3-2 .9-3.2 .2-2 M516.3 473.1l3.5 .4 2.9 1.1 3.4 .6 1.8 1.1 2.2 2.3 2 3.5 0 2.2-1.2 2.2 M474.7 470.1l-2.5 1-3.6-.4-3-1.3-3.4-.4 M436.5 501l-3.4-2-2-2.5-.7-3.5-1.1-2.9-.7-2.8 M479 492.1l-3 .5-3 1.6-3.1-.3-1.9-.7-2.5 .3-2.7-.7-3.3-1.1-3.6-1.3-3.6-1.6 M468.4 479.8l-2.5-.5-3.2-1.6-2.9-.7-2.8-.3-3.2 .7-3.8 .4-2.7 1.8-2.5 .6-3.4 .5 M438.3 488.4l-2.1 1.1-1.9 2.6-1.7 3.4-1.6 2.2-.3 2.4 .6 2.8-.2 2.3 M488 480.2l-1.5 2.2-1.3 2-2.3 2.6-1.1 2.9-.2 3.6 .6 2.6 1.7 1.8 .6 3.3 1.2 2.3 M462.1 481.7l-1.9 3.4-.3 2.5-1.2 3.5-.7 3.2 M506.6 467.3l-1-3.3 .2-2.6-1-1.8-1-2.4-1.8-3.2-2.4-1.9-3.2-1.5-1.4-1.7-1-2.8 M495.5 502.2l.3-3.6 2-3.1 1.6-1.2 2.8-2.6" fill="none" stroke="#C27450" stroke-width="1" opacity="0.8" stroke-linejoin="round"/>
<path d="M479.4 504.1l2.8-2 2.7-1.6 3.3-1.4 2.5-1.2 M477.9 503.7l2.9 2.3 2.7 .9 1.9 1.6 3.8 .9 3.8-1.1 M473.9 468.8l3 1.4 2 2.4 3.2 1.2 3.2 1.8 1.8 1.3 2.3 .8 2.9 .7 2.4 0 M438.1 470.7l2.7-2 3.1-.7 2.9 .2 2.1-.1 2.8-1.7 1.9-1.9 M512.2 495.2l-2.1 1.3-2.4 .5-2.2 .5-3.4 1.2-2.6 1.3-2.2 2.4 M447.8 476.4l-3.3-1.6-2.6-2.1-3.3-2.1-2-1.9-3.3-1.6 M457.1 470.6l-2.5 2.5-2.8 1.1-2.7 1.2-1.7 2.3-.6 3.1 .2 2.3 1.1 3.3-.1 2.4 M456.8 502l2.3-1.3 2.8-2.2 3.5-.3 2.2 .3 3.5-.2 2.9 .2 3.5-1.7 3.3-2.1 M532 499.7l-2.3-1.8-2.4-1.9-3.5-1.6-1.5-1.8-2.5-2.6 M478.3 489.3l1.7 2.9 0 2.6 .1 2.9-1 2-.4 3.1-.6 2.2 .8 2.2 1.9 2.1 M519 485.5l.4-2.2-.2-2.9-1.8-2.4-2.2-1-2.5 .5-2.9 .3 M475.3 479l.2 2.1-.8 2.2-2 2.7-1.1 2.2-1 3.4-1.7 3.1 M462.4 489l-3.4 .3-3.4 1.9-1.5 1.4-2.1 1.1-2.8 1-3.4-.9-3.7-1.4-2.9-1.5 M504.8 494.2l3.9-.6 3.3 .3 3.7 1.5 3.8 .3" fill="none" stroke="#C27450" stroke-width="1" opacity="0.6" stroke-linejoin="round"/>
<path d="M499.7 490.2l-2.3 2.6-.7 3.2 1.2 3.2 .1 2.1-.2 2.5 0 3.2 .5 3.4-.5 3.2 M439 476l-3 .1-3.3-.5-2.5-2.2-1.1-2.5-.4-2.1-1.5-1.6 M487.2 503.9l-3.3-1.2-1.9-1.6-3.6-.4-1.9-.7-2.9 .2-3.3-.1-3.4-.5 M421.8 494.1l-2.5-3.1-.7-3.2 0-2.5-.4-3.6 1.3-2.7 .9-2.2 1.5-2.2 M504 468.7l-1.7 1.1-2.6 1.9-1.6 2.1-2.1 1.7-3.7 1.1 M484.4 495.3l-.1-3.6-.8-3.6-.7-3.1-.8-2.8 M419.2 476.2l-2.7 .4-3.5-1.2-2.6 .4-2 .7-1.6 1.3-1.2 2.1-1.7 2.6-1.9 2" fill="none" stroke="#C27450" stroke-width="0.75" opacity="0.8" stroke-linejoin="round"/>
<path d="M473.5 485.8l2.5-.2 2.1-.1 3.6 .9 3.6 .4 M440.2 475.9l2.1-1.9 1.6-3 1.4-2.8 1.3-3 .5-2.3 1.6-1.9 M437.9 488.5l-1.9-2.1-1.3-1.9-1.2-2.2 0-3.7-.2-3 .7-2.5 .5-3.4-.9-2.6 M455.4 480.3l-1.3 1.7-1.4 1.9-2.4 2-3.9 .5-2.1-1-2.1-.2 M497.5 469.1l-2.6-2.4-2.6-2.2-1.2-1.9-.9-2.4-1.4-2.4-.3-2.4 1-2.5 M533 493.2l3.3-1.4 2 .2 1.8 1.4 1.7 1.5 1.3 2.7 .7 2.3-.2 2.1 1.2 3.1-.4 3.6 M447.3 490.9l-3.1 1.6-3.3 1.8-2.6 2.1-2.2 .5-2 .6-2.9-.2-3.5-1.9-2.2-1.7-2.9-1.6 M430.8 498.4l-1.8 1.2-1 1.8-.7 2.2-1.7 3.3-1.7 2.3-.2 3.9-.4 1.9-.3 2.5 .5 2.3" fill="none" stroke="#C27450" stroke-width="0.75" opacity="0.7" stroke-linejoin="round"/>
<path d="M486.1 475.7l.4-3 1.9-2.2 .7-3.4 2.8-2.7 .9-2.4 2.4-2.2 1.5-2 1.1-3 M526.1 497.9l-2-2.2-2.8-1.1-2.6-.3-3.6 1.4-3.7 1.1-3.3 .4-3.1 1.9 M460.4 489.3l-3.4 .6-2.2 .9-2.2 3.2-.1 3.3 1.3 3.3 M464.7 489.8l2-2.4 1.6-3.4 1.4-2.2 .6-2.2-.2-3-1.1-2.9-1.9-2.3 M422.3 495.6l0-2.9 1.5-3 1.6-3.2 1.5-3.5 3.1-2.1 3.6-.2 2.3 .1" fill="none" stroke="#C27450" stroke-width="0.75" opacity="0.5" stroke-linejoin="round"/>
<path d="M481.4 491.1l-2.3-2.7-1.8-1.6-1.1-2-2.2-3.1-1.6-1.7-3.3-.7-2.4-.4 M518.3 472.6l2.2-.8 3.1-1 2.6-.3 3.9 .5 2.6 .1 3.9-.6 3.7-1.2 3.6 .1 3.2 0 M524.6 491.6l-3.4 1.2-2.5 .4-3.8 0-2.5-1.1-3.5-.6-2.3 .3-2.9 1.6 M424.8 469.7l-2.2 1.3-2.9 1-2.5 .1-3 .5 M518.6 487.7l.4-3.4-1.2-3.1-2.1-1.8-2.9-.8 M482.4 494l-.7-2.8-.8-3.2-.4-3.9 .4-3.9 1.5-1.8 2.4-2.1 2.3-.9 2.3 .3 3.3 .7 M525.1 481.7l1.3 2.8 1.1 2.8-.5 3.6-1.1 2.1-2.7 2.6-3.2 .7-3.3-.9 M422.7 489.9l3.4-1.9 3.3-.4 2.6 .5 2.8-.5 3.8-.1 2.2 .4 2.5 .9 M460.7 493.3l-1.4-2.3-1.1-3.7 0-2.8-1-2.9-1.4-1.7-2.4-2.4-2.7-2.1-1.6-2-2.1-.8" fill="none" stroke="#C27450" stroke-width="1.25" opacity="0.6" stroke-linejoin="round"/>
<path d="M494.4 486.2l1.9-1.6 1.9-1.7 2.2-1.3 3.1-1.5 M528.3 485.8l1.8 3.1 2 1.5 1.4 2 .1 3.1 M489.5 497.6l-.8 1.9 .8 3.5 .3 2.8-.8 3.2 M438.7 475.2l2.4 1.6 2.2 .3 2.3-1.2 2.1-.2 2.7 1.1 3.9 0 2.9-.9 M485.9 483.6l-2.4-2.5-1.4-1.5-.9-2.5-1-2.5 .1-3.2-1.2-2.8-1.8-1.6-2.4-2.7 M510.2 487.5l2.3-1.6 1.6-3.7 .6-2.7 .7-3.1 M480.7 483.7l-2.1-1.6-1.7-3.1-2.8-1.7-1.7-2.8-2.1-2.1-1-1.7-.1-2.2" fill="none" stroke="#C27450" stroke-width="1.25" opacity="0.7" stroke-linejoin="round"/>
<path d="M513.1 479.7l2.6 .4 2.2 1.3 1.8 2.7 1.3 2.2 1.3 2.4 2.4 1.7 1.6 3.4 1.5 3.2 M506.2 485l.4-2.6 .7-2.1 .5-2.9-1.1-2.6-1.9-2.7-1.1-2.5 M470.7 500l.9 3.1 1.2 2.6-.5 2.8 1.1 3 1.6 2.1 .7 3.6-1.3 3.2 .4 2 .9 3.5 M452.4 468.5l2.7-2.6 .7-2.8 1.3-2.1 1.3-3.2 M433.4 492.9l-2-1-1.8-1.4-3-.3-2.3 .3-2.5 .4" fill="none" stroke="#C27450" stroke-width="0.75" opacity="0.6" stroke-linejoin="round"/>
<path d="M505.2 519.1l.8-3.6 .2-2-.1-2.3 .8-2 .3-2.9 M517.8 586.6l-1.3-2.9-.8-2.6-1.3-1.7-.8-3.9-1.3-1.8 M433.7 536.2l-1.4 3.1-2.7 2.3-1.3 3.5-.3 3.3-.7 2.2 .7 3.6 M513.3 546.8l1.1-2.2 2.1-2.8 .7-2.9-.7-2.3 .7-3.6 .4-2.8 1.1-3.4 M495.9 602.5l-2.6 2.5-.7 2.3-2.9 2.6-1.5 2.8-2.5 2.1" fill="none" stroke="#A85A38" stroke-width="1" opacity="0.6" stroke-linejoin="round"/>
<path d="M484.5 569.9l-.5 2.6 .9 3.5 .2 3.4 M463.5 567l3.4-1.5 2.8-2.5 2.5-2.6 3.5-1.6" fill="none" stroke="#A85A38" stroke-width="1" opacity="0.3" stroke-linejoin="round"/>
<path d="M411.4 503.2l1.2-2 1-3.3 2.4-2.8 3.1-.9 M516.1 600.1l1.9 2 2.3 2.2 2.4 1.6 3.9 0 2.7-1 2.4 .4 3.9-.7 M494 542.9l1.9-3.5 1.5-2.3 1.9-2.4 1.5-3.3 M524.9 557.4l1.7 3.3 .2 2.1 1.7 3.5 M474.8 583.6l1.3 2.6 .7 2.6-.6 2.8-1.6 2-2.8 2.7-2.3 2.2 M476.4 525l-2.5 3.1-2 3-.9 2.3 0 2.6 1.4 3.7-.5 2.7-.6 2 M504.8 545.2l-1.3-3.1-.1-2 .7-3.7 1.8-1.9 2.2-3 M484.5 611l-.6 2.4-.4 2.5-1.1 2.6-1.1 2.1-1.5 3.3-3.1 2.1-1.5 2.9 M459.8 611.1l2.3-1.3 1.7-2.8 2.4-1.3 3.5-.4 M436.4 550.2l-.2 3.4 1.8 3.4 .8 2.7-.3 2.3 M520 603.8l1 3.7-.5 2.2-1.2 1.8-2.2 .9-3.1 2.2-3.6 1.5-3.2 .4 M417.3 585.2l2.6-2.6 2.4-2.7 2.4-2.5" fill="none" stroke="#A85A38" stroke-width="0.75" opacity="0.5" stroke-linejoin="round"/>
<path d="M535.7 560.7l3.4 .8 1.9 1.9 .5 1.9 .6 3.1-.3 3.8 1.2 2.9 1 2.5 M506 535.8l1.3 2.2 .5 3.7 1.3 2.6 .6 3.7 M487.3 584.5l2.6-2.6 2.7-.5 3.1 .2 M437.6 513.9l-3.4 1.5-1.4 1.7-1.7 1.3-2.6 .8 M508 502.7l-1.3 2.7-1.6 3.1 .2 3.9-.5 2 M429.8 599l-.6-2.4-.7-2.3-1.4-3.2-1.9-3" fill="none" stroke="#A85A38" stroke-width="0.75" opacity="0.6" stroke-linejoin="round"/>
<path d="M469.6 533.6l3.6-1 2.7-2 1.7-2.9 2.1-3 1.8-1.5 2.6-1.4 M416.4 589.8l1.2-1.6 1.5-3 2.2-3.1 M432 609.3l1.9 .7 2.8 .2 2.1 .2 M493.7 500.2l2.5-.7 2.4-1.5 1.1-2 1.7-1.3 1.2-2.1 .7-2.5 2.9-2.5 M504.5 603.6l1.9-2.7 2.6-2.9 .7-3.4-.8-2.8-2.1-1.9-2.1-2.7 M479.3 585.7l-2.8 .8-3-.5-1.5-1.5-2.8-2.2-2.1-2.8-.2-2 M421.8 545.5l2.5 2.5 2.4 1.1 2.7 2.7 3.4 1.5 M433.9 580l-.3 2.2 0 2.1 .7 2.7 2.1 1.8 3 1.3 3.9-.6 M425.5 508.8l-3.2 2.3-2.3 3.2-1.4 2.5-2.3 2 M520.3 584.6l-1.2 2.5-1.9 1.9-2.6 1.8-1.4 1.5-2 3.1-1.3 1.6-3 1.3 M510.6 539.2l-1.2-2.7 .1-3.1-.9-1.9-.7-3.2-2-2.9-1.1-2.1-.5-2.7" fill="none" stroke="#A85A38" stroke-width="0.75" opacity="0.4" stroke-linejoin="round"/>
<path d="M513.3 534.3l-.1 2.2 .5 2.2-.8 3.5 .7 1.9 2 1.6 2.3 .7 M490.4 586.2l-2-1.7-2.2-.8-2.7-.6 M479.7 555.8l2.4 2.6 2.4 2.2 3.4 1.3 1.7 1.4 1.2 3.1-.8 3.7-.9 3.2 M440 556.9l2.6-1 2.6-.3 2.3 .4 2.3 .8 M528.1 509.6l-3-1.9-2.6-.3-3-1.2-3.2-.7-2.3-1.3-1.1-1.9-.1-3.6 M412.9 544.5l-2.4 1.6-3.3 .5-3.1 .8-2.8 2.5-1.8 .7 M415.6 544.1l2.4 1.8 1.1 2.4 1.3 2.5 2.7 1.6 1.5 1.3" fill="none" stroke="#A85A38" stroke-width="0.75" opacity="0.3" stroke-linejoin="round"/>
<path d="M447.3 500.4l2.3 1.3 1.9 3.1 .6 2.2-.4 2.2-1.5 2.1-1 2.5 M503.9 536.2l2.6-2.8 2.4-2.5 .8-2.3 1.5-2.7 3.3-1.7 3.7-1.2 M512.5 554l1.9-.8 3.2-2 2.7-2.9 M459.4 609.5l2.4-1.8 3.6-1.5 3.1 0 M508 577.9l-2.1-3.2-2.4-1.2-2.2-1.2 M534.8 548.5l2.1-1.1 3.3-1.9 2.5-1.2 2.7-.8 2.3 .7" fill="none" stroke="#A85A38" stroke-width="1" opacity="0.5" stroke-linejoin="round"/>
<path d="M489.7 564.4l-.3-3.3 .9-3.6 1.5-3 3.1-2.2 1.6-3.6 .5-3.5 0-2 M518.3 602.8l2.6-1.3 1.5-2.7 0-3.4 1.8-2.8 2.1-3.3 M498 511.2l-2.4 .5-3.1 .5-2.4 1.8-2.4 1.6-3.3 .7-3.5-.4 M489.5 565.2l-2.2 1.3-2.8 .9-3.9-.4 M520 510.8l-1.1 1.8-.2 2.5-1.2 1.8-2.8 2.9-2.9 1.7-2 .5-2.7 2.8 M426.6 562.7l-2.9 .9-3.9 .6-3.5 1-1.9 2-3.5 1.3 M463.8 505.2l2.5 3 .7 3.8 .4 2.6 M535.9 554.7l-3.4 1.9-3.6 0-3.6 .5-3.5 0-2.8 1.8-3.5 .7" fill="none" stroke="#A85A38" stroke-width="1" opacity="0.4" stroke-linejoin="round"/>
<path d="M414.5 586l3.2 2.2 1.9 1.9 2.1 2.1 .6 2.4" fill="none" stroke="#A85A38" stroke-width="0.5" opacity="0.3" stroke-linejoin="round"/>
<path d="M445.5 593.5l-3.5 .6-2.6 1.4-2.8 2.2-3.4 2.1" fill="none" stroke="#A85A38" stroke-width="0.5" opacity="0.6" stroke-linejoin="round"/>
<path d="M440.3 526.4l1.3-2.3 .2-3.4 .9-2.5" fill="none" stroke="#A85A38" stroke-width="0.5" opacity="0.5" stroke-linejoin="round"/>
<path d="M407 505.3l3.7-.5 3.6-.3 3.6 0 4.1-1 4.9-1.3 4.3-1.9 5.5 .5 5.6-.7 4.3 0 3-.2 4-1 3.1-1.4 3.1-2 3.4 .4 4.1 .3 4.5 .9 5.6 2.2 3-1.5 4.1 1.9 5.5-.3 5.3 1.5 3.4 .2 5.2 .9 5.7 .3 5.7-2.2 4.6-.2 3.2 .3 3.2 .2 3.7 .6 5.7-2.1 4.9-.4" fill="none" stroke="#E6D0A2" stroke-width="1" opacity="0.8" stroke-linejoin="round"/>
<path d="M407 503.3l4.6 .6 3.9 1.3 4.2-1.8 3.2-2.2 4-1.4 5 .2 4.1 .5 3.4-.1 5 .4 4.3-.2 3.1 .4 5.2-.6 3.9 1.2 5.3 1.2 5.7-2 4.4-1.2 3.4 .9 3.2-.2 4.9 2.2 5.4 .5 3.5 .3 3.8-1 5.3-2.5 3.6-.9 4.8 .3 4.3-2.4 4.6 .7 4.5-.8 5.8-.3" fill="none" stroke="#E6D0A2" stroke-width="1.25" opacity="0.7" stroke-linejoin="round"/>
<path d="M404.4 503.7l4.8 2.3 3.4-.5 4.6 1 3.7 1 4.7 .6 5.8 1.9 4-1.5 5.7-1.6 3.4-1.2 5.8 1.1 5.3-.2 3.6-1.4 5.7-1.5 5 .2 4.1 1.7 4.8 2.9 3.2 .2 5 1.3 3.1 .1 3.2-1.3 6 1.9 3.5 1.5 5.2 .9 5.2 0 4.2 1 4.4 .9 5.6-.4 5.2-1.5 3.8-.2 3.4 .2 3.4-.7" fill="none" stroke="#E6D0A2" stroke-width="0.75" opacity="0.8" stroke-linejoin="round"/>
<path d="M407 497.6l3.2 1.1 5.6 1 5.9 2.3 5.7-.4 4.7-2.6 5.2-1 3.9 .6 5.9 .6 3.3-.7 5.4-3.1 4.5-2.4 3.5 0 3.5 0 3.8 0 3.9 0 5.7 0 5.7 0 4 .2 4.1 1.5 3.9 .3 3.9 2.8 3.4 2.3 3.1-.1 5.6 .9 4.4 1.2 3.3 1.1 5.6 .9 3.5 0 4.2 1.4 4.9 .6 M391.4 509.2l5.6 1.2 4.4 0 3.5 .3 4.9-.3 4-.9 5.1-1.8 4.5-.5 4.7 .5 5.4 .3 3.8 .4 3.6 1 3.8 1.5 5.7 .1 3.1-1 3.9-1 5.3-1.1 5.3-.5 3.1 0 3.7-1.8 5.9-.3 4.6-2 3.7 .3 3.8-.7 4.1-.2 4.1-.3 4.3-.3 4.6 0 3.6-.8 3.3-1.1 4.6-.4 5.5 1 5.6 1.7 6 2.3" fill="none" stroke="#E6D0A2" stroke-width="1.25" opacity="0.8" stroke-linejoin="round"/>
<path d="M414 505l4 .4 3.9 .9 3.8 1.3 3.9 .6 4-.2 3.8-1.1 4-.8 4 .2 4-.5 3.7-1.2 3.8-1.5 3.9-.9 4-.2 3.9 .4 4 .4 M440 500l3.9 .9 3.8 1.2 3.9 .8 3.9 .9 4 .1 4 0 3.9-.9 4 0 3.9-1 3.7-1.4 3.5-2.1 3.5-1.8 3.6-1.9 M470 497l4-.3 3.9-1 3.9-.4 4 .2 4-.7 4-.2 4 .1 3.9 .6 4-.2 4 .6 3.9 .7 4 .6 3.9-.3 4 .3 4 .5 M500 503l3.9 .8 4 .7 3.8 1.2 3.9 .9 3.9 .8 3.9 1 3.9 .3 4 .5 3.9 .9 3.9 1 M420 515l3.2 2.4 3.5 1.9 3.5 1.9 3.9 1.2 3.9 .8 3.9 .6 3.9 1 3.6 1.8 3.8 1.3 3.8 1.2 M455 520l1.3 3.8 1.3 3.8 .7 3.9 1.2 3.8 .3 4-.1 4-.5 4 0 4 M423 575l4 .4 4-.3 3.9 .6 3.9 1.1 3.6 1.7 3.4 2.1 3.7 1.4 3.6 1.8 3.6 1.6 3.5 2.1 3.1 2.4 2.9 2.8 2.3 3.3 1.9 3.5 1.4 3.8 1 3.8 .7 4 .1 4" fill="none" stroke="#E6D0A2" stroke-width="1.25" opacity="0.9" stroke-linejoin="round"/>
<path d="M421.9 506.3l.9 3.5 M429.6 508.2l.6-3.4 M437.4 506.9l2.5 2.2 M445.4 506.3l.2-2.4 M453.1 504.6l1.9 2.1 M460.8 502.2l0-3.6 M468.7 502.4l.7 2.7 M447.7 502.1l-.8 3.3 M455.5 503.8l1.2-1.9 M463.5 503.9l.1 3.4 M471.4 503l.5-3.2 M479 500.6l2.2 2.1 M486 496.7l-.7-3.2 M477.9 495.7l1.3 3.5 M485.8 495.5l1.4-2.2 M493.8 494.6l.4 3.9 M501.7 495.3l.5-2.1 M509.7 495.7l-.5 3.4 M517.6 497l.5-2.5 M525.5 497l1.8 2.9 M507.9 504.5l1 3.5 M515.6 506.6l1.9-1.9 M523.4 508.4l-.7 2.6 M531.3 509.2l1.7-3 M539.1 511.1l-.3 2.3 M426.7 519.3l-.4 3 M434.1 522.4l1.5-2 M441.9 523.8l.6 2.4 M449.4 526.6l1.1-2.1 M457 529.1l-.1 3.4 M457.6 527.6l-3.8 1.1 M459.5 535.3l2-.3 M459.7 543.3l-2.9 0 M459.2 551.3l2.3 0 M471.5 512.8l-3.2 1.6 M472.1 520.8l4.8 .4 M474.4 528.5l-1.6 1.7 M476.8 536.1l3.4 1 M480.3 543.2l-1.4 2.4 M483.3 550.6l3.3 1.1 M485.6 558.3l-3.3 3.5 M488.2 565.8l3.6 .3 M489.3 573.8l-4.2 2.5 M490.5 581.6l2.7 .4 M488.9 589.4l-4.5 .2 M488.3 597.4l4.5 1.7 M430.9 512.9l-4.4 .1 M430.1 520.9l2.2 .9 M429.3 528.8l-4.7 .6 M426.9 536.4l3.2 2.8 M423.2 543.5l-2.3-.3 M421.9 551.4l3.4 1.8 M419.7 559.1l-2.6-.9 M416.4 566.3l2.5 2.7 M412 573l-3.1 .2 M407.2 579.4l.9 2.7 M403 586.3l-2.9-.5 M398.5 592.8l2.6 3.3 M424.2 528l-1.7 1.5 M425.4 535.9l1.9 .7 M426.6 543.8l-4.3 2.2 M429.2 551.3l3.2-.8 M431 559.1l-3.6 2.4 M433.1 566.8l4.4-1 M434.4 574.7l-3.8 .7 M437.3 582.1l2.3-.4 M440.9 589.2l-3.9 3.2 M442.3 597.1l2.6 .7 M514.2 512.9l-3.7 1.1 M515 520.9l4.5 1.4 M516 528.8l-4.6 1.3 M517.6 536.7l2.7 .2 M518.4 544.6l-2.4 .8 M519.8 552.5l1.9 .4 M520.8 560.4l-2.8 .9 M519.2 568.2l1.6 2.2 M516.8 575.8l-4.3 1 M449.7 547.8l-3.7 .8 M450.9 555.7l4.7-.2 M452.2 563.6l-4.4 1.3 M453.5 571.5l2.9 1 M457 578.7l-1.5 1.9 M461.5 585.3l2.3-1.3 M465.2 592.4l-1.8 4.4 M496 566.9l-3 .1 M493 574.3l3.6 1.4 M489.6 581.5l-4-.6 M485.6 588.4l.9 2.4 M480.4 594.5l-2-.7 M475.1 600.5l2.3 3.8 M431 575.1l.5 2 M438.8 576.8l1.4-3.4 M445.8 580.6l-1.2 1.9 M453.1 583.8l3.1-1.8 M460.2 587.5l.1 3.1 M466.2 592.7l2.4-.6 M470.4 599.5l-1.4 1.5 M472.8 607.1l3.9-.1 M473.6 615.1l-2.3 1.3" fill="none" stroke="#E6D0A2" stroke-width="0.75" opacity="0.7" stroke-linejoin="round"/>
<path d="M470 505l.6 4 .9 3.8 .5 4 .1 4 .9 3.9 1.4 3.8 1.4 3.7 1 3.9 1.4 3.7 2.1 3.4 1.9 3.6 1.1 3.8 1.3 3.8 1 3.9 1.3 3.7 1.3 3.8 .6 4 .5 4 .9 3.8 .3 4-.5 4-1.1 3.8-.5 4-.1 4 .1 4 M432 505l-.5 4-.6 3.9-.1 4-.7 4-.1 4-.7 3.9-1.2 3.8-1.2 3.8-2 3.5-1.7 3.6-1 3.9-.3 4-.9 3.9-1.3 3.8-1.8 3.6-1.5 3.6-2.2 3.4-2.2 3.3-2.3 3.3-2.5 3.1-2.1 3.4-2.1 3.5-2.1 3.4-2.4 3.1-2.3 3.3 M424 520l-.2 4 .4 4 .5 3.9 .7 4 .2 4 1 3.9 1.4 3.7 1.2 3.8 .5 4 1.3 3.8 1.3 3.8 .8 3.9 .8 3.9 .5 4 1.2 3.8 1.7 3.6 2.1 3.4 1.5 3.7 .9 3.9 .5 4 M515 505l-.6 4-.2 3.9 .4 4 .4 4 .8 3.9 .2 4 .6 4 1 3.9 .7 3.9 .1 4 .8 3.9 .6 4 .7 3.9 .3 4-.4 4-1.2 3.8-1.3 3.7-1.1 3.9 M448 540l.8 3.9 .9 3.9 .6 4 .6 3.9 .6 4 .7 3.9 .4 4 .9 3.9 1.7 3.6 1.8 3.6 2.3 3.3 2.2 3.3 1.8 3.6 1.9 3.5 2.5 3.1 M500 560l-2.3 3.3-1.7 3.6-1.5 3.7-1.5 3.7-1.4 3.7-2 3.5-1.8 3.6-2.2 3.3-2.5 3.2-2.7 2.9-2.9 2.8-2.4 3.2-2.7 2.9" fill="none" stroke="#E6D0A2" stroke-width="1.5" opacity="0.9" stroke-linejoin="round"/>
<path d="M470 590l3.8 1.3 3.3 2.3 3.1 2.5 3 2.7 2.3 3.2 2.9 2.8 3.4 2 3.6 1.8 3.8 1.4 3.6 1.6 3.7 1.5 3.3 2.4 3.3 2.1" fill="none" stroke="#E6D0A2" stroke-width="1" opacity="0.9" stroke-linejoin="round"/>
<path d="M477.1 593.6l0 3.2 M483.2 598.8l2.4-1.2 M488.4 604.8l-.6 3.5 M495.4 608.6l2.3-2.4 M502.8 611.6l-.7 3.5 M509.8 615.5l3.1-2.2" fill="none" stroke="#E6D0A2" stroke-width="0.5" opacity="0.7" stroke-linejoin="round"/>
<path d="M501.9 547.1l-4.1-1.2-4.3 1-2.2 1.7-1.7 2.1-2.3 2.1-2.9 1.1 M519.8 608l2.6 .8 2.1 1.4 3.8 2.7 M454.3 612.5l1.6-4.1 2.6-3 3.3-1.8 3.9-1.2 1.9-.9 4.7 .1 M452.4 592.6l.1-3.4-1-2.6 .4-2.3 2.8-3.3 2.2-3.6 2.2-3.3" fill="none" stroke="#C89478" stroke-width="0.75" opacity="0.5" stroke-linejoin="round"/>
<path d="M477.3 574.6l-2.9 1.4-3 .2-2.4 1.7-2.6 3.1-3.6 3.1-1.3 2.7-1.3 2.5-1.4 2" fill="none" stroke="#C89478" stroke-width="0.5" opacity="0.5" stroke-linejoin="round"/>
<path d="M434.6 607.9l-1.2-2.7-2.1-1.7-3.3-1.3-2.4-1.4-3.8-1.6-2.5-3.7-4-2.4-2.6-1.9 M501.4 585.1l3.7-1.2 2.9 .6 3.4-.4" fill="none" stroke="#C89478" stroke-width="0.75" opacity="0.6" stroke-linejoin="round"/>
<path d="M513.2 551.5l-3.1-2.3-2-2.6-3-3.8-3.7-3.2-1.2-2.4-.3-2.8 .7-4.7" fill="none" stroke="#C89478" stroke-width="1" opacity="0.5" stroke-linejoin="round"/>
<path d="M425 606.8l3.7 .3 4.8-1 3.2 .1 3.9-2.2 2.4-.6 2.2-1.5" fill="none" stroke="#C89478" stroke-width="0.5" opacity="0.6" stroke-linejoin="round"/>
<path d="M472.8 595.7l-3.3 .6-4.1 .7-4.4 1.8-3.3 1.1-4.7 .6" fill="none" stroke="#C89478" stroke-width="0.75" opacity="0.7" stroke-linejoin="round"/>
<path d="M433.8 530.1l2.6 .2 2 .3 3.4 .3 3.8 2.9 3 3.3 .8 3.2 3.1 2.9 M419.5 554.4l2.8-2.2 3.5-2.6 3.9-2.7 2.5-2.4" fill="none" stroke="#C89478" stroke-width="0.75" opacity="0.4" stroke-linejoin="round"/>
<path d="M479.0 482.0 C479.7 480.3 484.3 479.0 486.0 480.0 C487.7 481.0 489.7 486.3 489.0 488.0 C488.3 489.7 483.7 491.0 482.0 490.0 C480.3 489.0 478.3 483.7 479.0 482.0 Z" fill="#7AA63A"/>
<path d="M505 488 Q512 474 522 472 Q530 470 532 478" fill="none" stroke="#D2B878" stroke-width="3" opacity="0.8" stroke-linejoin="round"/>
<path d="M517 470 Q522 480 530 486" fill="none" stroke="#B8A060" stroke-width="2" opacity="0.8" stroke-linejoin="round"/>
</g></g>
<g clip-path="url(#rb2)">
<rect x="156" y="660" width="128" height="160" fill="#7A2E16"/>
<rect x="156" y="660" width="128" height="160" filter="url(#soil2)"/>
<g filter="url(#soft)">
<path d="M282.1 684.8l-2 1.1-2.9 1.1-2.2-.6-2.7 0 M184.9 674l2.9-.3 2.4-.2 3.5 1.8 2.7 0 3.5 1.4 2.8 1.9 1.9 2.2 1.9 .7 3.5 0 M207.3 698.1l-1.7-2.4-3.2-2.4-2.6-1.1-2.3-.8-3.3 .6-3.3 .1-2 .4-2.9 .4 M200.5 692l3-.2 2.4 .3 2.7-1.1 3-.6 1.9-1.9 .6-2.5 .8-2.1 M238.7 672.8l3.1 .8 2.2 .5 2.7 1 2.1 .3 2.3-.1 2.7-.3 3-.4 2.3 .7 3 2.3 M176.4 693.6l-2.6 1.4-1.4 2.5-2.9 2-1.9 1.3-1.2 1.9-2.2 3.1-3.4 1.6-2 1.5 M232 682.7l1.5-1.9 .3-2.3 1.8-2.4 1.2-2.4-.2-2.4" fill="none" stroke="#C27450" stroke-width="1" opacity="0.8" stroke-linejoin="round"/>
<path d="M190.5 679.7l2.4 2.5 1.1 2.2 2.7 2.6 3.4 1.4 2.2 .7 2.5 .7 2.9 1.3 3.2 .8 M205.2 669.1l2 3.3 1.4 2.6 1.4 3.3 .7 2.8 M211.4 692.6l1.4 1.9 2.9 2.7 .8 2.6 .1 2.5 M209.5 674.4l1.9-1 3.1-.9 2.4 .4 1.9 1.2 M264.2 695l1.3 1.7 .7 3.4 1.6 2.1 .6 1.9-.2 3.7 .8 3.6 .6 3.4 1.5 2.4 M202.3 670.1l.8 3.1 1.4 2.6 1.6 3.7 .3 2.1 1 2.8 2 2.4 1.9 2.7 1 1.9 .5 2.9 M266 680.8l1.8 1.3 1.8 3.1 .2 2.2 .8 2.3 .7 3.2 .5 3.3 M230.2 675.7l-.9 2.9-.3 3.5 1.2 2.4 3.1 1.8 1.5 1.5 2.7 1.9 1.4 2.1 2.4 2 M252.2 676.1l1.8-2.4 2.9-1.4 2.5-2.8 1-1.9 M204.5 688.7l.8 3.9 1.7 1.8 2.4 1.5 2.9 .1 2.8 2 2.9 .2 2.3-.2 M251.8 687.9l2.1-1.5 1.7-3.2 1.4-2.9-.2-2.5-1.5-3.6 M228.4 686.8l-3.4-.9-2.8-1.7-2-3-.8-2-1.8-1.4-1.8-3-1.8-3.1-2.7-2.5 M185.9 685.6l-1.8-1.5-1.6-3.6-1.7-1.4-2.6-2.4-1.3-2.4-1.1-2-.9-3.2-.8-2.7 M195.7 687.6l1.7 3.3 .4 3.4-.7 1.9-2.9 2.3-2 1.2-2 .9-1.3 1.9 M241.7 676.1l-.2 2.3-1.5 3-1.9 2.2-2.7 2.2" fill="none" stroke="#C27450" stroke-width="1" opacity="0.5" stroke-linejoin="round"/>
<path d="M164.3 681.1l1.8 1.2 2.1 2.1 2.9 2.2 1.9 2.4 .5 2.4-.1 3.5 .8 3.2 1.8 1.8 1 2.4 M243.5 663.8l1.8 2.6 2.9 1.6 1.7 1.4 1 3-.9 3.8-.2 2.1 1.2 3.4 M279.7 665l1.8 1.8 1.1 2 2.2 1.6 1.3 2 3.4 2 2.8 .2 M198.4 679l-1-2.1-2.2-2.1-2.6-1-3.2 .3-2.7 2 M185.3 689.7l.7 2.8 1.9 3.4 1.8 1.6 2 .5 2.6 .8 M219.5 675.5l-.1 2.5 1.1 3.6 .6 3 1.7 2.6 1.8 1.3 3.7 .9 2.6 .7 2.9-.9 M210 666.1l2.9-.9 2.7-1.7 1.8-2.8 2.3-2.7 .7-3.5 1.3-2 .9-2.9 M269.2 697.4l1.4 1.9 2.6 2.2 .9 2.3 .4 2.2 1.9 2.3 1.4 2.2 M195.7 672.5l-2.7-2.8-1.6-3.4-.1-2.6 1.3-2.9 .1-3.2 .3-2.5 1.5-1.9 .8-2.4" fill="none" stroke="#C27450" stroke-width="0.75" opacity="0.5" stroke-linejoin="round"/>
<path d="M160.5 677.1l-3-.5-3.6-.1-2.5 .4-2.1-.3 M272.1 666.4l-2.2-1.8-1.9-2.4-1.9-2.5-2.5-1.2-2.6 .5-2.7 2 M230 681.4l-2.1 1.3-2.4 1.8-2.3 .4-3.6-1.6-2.4-3.3 M247 664.5l2.5 2.6 2.7 1.8 2.9 0 2.8-1.5 2.1-.8 3.7-.8 3.6-1.3 M256.3 698.1l-1.9-1.2-2.1-.7-3.1-1.7-3.3-.6-2.4-1.4 M159.4 694.9l-2.9 2.2-3.2 2.4-1.2 3.4-.3 2.2 M230 672.8l-.3-3.1-1.5-2.9-.1-2.5-.6-3.2-1.7-2.3-1.6-3.3 .1-3 .7-3.3 M240.8 697.8l3.4-.8 2.6 1 3.4 .1 2.7-.6" fill="none" stroke="#C27450" stroke-width="1.25" opacity="0.5" stroke-linejoin="round"/>
<path d="M163.3 686.6l-2.6 .9-2.4 1.3-2.9 1.4-2.5 .5-2 1.7-1 2.1-2 3.1-1.1 3.4-1.9 2.6 M222.8 673.6l-3.6 .9-3.1 .9-2.8-.1-3.2 0-3.4-.3 M199 687.4l1.1 1.8 1.3 2.9 2.2 2.9 1.8 3.2 1.1 3.2-.5 3.8 M156.6 690.8l.9 2.8 .6 3.6 0 3.9-1.2 3.5 M162.8 684.8l-2.1-.2-2.7 .7-3.3 .9-3.1-.4 M250.6 690l1.7-2 1.3-3.5 1.6-3 2.3-2.4 2.2-3 M249.8 676.8l3.4-1.6 3.8-.8 2.9 .3 2 .2 4 .5 1.9 .9 2 .3 3.5-.8 3.5-1.9 M184.6 660.4l2 1.7 .8 2.7 .7 2.2 1.3 1.8 M198.5 664.9l-3.8 .2-2.7 .8-1.7 1.4-1.7 1.2-1.8 2.1 M232.7 691.5l2-1.9 1.1-2.3 1.3-3.6 1.1-3 1-2.5 M166.8 661.2l-2-1.7-2.1-1.9-2.5-.7-3.4 .4-2.7-.9-3.8-1.1-2.1-1 M224.1 677.1l-.3 2.3-.2 2.6 .6 1.9 .9 2.2 2.5 2.5 1.5 3.1 1.3 1.7" fill="none" stroke="#C27450" stroke-width="0.75" opacity="0.6" stroke-linejoin="round"/>
<path d="M261.5 663.5l2.1-2.3 1.2-3.4 1.5-2 .2-3.4 M264.8 664.8l2.7 1.8 1.1 3 1.2 2.3 .5 3 1.1 1.7 2.2 2.1 2.4 .7 2.5 .7 M222.9 675.4l-2 1.4-1.9 .8-1.7 2.4-3.2 2.1-3.9 .9-2.8 1.6-3.5 .6-3.8 1-1.9 2.1 M231.1 667.8l-2.7-1.7-1.1-2-.4-3.2-1.1-2.7-.3-2-.2-2.3-1.5-2.9-.4-3.5 M242 690l2.8-.7 2.2-.2 3.3 .2 3.7 .2 3.2 1.3 1.7 1.9 1.6 2.1 .5 3.7 1.5 2.8 M263.9 679.6l-2.4-.4-2.1 0-2.4-1.4-2.3-2.3-2-.7-1.9-.9 M203.3 678.7l-2.5 2.3-2.2 3.1-.5 2.6-1.5 2.7-.7 3-.9 1.8-.8 2.1 M193.1 691.7l1.4 3.7 .2 3.2 .5 3.9-.2 2.2 .1 3.4 .9 2 1 3.7-.1 2.5-.6 2.9 M266.9 666l-1.6-1.2-2.7-1-1.8-2.1-.4-3.2-.6-2.6-1.6-3.4" fill="none" stroke="#C27450" stroke-width="0.75" opacity="0.7" stroke-linejoin="round"/>
<path d="M253.7 668.7l-.1-2.6-.2-2.4 .6-3.2-.4-3.4-1.3-3.4-.8-2.2 .6-2.4 M194 664.3l1.7-3.3 1.4-3.3-.3-3.1-1.1-2.4 M236.7 675.1l.1-2.2-.5-2.5-1.4-3.7 .6-2.7 M187.4 665.3l.6-2.2 .2-3.1 1.7-3 1.8-2.4 3-1.9 3-.4 2-1.8 M187 685.6l1.5-1.6 3.3-1.7 3.6-1.3 3.6-1.2 2.8-1.5 M164.1 684.9l2.1 2.2 2 1.5 2.3 .2 3.5-1.6 2.8-1.2 2.7-.5 M159.8 681.1l2.3 1 3.3-.6 2.6 .1 3.4-1.1 2.1-2.8 .6-2.4" fill="none" stroke="#C27450" stroke-width="1.25" opacity="0.8" stroke-linejoin="round"/>
<path d="M200.2 681.3l3.4-.3 3.5 1.2 1.9 2.4 2.6 2.4 3.3 1 3 .3 M202.6 678.8l1.1-2.9-.1-2.3-.2-3-.8-2.1-2-1.8-1.1-3.1-1.1-1.7 M195.1 675l-2 .3-3.1-1-3.1-1.6-2.5-3-1-2.4 M228 677.5l-2.8-.6-2.5 .4-3.5 1.7-2.7 2.1-1.7 1.2-2.6 1.6-1.8 2.1-3.2 1.9-2.5 1.2 M239.1 665.9l-3 2.7-2 2.5-1.4 1.6-2 1.9-1 1.9 .2 3.1-1.5 2.6-.5 3.9 M241.2 678.8l-2.4 1.9-4 .7-2.5 .5-3.9 1-3.8-.2-3.2-1-1.3-1.7 M281.7 693.7l-1.7-2.3-.6-3.4-.2-2.1 .2-2.9 1.6-2.9 .5-2.5-1-3.5" fill="none" stroke="#C27450" stroke-width="1.25" opacity="0.6" stroke-linejoin="round"/>
<path d="M196.4 695.9l2.2 2.8 2.6 1.7 3.8 .7 2.1-.9 2.2-2 2.1-.3 2.2 .6 2.6 2.4 3.8 1.2 M228.5 674.8l.3 2.9 .5 2.1 1 2.8 .2 3.2 M263.6 675.1l2.6 2.5 2.7 2.1 .8 2.1 1.9 1.3 M250.3 663.5l2-3 1.1-2.9 1.9-3.3 2.8-1.7 M178.3 688.9l-1.9 1.6-1.8 2.2-2.9 1.8-1 2-2 2.6-1.3 1.9-1.8 2.7-.4 3.2" fill="none" stroke="#C27450" stroke-width="0.75" opacity="0.8" stroke-linejoin="round"/>
<path d="M198.7 692.2l-1.4-2.8-1.4-2.6-1.8-2.7 .1-2.2-.2-2.1 1.3-3.5 M216.3 693.7l-3.3-2.3-3.8-.1-2.9-1.5-1.9-1.6 M195.6 682.3l1.3 3.7 1.5 1.5 .5 2.8 .5 3.4 M278.5 667.3l.4-2.7 .6-3.6 1.9-3.5 3.3-2 3.3-1.5 M167.8 691.9l-.4 2.5 1 2.2 .9 3.4 .3 2.2 .6 2.4 .4 2.9 .3 2.5 2 2.2 1 1.8 M215.1 661.8l-.7 3.2-.1 3.4-.8 2.3 .4 3-1.2 2.9-.5 2.5 .1 2.2 .8 2.2 1.3 1.7 M257 677.7l3.5-1.2 2.8-.9 3 .6 3.1 2.2 2.8 .6 2 1.3 1.8 1.7" fill="none" stroke="#C27450" stroke-width="1" opacity="0.7" stroke-linejoin="round"/>
<path d="M277.4 691.6l2.1 2.7 2.1 2.7 1.9 .8 2.6 2.7 1.2 3 2.6 2.1 M202.1 679.4l2.7 1.4 3.5 1.1 3.6-.6 3.2 .2 3.6 1.4 2.8 .2 2.5 .5 2.6-.5 3.6 1.4 M214 670.8l-2.8-.8-3.2-1.9-2.2-1.9-2-2.8 M162.5 697l2.2 3.2 2.1 3.1 1.2 3.1-.4 3.5 1.1 3 .4 3.9-1.7 3.4-3.2 2.4 M235.4 669.4l-2.2-.1-3.1-.3-2-1.2-1-2.2-1.5-1.4-2.7-1.6-3.2-2.1-2.7-1.2 M182.7 679.9l2.6 0 3.2 1.4 3.3 2.1 3 2.3 3 .5 2.3 1.3 3.3 .2 2.7 .2 3.5-.2 M236 683.5l-1.7 3.1-1.4 2.1-2 3-1.9 2.6-1.3 1.9-1.3 2.4-1 2-1.7 2-2.9 1.7 M192.1 684.6l-3.4-.9-2.6-2.8-2-1.9-1-2.2-2.9-1.8-3.3-1.4-1.4-2.1 M166.8 680.5l-2.9 .7-2.7 .4-2.4-.7-2.9-1.2 M205.7 692.3l-2-2.3-3-1-3.8 .2-3.1-1.4-3.1-.9-3.9-.4" fill="none" stroke="#C27450" stroke-width="1" opacity="0.6" stroke-linejoin="round"/>
<path d="M177.9 696.1l1.7 2 .4 2.1-.5 2-1.5 2.1 0 2.8 1.1 3.4 .3 3.4-1 2.5-.3 2.2 M213.6 670.9l2.9-2.2 1.4-2.5 .1-3.9 .9-2.2 1.3-2.2 M224.9 667.5l1.4-3 1.2-3.1 1.8-2.4 .3-2 1.8-2.8 1.4-2.1 M181.7 673.1l3.3 1.7 1.8 1.3 3.7 1.3 2 .6 2.3 2.3 2.1 2.5 2.5 2.1 1.7 1.5 M158.3 683.3l2.7-1.8 2.2-1.1 2.1-1.7 1.5-3 .3-2.2 .8-2.2 M184.7 669.4l0-3.7-.3-2.1-.9-2.2-.9-1.8-2.3-3.2 M206.2 696.9l-.5 3.4-1.2 2.2 .2 2.2 1.3 2.2 .1 2.7-.6 3.4-2.4 2.5-2.6 2 M223.2 670.3l.5 3.6 .5 3.1 1.2 2.9-.4 4 1.7 3.1-.2 3.5 1.2 3.3 M186.6 687.6l2-2.9 2-1.3 2.7-2.9 2.2-2.9 1.9-1.7 M202.3 663.7l3-.1 3.9-.6 1.9-.7 2.3-.9 2.2-1.8 3.2-2.2 2.2-.4 2.8 .6 M210.3 675.8l-3 .7-1.9 1.6-3.6 .8-2.6 .4-2.2-.8-2.8-.4-2.9-1.7-1.6-1.3-.8-2.1 M277.7 694.3l0 3.1-.1 2.4-1 2-.3 2.5 .5 2.1" fill="none" stroke="#C27450" stroke-width="1.25" opacity="0.7" stroke-linejoin="round"/>
<path d="M196.5 679.6l-2.1 2.6-.2 2.2 .6 3.7 .6 3.2 .9 2.7 .2 3.3 1.3 2.7 1.8 2.4 M229.4 663.2l2.8-1.5 1.8-1.6 2-2.5 .7-2.3 .8-3.4 1.6-2.1 .9-3.9" fill="none" stroke="#C27450" stroke-width="1.25" opacity="0.4" stroke-linejoin="round"/>
<path d="M170.7 698.5l1.6 1.2 2.8 .1 2.5-.6 1.9-2.2 M256.6 802.6l0-3.4 .8-2.3 .8-3 M163.3 799.2l1.5 1.5 3.1 .6 2.8-.8 2.7 .4 M260.2 731.8l3.5-.1 1.8 1.1 2.5 2.5 3.3 1 M281.5 802.1l2.8 2.4 2.3 2.2 2.2 .5 3.4 .1 3.1 1.5 2.5 2.3 M158.4 800.2l.5 2.8-1.1 3-1.2 2.1-1.3 1.9-3.7 1.4 M193.5 802.2l-.3 2-1.9 3.5-2.9 2.1-2.9 2.4-2.1 2.3-3.2 2.2-2.6 1.6 M187.2 721.1l-1.7 2.6-1.7 1.3-1.6 2.5-2.3 2.7-1.5 3.2-.5 2.4 M205.3 728.5l2 0 3.6 .4 2.8-1 2.4 0 M205.8 758.1l-.6-2.9-.1-3.4 0-2.8" fill="none" stroke="#A85A38" stroke-width="0.75" opacity="0.4" stroke-linejoin="round"/>
<path d="M256.3 813.4l-3.2 1-3.6 1.4-3.6 .6 M191.5 698.5l3.1 .6 3.2 .8 2.6 .1 3 .4 M231.6 780.6l-2.1-1.2-1.8-2-.9-2.5-1.4-3.7 M283.5 727.8l1.4-2 2.5-2.6 3.1-1.6 1-1.9 1.3-2.5 2-1.7 M223.6 789.9l-2.8-.8-3.7 .9-3.3-1 M270.5 819l.9-2.4-.1-2 .8-2.4 1.4-1.8 1.6-2 M271.9 781.4l-2.5-.6-2.3-2.4-1.6-1.2-1.9-1.9-1-2 M204.4 817.9l2.3-2.4 3.2-1.4 3.6-.7 2.2-2 2-.4 1.9-1.3 M241.2 795.6l2.1-.6 2.4 .7 2.2-.5 3.3-1.8 3.1 0 M216.9 733l-1 2.8-2.4 2.2-3.3 1.3-2.6 1.8-3.2 .2" fill="none" stroke="#A85A38" stroke-width="0.75" opacity="0.5" stroke-linejoin="round"/>
<path d="M231.7 790l-.6-3.5-.9-2.4-1.5-2.9-1.3-1.8 M260.6 706.7l-1.4-2.9-2-3.1-.5-2.8-2.2-3.3 M263.2 799.8l3.9-.6 2.7 .2 2.5-1.5 2.6-2.6 3.4-1 3.1 .8 M254.7 770.1l-.8-2.1-1.4-1.7-2.7-1.7-3.2-1.1-2.4-1.2-1.8-1.5 M229.6 780.5l2.3 .4 3.1-.3 2.3 .3 2 .9 3 2.4 2.2 1.4 1.6 2.2" fill="none" stroke="#A85A38" stroke-width="0.75" opacity="0.6" stroke-linejoin="round"/>
<path d="M241.3 737.6l2.5 2.6 .9 3.1 1.8 3.3 2.2 2.3 3.1 .9 2.2 1.6 M241.3 732.1l2.1-3.1 .5-3.4 1.8-1.9 1.8-1.5 1.3-3.3 2-2 M259.1 810.3l1.5-1.4 2.6-2.1 .7-2 1.3-2.9 M184 718.5l.5 2.7 1 1.8 1 3.4 .4 2.8 .6 2.5 M185.1 693.2l-2-.5-2.6-1.4-1.5-1.9-1.9-3.2-.2-2.5-1.5-2 M202.7 748.4l1.7-3.2 1.6-3.3 1.2-2.1 3.1-1.7 M257.3 730.2l.1-3.1-1.1-3.2-.5-3.2" fill="none" stroke="#A85A38" stroke-width="1" opacity="0.5" stroke-linejoin="round"/>
<path d="M196.5 776.4l-3.8-.9-2.7-1.2-3.1-.4 M265.1 756.8l3.2 .8 3 2.5 2.1 .4 3.1-.7 2.8 .3 3.5-.5 2.7-2.4 M220.9 769l1.1 2.2 1.7 1.1 2.6 1.6 3.3 1.6 1.7 1.2 1.8 1.8" fill="none" stroke="#A85A38" stroke-width="0.75" opacity="0.3" stroke-linejoin="round"/>
<path d="M245.4 795.8l-2.9-.1-2-.9-3.6-1.1-3.5-.7 M190.4 706.5l-2.4 1.7-1.2 2.3-1.6 2.2-1.3 3.2-1.5 1.5-1.9 1.4-1.3 1.9 M221 722.6l2.4-2.5 1.2-1.9 1.1-2.1 M243.6 734l-1.9-2.6-.5-3.5-.9-3.2 M260.8 799.1l3.4 1.9 1.8 3.1 2.8 1.5 1.3 2.6" fill="none" stroke="#A85A38" stroke-width="1" opacity="0.6" stroke-linejoin="round"/>
<path d="M172.8 815.2l-2.2 2.7-3.7 1.5-1.6 1.4-1.3 3.2-1.2 3.6 M262.5 723.8l-.1 2.4-.4 2.6-1 3.4-.6 1.9-.6 2.8 .2 3.3 1.8 3.5 M215.5 778.5l3.7 .7 2.3 1.4 2.6 .3 1.8 1 1.1 1.8" fill="none" stroke="#A85A38" stroke-width="1" opacity="0.3" stroke-linejoin="round"/>
<path d="M245.9 725.5l-1.4 2.5-2.1 3.1-1.2 3.2-2.9 2.7-1.2 2.6-.1 2.6 M213.1 737.1l.3-2.5-1.3-3-2.4-2.8-1.8-2.4-1.2-2 M264.1 744.5l-3.7-1.3-2.4-.5-3.6-.5-2-1.4-3-1.6-1.7-1 M256.1 710.4l2.4 2.8 1.8 2.1 1 1.9 2.9 1.6 2.2 1.9 1.5 2.8 M173.7 794.1l1.6 3.3 1.2 3.6 2.3 2.1 1.8 1.2 M243.9 727.5l-1.7-1.5-2.6-2.1-2.1-1.5-1.9-3.2-2-2.1-1-1.8-2-3.1 M274.9 796.2l-1.6-2.2-.2-3.3 1.8-3.5 .2-2.3 .5-2.1 .8-3.8 M268.4 726.1l2.2-1.4 3.2-.1 3.3-1.1 1.6-2 2.6-1.1 3.2-.5 3.5-.6 M185.4 699.1l3.3 .3 2.9 1 3.9-.5 M191.2 768.8l1.4 3 1.7 2.8 1.5 1.4 2.7 2.6 M230.4 802.7l-.3 3 1 3.7 .9 3.4 .2 2.3-1 2.6-.7 3.3" fill="none" stroke="#A85A38" stroke-width="1" opacity="0.4" stroke-linejoin="round"/>
<path d="M267.7 751.2l-2.1 .2-2.7-.2-3.3-1.1-2.4 .2-3.6-1.2 M272.9 737.1l.4 2.8 0 3.6-1.7 3.5-3 2.3" fill="none" stroke="#A85A38" stroke-width="0.5" opacity="0.3" stroke-linejoin="round"/>
<path d="M252.6 703.7l1-2 1.3-2.7 .3-2.2-.1-3.1 M200.5 755.3l-3.4 .4-3 2.6-1.6 1.9-1.8 2.1" fill="none" stroke="#A85A38" stroke-width="0.5" opacity="0.5" stroke-linejoin="round"/>
<path d="M208.2 807l3.6 .9 2.2 .5 2.5 0 2.6-1.1 2.4-.3 2.7 .9 3.6-.2" fill="none" stroke="#A85A38" stroke-width="0.5" opacity="0.4" stroke-linejoin="round"/>
<path d="M196.8 769.2l2.7-2.2 1.9-3 2.8-2.3 2.9-2.1" fill="none" stroke="#A85A38" stroke-width="0.5" opacity="0.6" stroke-linejoin="round"/>
<path d="M139.7 720.6l6.2-1.7 6.5-.2 7-1.6 4.5 .9 6.4 .2 4.9-.4 6.5 1 5-1.4 6.7-.4 5.7 0 4.7-1.2 6.5-1.2 5.8 .8 7.3 .6 7.8 .4 7.5 .9 6.9 1.7 6.5 1.5 6.1 .7 7.8-2.6 7.5 .8 5 1.8 4.8 .7 4.9-.7 M270.2 712.7l-.8 7.8 1.7 4.1-1.1 5.3-.4 6.2 .3 7.5 1 4.6 .6 6.2-.7 6.2-.8 4.9 1 7.3 1 5.2-.9 6.3-.3 4.7-2.5 5.3 M197.9 705.8l-.9 4.2-1.3 6.8 2.6 6.6-.3 7.1-2.2 4.6-2.6 6.9 .6 4.3 1.3 7.4 2 5.6 2.8 6.6 3.7 5.8 4.7 8 .7 7.1 .5 5.9 1.5 5.6 .5 5.1 M201.2 706l-.3 7.5 .7 4.9 1.2 7-1.1 6.8-1.3 4.4 .6 7.6-1.4 6.9 1.2 4.1 .1 5.4 1.7 5.9 2.8 6.7 2 7.6 1.5 4.1 1.1 4.8 .2 4.9-3.8 7.4-.1 4.6 1.1 5.9 M190 708.5l-.9 4.6 2.2 7.1 2.1 4.9 1.4 6.3-.2 6-.8 4.5-1 5.2-.2 4.2 2 5.9-.6 6.4 2.1 4.5 1 6.9-1.7 6-.2 4.2-.2 7.7-.1 7.2-1.9 4.7 M199.6 703.4l3.4 6.1 2.6 5.7 .6 6.1-1.2 5.1-.1 5.9-3.2 6.4-4 7.3-1.7 6.9-3.3 6 1.7 7.1-1.2 7.1 2.1 7.8 2.2 5.5 1 6.9 1.6 4.8 3.6 5 4.6 6.4 .8 5-.5 7.1" fill="none" stroke="#E2C9A0" stroke-width="1" opacity="0.5" stroke-linejoin="round"/>
<path d="M144.2 713l6.9-1.3 4.8-.6 4.8-.1 7.3-.2 6.6-2.4 4.7 .2 7.3 3.4 5.9-1.3 4.9 .5 7.6 2 6.6 1.1 5.1 1.6 7.5-1.9 7.8-2.8 6.4-.7 7.8-2.4 7.6-1.6 4.6-1.8 5.1-.3 6 .5 7 2.9 4.1 .7 6.4 .1 M204.1 782.5l4.8-1.6 4.7 .6 7.5-1.3 5.9-.1 5-1.1 4.4 .1 6 .3 4.2 1.8 4.1 1.3 7.3 2.9 7.9-.8 7.4-1 5.8-.4 7.9-2.5 7.2 .7 M152 745.5l7.5-.8 8 2.6 6.4 2.8 4.8 .5 5.7 2.5 6-.1 6.4 .6 6 1.9 4.6 1.2 7.6 3.4 4.8 1.9 5.5 2 4.5 1.8 7.9-.6 5.3 1.2 4.4 .1 4.7 .6 7-.5 6.6-2 7.4-1.8 6.4 .7 M152 804l7.7-1.9 6.2 1 4.4 1.8 8 3.6 7.5 2.9 8 0 7 3.1 5.8 .3 7.4-1.2 4.4 1 7.2-1.2 7 .2 5.9 2.4 4.4 1.6 6.5 1.4 5.9-.5 6.3-1.2 4.8-2 4.4-1.3 4 .5 6.7 1.6 4.7 .4 7.5 1 M205.5 749.8l5-1.2 4.6 .8 4.4 1.9 5.1-.1 5.3-.2 8-1.1 6.9 .5 5.7 .6 6.4-.4 4.5 .7 6-.3 7.2-1 5.3-.1 6.4 1.6 6.5 3.7" fill="none" stroke="#E2C9A0" stroke-width="1.25" opacity="0.8" stroke-linejoin="round"/>
<path d="M139.3 798.6l5.1 2.4 4.8-1.3 4.9 .7 7.3 2 7.9 1 6.8-.9 4.7-.2 4.1-.3 5.1-1.7 5.3-2.7 6.7-3.2 4.4-1.6 7.4 1.1 5.2 .2 6 .8 4.8 .5 5.3 .6 4.1 .1 6.3 .8 6 1 7.4 2.7 5.4 1.4 5.5 .2 7.6-1.7 4.6-1.1 4.4-.3 7.2-.9" fill="none" stroke="#E2C9A0" stroke-width="1.5" opacity="0.5" stroke-linejoin="round"/>
<path d="M148.3 732l6.7 2.4 4.7 0 5.5 1.6 6.5 3.4 5 2 4.1 2 6.7 .6 4.5 .9 4.3 1.7 5.3 3.1 5.7 3.3 7.5 1.5 4.9 .9 7-.4 5.7 .6 5.8 .7 7.3-1.5 7.6 .7 6.5-1.1 M152 783.2l5.1 0 8 0 5.4 .6 7-.5 6.5-1.5 5.4-2.3 4.3-1.5 7.5-.1 4.1 1 6.8 2 4.3 3 4.5 1.9 6.4-1.7 7.3-2.9 7.3-2.8 4.7-2 7.1-2.8 6.8-1.1 6.7 .9 6.4-.2 5.9-2.2 6.1 1.4 7.3 .3 M152 706.5l4.9 .8 5 1.3 7.5-1.6 6 1.7 4.5-.3 7.7 .4 6.3-.4 5.7 .2 6-2.2 4.1-.1 7 .8 6.8 2 7.2-.1 7.9-2.8 7.4 .1 6.2-1.8 6.7-.8 7.1 .1 7.2-.7 5.7-2.1 5.1 0 6 0 M218.1 794.1l4.9 1.3 5.9 1.1 6.8 .4 7.9 1.7 5.9 .9 4.1 1.9 4.8 2.2 5.1 1.7 4.3 2 7.9 4.5 7.7 1.2 7.2-1 M152 807.8l7.8-1.8 5.3 .8 6.7 2.9 5.9-.7 5.5-.4 7.9-.9 7.3-.5 6.7-.5 4.4 .8 6.6 2.2 5.5 1.5 6.1-.1 5.1-1.3 7.1-.4 4.4-1.2 5.9-1.5 7.5-1.2 M146.8 807.2l7.7 1.1 7.3 3.3 4.9-.6 4.2 1.4 6.6 2.5 4.6 1.5 5.7 2.6 5.4 0 5.4-1.9 5.7-.2 4.5-2.3 5.1-2.2 5.4-.1 5.8 .3 5-1.1 4.9 0 6.2 .1 7.5-.3 5.3 .1 5.1-1 8-.6 7.6-1.6 4.5 1.2 4.8 2.1 6.3 1.8 M133.3 716.1l4.8-1.8 7-1.7 5.4 .2 6-.2 7.6 .2 7.4-2.3 7.6 .8 5.2 .7 6 .1 5 .3 7.4 .1 4.4 .6 6.9 .4 6.4 2.6 4.2 1.6 4.6-.7 5.7-.5 7.4 .9 4.2 1.5 6.9-.3 M152 734.5l5.4-1 7.5 .5 5.8-.9 6.4-.3 6.9 .5 7.5-.6 6.3-.4 5.4-2.2 4.8-2.4 6.9-2.5 6 .5 7.2-.2 6.1 .9 7.8-.8 7.7 .3 5 1.5 6.5 1.3 7.4 2.7 6.6 1.3 5.8-.4 7-2.5 M173.2 770.2l7.2 1.7 5.1-.7 6.4-.2 7.1-1.8 5.5 .4 6.9 1.4 5.6 .1 4.3 .2 6 1.7 7.2 .8 5.4 .9 5.4 1.5 6.4 .4 M177.4 711.6l-1.5 5.5-2.2 6.8-5.3 6.8 .5 7.3 2.6 5.3 4 5.1 1.2 6.2 1.5 5.9-2.3 6.6 .7 5.6-1.9 6.6-2.2 6.4-3.2 7.3" fill="none" stroke="#E2C9A0" stroke-width="1.25" opacity="0.6" stroke-linejoin="round"/>
<path d="M152 726l7.4 1.6 7.3 1.6 7.1-1.7 6.6-1 6.9-3.1 4.1-2 4-.9 4.7 .2 7.3 .1 6 1.1 5.1 1.1 4.5-.1 7.1-1.3 7.4-2.9 4.5-2.7 5.6-1.9 4-1.2 7.8-1.3 6.1-1.5 7.1-.1 7 1.9 M152 721.1l7.4 2.4 5.6 2.5 6.4-.2 4.2 .6 6.2 .5 5.5-1 7.7-.7 6.1 .1 5.6-.2 5.4-1.1 5.6-1.1 7.5 1.8 7.9 1.5 6.8 1.1 4.6 0 5.7 .7 5.3 .3 4-.4 4.7-.9 6.1 0 5.9-1.1 4-2 4 .7 6.5-.7" fill="none" stroke="#E2C9A0" stroke-width="1" opacity="0.7" stroke-linejoin="round"/>
<path d="M152 768l4.6-1.4 6.4-.5 5.5 .8 6.1 .9 5.2 2.1 6-1.3 5.8-.8 6.9-3.1 5.2-.6 7.5-3 6.9-3.9 5.8-3.3 7.4-.2 7.4 .8 7.1 3.4 7.5 3.9 7.8 2.3 6.7 2.7 5.8-.5 6.3-2 6.3-.5 4.1-1.1 M152 754.6l6 1.3 5.4 2.9 5.5-.6 5.3 1.9 6.9-1.1 4.8 .2 4.2 1.8 5.7 .8 7.4 3.1 7.1-1 7.7-1.5 6.9-2.5 6.3-1.1 5.6 .8 7.1 0 5.3-.5 6.4 1.4 7.1 1.1 7.4-1.1 4-.6 4.1 .9 6.8 1.7 6.9 1.9 M182.2 744l7.5-2 6.5-3.7 7.2-1.5 6.8 2.2 5.4 0 6.1 2.1 7.4-1.9 7.5 .7 4 1 6.9 3.6 5.5 .8 M136.5 746.2l5.5 1.2 6.8 1.7 4.4 .6 7.6 3.1 5.9 .2 6.9-.3 6.3 .5 7.2-.8 4.3-.1 5.4-.4 5.4-.5 4.3-1 5.1 .3 4.9 0 4.5-.2 6.7 1.9 5.4 1.9 6 .2 7.9-.8 6-1.7 7.1-3.9 4.4-3.3 4.8-2.9 4.6-2 7.6 1.7 M183.5 703.5l.6 6.5 1.5 7 1.6 4.2 5.2 7 .2 4.1 2.2 7.3 2.8 4.9 .8 5.7 .9 5.6-1.6 6.2 1 6.1 1.7 6.4 .7 6.9 1.3 4.9 0 5.7 .6 4.2 .3 7.5 1.9 4.2-1.8 5.2" fill="none" stroke="#E2C9A0" stroke-width="0.75" opacity="0.5" stroke-linejoin="round"/>
<path d="M202.2 742.3l7.7-2.4 4.6-1.2 5 1.3 7.8-2.5 5.8 .7 7.3-1.6 4.3 .6 5.2-1.2 7.5-1.5 5.6-1 7.7-1.3 5.9 .5 4.9 .9 6-1 7.7 .6" fill="none" stroke="#E2C9A0" stroke-width="1.25" opacity="0.5" stroke-linejoin="round"/>
<path d="M139.5 800.6l6.5-1.5 5.3-.3 6.3-2.4 4.5-.4 4.4-2.4 5.5-2.4 7.2-.4 6.1-.5 4.1 2 5.1 .3 7.3 3.7 4.3 1.7 7.1 3.8 6.4 4.1 7.2 3.1 6.2 3 6.7 2.9 5.3 .6 6.8-.8 4.7 .4 5.1-.9 7.6-1.9 6-.8 6.4 .3 5.5-.4 5.7-1.8 M213.5 765.8l5.5 1.3 5.4 1.5 5.4-.9 4.9-2.8 4.8-1.8 7.6 1.1 7.6 2.9 5.3 2 7.7-.6 6 .6 6.8 .9 6.1 .1 6.6 .7 M137.7 787.6l4.5 0 4.7-1 4.1 .2 6.5 2.5 6.5-1.4 6.4-1.9 7.4-2.5 4.8 .7 5.4 1.1 5.7 .2 4.7 0 6-1.1 4.1 .8 6.9 1 5.3-.2 4.2 1.1 7.4 2.2 4.7 0 6.7-1.1 4.9-1.2 6-2 7.1-.7 6.3 .1 7.8 2.8 5.3 .6 5.4-.3 7.2-2.2" fill="none" stroke="#E2C9A0" stroke-width="1.25" opacity="0.7" stroke-linejoin="round"/>
<path d="M152 745.9l4.5 .6 5.7 0 6.8-2.3 6-2.4 4.2 .1 4.2 1.3 7-1.5 6.2 0 4.2 1.9 7.2-1.8 6.4 .7 7 1.9 6.3 .8 6.5-.2 7.5-2.6 7.5-.1 4.9 1.1 4.1-1 8 2.1 6.3 2.3 5.2 1.5 7.3 3.1 4.3 .4 M168.1 704.6l1.1 6.5 .3 4.1-.1 6.8 2.5 6.7 1.1 5.2 .7 4 2.4 6.1-1 4.3-1.9 6.2 1.1 6.9 1.7 5 2.5 7.1 .4 6.3-.9 5.3-.5 6 1.5 7.2" fill="none" stroke="#E2C9A0" stroke-width="0.75" opacity="0.8" stroke-linejoin="round"/>
<path d="M202.9 788.8l5.8-2 5.5-1.8 5.1 1.1 7.8 1 4.6-.5 7.3 .3 6.6 1.4 4.7 2.3 5.7 2.9 7.6 1.5 7-1.7 4.8-1.5 7.4 .6 5.2 0 M218.1 704.1l1.9 7.2 2.1 4.8 3.5 7.9 .7 6.6-1.5 7.3 .3 6.5-3.1 7.4 .6 7.6 1.8 7.7-.6 6.2 2 4.5 3.3 5.8 .3 7.2-2.8 6.4 1 6.9 M208 707.7l.8 5.2-1.8 5-.1 7 1.8 4.1 3.3 5.2-1.1 4.7 2.5 6.3-1.2 6.7 1.9 7.8-.1 5.7-1.6 5.1 .4 4.4-2.4 5.4-1.7 7.8-1 6.1" fill="none" stroke="#E2C9A0" stroke-width="1" opacity="0.6" stroke-linejoin="round"/>
<path d="M189.7 723.6l4.7-1.6 5.3-1.1 6.4-2.5 4-1.2 6.6-3.3 7.2-1.9 5.7-.7 7.2-2 4-.2 5.3-1.5 7 .2 4.7 1.3 4.6 1.6 4.2 1" fill="none" stroke="#E2C9A0" stroke-width="1.5" opacity="0.8" stroke-linejoin="round"/>
<path d="M152 805.3l4.9-.9 5.9 1.6 7.4-1.8 4.5-.7 5.6-.8 5.1 .3 4.1-.4 6.2-1.1 4.6 0 6.5 0 4.7 .4 5.8 .5 8 3.1 6.3 3.2 6.4 1.8 6.5 .9 6.8-1.2 7.6-.4 6.7-2.3" fill="none" stroke="#E2C9A0" stroke-width="1" opacity="0.8" stroke-linejoin="round"/>
<path d="M173.1 703.5l3.9 7.3 .9 7.6-1 4.5 1.4 7.5-.8 5.6 2.2 7.4 1.1 7.8 .6 7.2 1.8 5.4 2.7 7.3-1.7 5.9 2.1 6.1 3.7 7.4 2.1 6-1 5.9 1.7 5 .3 5.2 M246.1 704.8l-1.2 7-.2 5.6-.1 6.2 2.1 7.3 .3 6.4 1.8 7.5-.2 4.5-.5 7.2-1.5 4.5 1.6 4.2 1.3 6.7 1.7 7.4-.4 5.4-.6 7.4-3 5.4-1.6 5.6-2.7 4.8-2.2 4.9-4.4 5.2" fill="none" stroke="#E2C9A0" stroke-width="0.75" opacity="0.4" stroke-linejoin="round"/>
<path d="M267 705.8l.6 5.4 1 6.3-1.7 6.6 1 7.3 2.8 5.5 2.6 4.3 .8 7.5 .5 7.1 1.2 5.7-.2 7-.2 5.1 2 6.3-.6 5.8 .4 4.6-1.5 6.7" fill="none" stroke="#E2C9A0" stroke-width="0.75" opacity="0.7" stroke-linejoin="round"/>
<path d="M251.9 710.6l.6 7.6 .6 4.1 .7 4.7 1.6 5.6 .6 5 0 5-1.5 7.7 1.7 5.1 .2 4.4-1.7 6.7-.8 4.7-2.7 5.7-3.4 6.4-.2 6 1.2 5.4" fill="none" stroke="#E2C9A0" stroke-width="0.75" opacity="0.6" stroke-linejoin="round"/>
<path d="M156.8 716.3 Q160.3 719.8 162.6 720.7 M199.7 711.9 Q192.5 714.9 192.6 719.0 M260.4 711.2 Q254.5 717.9 256.4 719.8 M248.5 724.7 Q255.1 727.5 257.1 730.1 M173.1 734.9 Q172.8 725.8 173.3 722.6 M217.5 735.8 Q222.3 729.1 223.4 730.2 M165.7 748.2 Q160.1 752.0 153.8 755.0 M195.3 743.5 Q199.0 750.7 200.7 752.0 M249.8 748.9 Q243.8 753.4 241.4 759.2 M249.8 748.9 Q255.7 749.1 265.5 745.6 M265.5 745.6 Q269.4 743.4 274.4 743.2 M265.5 745.6 Q265.1 749.0 264.9 755.3 M171.6 756.0 Q169.1 758.2 174.0 765.4 M188.5 760.3 Q191.2 763.0 201.3 764.8 M218.1 753.9 Q219.9 753.2 228.0 760.0 M218.1 753.9 Q220.8 750.6 217.7 741.4 M241.4 759.2 Q239.0 761.3 235.0 762.9 M153.6 779.6 Q156.1 787.1 156.0 787.2 M168.0 780.6 Q166.1 783.8 172.2 786.2 M231.0 781.2 Q225.9 782.8 219.6 787.7 M196.0 799.0 Q191.3 804.7 191.8 807.5 M212.4 800.9 Q213.7 797.4 219.6 787.7 M166.6 807.8 Q175.2 809.2 178.4 808.5" fill="none" stroke="#D8B890" stroke-width="1" opacity="0.6" stroke-linejoin="round"/>
<path d="M156.8 716.3 Q166.0 712.1 171.9 710.6 M205.0 720.2 Q206.9 729.0 202.0 730.4 M271.0 726.4 Q261.9 730.4 257.1 730.1 M155.4 736.8 Q157.2 729.6 162.6 720.7 M173.1 734.9 Q173.1 741.5 175.2 741.3 M195.3 743.5 Q201.5 741.3 206.1 745.8 M153.8 755.0 Q161.3 763.2 161.8 770.2 M241.4 759.2 Q250.5 756.0 252.7 754.8 M161.8 770.2 Q171.5 767.7 174.0 765.4 M167.1 801.7 Q168.9 805.2 178.4 808.5 M230.6 803.1 Q233.0 801.1 239.7 801.0 M198.8 815.2 Q197.9 810.7 196.0 799.0" fill="none" stroke="#D8B890" stroke-width="0.75" opacity="0.6" stroke-linejoin="round"/>
<path d="M171.9 710.6 Q169.8 712.7 173.3 722.6 M186.1 766.5 Q186.2 771.3 193.6 775.0 M201.3 764.8 Q200.9 766.3 193.6 775.0 M243.1 766.3 Q241.7 773.9 239.9 775.4 M153.6 779.6 Q164.4 783.9 168.0 780.6 M216.5 773.7 Q225.7 775.9 231.0 781.2 M276.0 779.9 Q272.7 785.3 275.9 792.2 M234.6 791.9 Q238.3 793.5 241.8 791.7" fill="none" stroke="#D8B890" stroke-width="0.75" opacity="0.7" stroke-linejoin="round"/>
<path d="M171.9 710.6 Q163.4 714.4 162.6 720.7 M276.0 708.5 Q269.8 715.0 256.4 719.8 M162.6 720.7 Q168.1 725.0 173.3 722.6 M205.0 720.2 Q214.6 716.5 216.3 718.7 M233.1 726.3 Q228.0 730.4 223.4 730.2 M271.0 726.4 Q272.5 729.2 271.7 734.5 M185.9 734.8 Q190.7 735.4 195.3 743.5 M202.0 730.4 Q198.6 728.2 192.6 719.0 M217.5 735.8 Q216.3 736.6 217.7 741.4 M271.7 734.5 Q269.4 738.7 274.4 743.2 M234.0 742.7 Q226.1 740.8 217.7 741.4 M265.5 745.6 Q271.3 739.8 271.7 734.5 M188.5 760.3 Q187.2 766.9 186.1 766.5 M231.0 781.2 Q237.8 779.7 239.9 775.4 M253.9 773.9 Q245.1 775.8 239.9 775.4 M276.0 779.9 Q267.2 789.3 264.3 790.8 M156.0 787.2 Q165.1 784.6 168.0 780.6 M172.2 786.2 Q180.1 791.4 184.9 790.9 M184.9 790.9 Q186.5 794.3 181.8 798.6 M198.9 787.9 Q194.7 792.8 196.0 799.0 M241.8 791.7 Q233.0 784.9 231.0 781.2 M264.3 790.8 Q273.6 789.4 275.9 792.2 M275.9 792.2 Q271.7 796.6 272.9 801.8 M154.9 801.7 Q157.4 808.3 166.6 807.8 M167.1 801.7 Q169.6 803.5 166.6 807.8 M230.6 803.1 Q227.1 808.5 230.5 807.7 M260.2 800.2 Q260.7 808.2 262.7 812.6 M222.2 810.3 Q225.5 810.1 230.6 803.1 M262.7 812.6 Q264.5 812.2 273.3 810.0" fill="none" stroke="#D8B890" stroke-width="1" opacity="0.4" stroke-linejoin="round"/>
<path d="M186.7 714.3 Q192.0 719.3 192.6 719.0 M186.7 714.3 Q180.0 715.9 171.9 710.6 M199.7 711.9 Q206.2 718.2 205.0 720.2 M192.6 719.0 Q201.8 720.4 205.0 720.2 M248.5 724.7 Q253.8 725.1 256.4 719.8 M165.7 748.2 Q166.4 752.9 171.6 756.0 M165.7 748.2 Q173.2 748.4 175.2 741.3 M206.1 745.8 Q200.9 749.3 200.7 752.0 M161.8 770.2 Q156.7 778.3 153.6 779.6 M219.0 768.0 Q221.9 765.3 228.0 760.0 M243.1 766.3 Q241.6 765.8 235.0 762.9 M263.9 767.7 Q254.9 768.7 253.9 773.9 M156.0 787.2 Q156.7 794.9 154.9 801.7 M172.2 786.2 Q180.2 791.5 181.8 798.6 M264.3 790.8 Q269.3 792.4 272.9 801.8 M181.8 798.6 Q176.4 803.3 178.4 808.5 M260.2 800.2 Q255.2 805.5 250.9 808.3 M272.9 801.8 Q267.7 800.2 260.2 800.2 M191.8 807.5 Q196.4 812.7 198.8 815.2 M191.8 807.5 Q184.3 808.7 178.4 808.5 M250.9 808.3 Q259.1 814.3 262.7 812.6 M273.3 810.0 Q268.8 806.3 260.2 800.2" fill="none" stroke="#D8B890" stroke-width="0.75" opacity="0.4" stroke-linejoin="round"/>
<path d="M186.7 714.3 Q191.7 709.6 199.7 711.9 M155.4 736.8 Q163.1 738.8 165.7 748.2 M206.1 745.8 Q212.7 745.5 217.7 741.4 M274.4 743.2 Q265.7 749.6 264.9 755.3 M218.1 753.9 Q221.0 762.1 219.0 768.0 M219.0 768.0 Q216.8 774.8 216.5 773.7 M234.6 791.9 Q239.4 799.4 239.7 801.0" fill="none" stroke="#D8B890" stroke-width="1" opacity="0.7" stroke-linejoin="round"/>
<path d="M216.4 708.1 Q213.6 712.4 216.3 718.7 M229.0 712.4 Q233.9 709.7 240.6 714.6 M240.6 714.6 Q240.3 721.5 233.1 726.3 M216.3 718.7 Q217.5 721.1 223.4 730.2 M155.4 736.8 Q164.5 733.0 173.1 734.9 M223.4 730.2 Q220.8 737.1 217.7 741.4 M234.0 742.7 Q235.8 734.7 239.4 729.6 M228.0 760.0 Q230.7 764.5 235.0 762.9 M252.7 754.8 Q257.7 757.4 264.9 755.3 M263.9 767.7 Q270.4 769.7 273.7 765.1 M273.7 765.1 Q270.9 761.6 264.9 755.3 M250.9 808.3 Q246.2 801.9 239.7 801.0" fill="none" stroke="#D8B890" stroke-width="1" opacity="0.5" stroke-linejoin="round"/>
<path d="M216.4 708.1 Q221.2 711.2 229.0 712.4 M174.0 765.4 Q179.8 769.9 186.1 766.5 M198.9 787.9 Q195.9 784.4 193.6 775.0 M230.5 807.7 Q236.0 808.1 239.7 801.0" fill="none" stroke="#D8B890" stroke-width="1.25" opacity="0.6" stroke-linejoin="round"/>
<path d="M240.6 714.6 Q245.2 717.2 248.5 724.7 M260.4 711.2 Q269.5 712.5 276.0 708.5 M276.0 708.5 Q272.5 719.6 271.0 726.4 M271.0 726.4 Q261.6 723.1 256.4 719.8 M185.9 734.8 Q182.9 736.2 175.2 741.3 M257.1 730.1 Q258.9 724.3 256.4 719.8 M200.7 752.0 Q199.6 755.7 201.3 764.8 M241.4 759.2 Q239.7 760.8 243.1 766.3 M161.8 770.2 Q163.3 772.7 168.0 780.6 M263.9 767.7 Q260.7 765.0 264.9 755.3 M188.8 777.8 Q187.3 774.6 193.6 775.0 M188.8 777.8 Q189.3 775.6 186.1 766.5 M216.5 773.7 Q216.8 781.9 219.6 787.7 M241.8 791.7 Q244.1 799.7 239.7 801.0 M154.9 801.7 Q157.1 804.2 167.1 801.7 M272.9 801.8 Q275.4 802.1 273.3 810.0" fill="none" stroke="#D8B890" stroke-width="0.75" opacity="0.5" stroke-linejoin="round"/>
<path d="M233.1 726.3 Q238.0 729.7 239.4 729.6 M231.0 781.2 Q231.6 783.3 234.6 791.9 M276.0 779.9 Q276.0 776.3 273.7 765.1 M264.3 790.8 Q261.0 796.1 260.2 800.2" fill="none" stroke="#D8B890" stroke-width="1.25" opacity="0.5" stroke-linejoin="round"/>
<path d="M173.1 734.9 Q180.6 734.2 185.9 734.8 M239.4 729.6 Q247.4 730.3 248.5 724.7 M253.9 773.9 Q251.2 772.2 243.1 766.3 M212.4 800.9 Q217.2 803.3 222.2 810.3 M198.8 815.2 Q208.0 810.3 212.4 800.9" fill="none" stroke="#D8B890" stroke-width="1.25" opacity="0.4" stroke-linejoin="round"/>
<path d="M249.8 748.9 Q247.9 753.2 252.7 754.8 M222.2 810.3 Q224.1 812.9 230.5 807.7" fill="none" stroke="#D8B890" stroke-width="1.25" opacity="0.7" stroke-linejoin="round"/>
<path d="M138.6 703.3l3.5 0 4.5-.7 5.3-.1 3.8 1 5.1-1.6 3.7 1.3 5 .8 3.6 .6 3.2 .2 3.7-.5 4.3 .2 5.1 2.4 5.2 0 5.9 1.7 3.8-1.6 5-.1 3.2-.8 4.3 1.9 3.1-1.3 5.1 2.5 4.6-.9 3.1 .5 5.2 1.4 4.2 .4 3.7-.1 3.6 .9 5.9-1.7 5.4-.1 5 .6 3.3-1 4.7-1.2 4.5 .2 4.2-.1 3.5-1.8 5.1-.8" fill="none" stroke="#E6D0A2" stroke-width="1" opacity="0.7" stroke-linejoin="round"/>
<path d="M152 711.5l3.6-.1 5.2-.1 3.1-.8 4.7 .2 6 2.1 4.7 .8 4.4 .1 5.3 .5 5.3-.9 3.1-.1 4.2-1.1 5.4-2.2 4.7 .9 3.4 .7 3.5-1.3 5.1-2.1 3.5 1.6 5.2-1.5 4.8 1.6 3.7 1.2 3.2 .5 5.1-1 3.4 0 5.9-1 5.2-2.2 5.1 .4 5.6-1 3.3 .5 3.2 .2 3.4 2.1 3.6 1.4 5.9 3 M152 703.2l3.6-.7 4.1-1.5 4.1-.5 3.9 .2 3.8-1.7 5 0 4.8 .2 5.2-.2 3.6 .7 5.4-.2 5.1-.5 3.7 0 5.3 0 5.4 .1 4.3-.1 5.3 0 4.4 0 3.6 1.5 4.1-.9 4.4 .7 5.1-.4 5.5 .6 3.1 .2 4.4-.5 3.2-1 3.4-.2 4.8 1.4 4.5 1.2 4.5 .2 5.5-.8 3.3-1.4 M152 737.4l3.1-.6 4.2-1.5 5.5 1.2 5.2 .7 3.1 .1 4.3 .5 3.6-1.2 4-1 3.3-1 4.8-1.1 3.6 .4 4-.3 3.5-1.9 5.6-2.4 4-1.5 5.7 0 3.7-.8 4.5 0 4.2 .8 4-.8 4.1 0 3.8 0 3.8 0 5.2 0 4.1 1.6 5.9 1.3 4.8 3.3 4.9 .8 3.8-.7 3.3-1.4 5.2-2 3.7-.7" fill="none" stroke="#E6D0A2" stroke-width="1.25" opacity="0.7" stroke-linejoin="round"/>
<path d="M152 702.5l4.7 1.6 4.2 .1 3.9 2 5.9 2.3 5.2 1.1 4.3-1.1 3.8 .4 5.9-1.6 3.4 .2 5 .2 4.6 0 3.2-1.4 5.2 0 3.7 .5 3.1 .6 5.7 .4 4.3 0 4.7 .5 4.4 .2 4.8-.1 3.2-1.4 5.3-.9 3-1.5 3.1 .9 3.8-.1 5-1.3 5.5-1.5 5.2-1.9 4.8 0 5.6-1.7 4.3 0 M152 708.3l4.4-1.3 3.5-2.1 4.2-.8 5-.9 3.1-.2 5.6-1.4 4.8 0 3.5-.9 4.6-.2 5.4-1.2 5-.3 4.4 0 4.9 0 3 .7 5.5-.7 3 0 4.1 0 5.4 2.4 3.2 0 3.4-1.4 4.7 1.3 4.5-1.1 5.4-.2 4.8-1" fill="none" stroke="#E6D0A2" stroke-width="1.5" opacity="0.8" stroke-linejoin="round"/>
<path d="M152 709.1l5.1-.5 4.9 1.3 5.9 1.4 4.9 1.5 4.4 .9 4.3 1.4 5.7 1.9 4.4 0 3.6 0 5.1 0 3.1 0 4.9-1.2 6-.8 5.2-.9 3.2-1.5 3.4 .7 5.1-2.3 3.6-.5 5.7 .9 4.5-.4 5 0 5.7-1.1 5.9 1.8 4.6 1.1 4.8-1 3.3-.3 4-1.4 4.7 1.1 3.1 .3 5.2-.4 M135.9 736.4l5.4-1.7 5.6 .5 5.6 1.4 3.9-.3 4 2.1 4.3-.8 3.8-2 3.3 .3 5.7-.6 5.3 .9 5.7 .5 3.4-.6 3.5 .7 3.2-.8 5 .5 4.6 .1 4-1.3 5.6-3.3 5.4-2.1 4.5 .4 3.8-2.4 3.5-.9 5.1 0 3.4 0 3.1 .8 3.6 .6 5.8 2.3 3.7 2.1 3.9 0 5.3-1.5" fill="none" stroke="#E6D0A2" stroke-width="1.25" opacity="0.8" stroke-linejoin="round"/>
<path d="M152 713.8l5.6-2.1 3-.2 4.3 .3 3.9 0 3.8 .1 3.1-1.7 3.6 .8 5.8 1 5.8 1.3 3.2-.7 3.3-1.2 5.7-1.2 3.6-2.3 3.9-1.1 4.1 .2 3.2 .8 5 .1 3.9 .8 3.6 0 3.1 .9 3.5 1.6 3.5-.6 5-1.5 4.1 1.9 4.8 1.1 4.8 .7 4.2 .7 4.7-1.6 5.1 .6 4.2-.8 3.1-.7 5.5-.5 4.1-1.3 M152 702.3l3.4 .9 5.3-.5 3.8 1.8 5.9 2.4 3 .3 5.2 .1 5.7 .7 5.1 .4 5.7 .6 4.5-.6 5.7 1.6 3.5-1.4 5.6 .1 4 .1 3.7-.5 5.4-1 3.1 .9 3.5-.4 4.3-1 5.3-1 5.8-.2 5.1 .7 5.1 1.3 3.8 .2 4-.8 3.2 .4 4 2 5.5 1.8 5.2-.3 3.7 0 M196.5 743.8l5.5-.2 5.8-1.2 4.2 1.6 3.7 .6 4.6 .1 3.2-.3 3.2 1.5 6 2.1 5.3 0 3 0 5.9-.4 4.8-.4 3.4 .8 4.9 0 5.1-.7 4.4 .7 3.3 0 3.4 0 5.5-1.8 3.2-1.1 3.1-2.6" fill="none" stroke="#E6D0A2" stroke-width="1" opacity="0.8" stroke-linejoin="round"/>
<path d="M145.5 710.5l4.8 .8 4.3-1.3 4.1 .1 5.3-1.4 4.9 .5 3.7 .3 5.9 .6 5.1-1 5.5-.7 3.8-.4 4.8-.3 5.6 .5 4.8-.9 4.7 .3 3.2 .6 5.3-.3 5.2-1.1 3.3-.8 4.7-.7 5.8-.7 4.6 .6 4.2 .6 3.2 .6 3.9 .1 5.3 0 5.3-.1 4.7 .5" fill="none" stroke="#E6D0A2" stroke-width="1" opacity="0.9" stroke-linejoin="round"/>
<path d="M134.8 742.8l3.4-1.4 5.3-.9 5.7-.6 3.3-2.5 4.3 0 3 .1 5.7 .5 3.8 .7 3.2 1.7 4.7-.9 4.9-2.1 3.8-1.4 5.7-.5 3.1 0 4 1.7 4.1 2.6 3.1 1.2 3.9 .1 4.1 .5 4.9 .1 4.4-1.3 3.7-.2 5.1 2.1 4.9 1.1 5.8-.5 4.8-.5 5.7-1.1 M207 732l3.8-2.2 5.2-2.8 5.1 0 5.5 0 3.5 0 5.5 0 4.4 0 3.8 .8 3.4-.6 5.9-.2 3.3 1.4 3.6 .6 4.7 .2 5.3-.3 5-.5 5.3 .5 4.2 1.1 4.8-1.1" fill="none" stroke="#E6D0A2" stroke-width="1.25" opacity="0.9" stroke-linejoin="round"/>
</g></g>
<g clip-path="url(#rb3)">
<rect x="401" y="666" width="139" height="156" fill="#7A2E16"/>
<rect x="401" y="666" width="139" height="156" filter="url(#soil3)"/>
<g filter="url(#soft)">
<path d="M406.9 692.7l-.8 2.3-.6 3.1-2 2.1-1.8 1.4-2 2.2 M419.7 703.1l-1.8-1.3-1.9-1.8-1.6-2.8-1.9-2.3-2.2-1.3-2-2.6-1-2.7-1-3.7 M432.7 672.1l3.3-.7 2.1-2.1 1.5-2.3 2.6-1.9 1.9-2.4 2.9-1.6 2.7-.4 3.2-.3 M457.7 705.3l2.3 2.7 .4 2.9 1.9 2.1 1.6 1.3 2.2 2.2 .9 1.9 2.4 1.8 1.5 2.9 M407.2 676.2l1.9 1.5 3.1 2.5 2.4 1.5 2.6 .8 3.3 .1 3.2 1.5 2.6 .3 3.1 1.7 M455 687.2l2.2-2.2 1.4-2.7 1.5-1.6 2.3-2.9 3-2.3 3.5-1.1 1.7-2 2.7-1.3 3.2-.8 M454.8 671.9l-1.8 1.2-1.5 1.5-.4 2.1 .7 3.2 .5 2.1 2.4 2.1 1.7 1.5 M444.1 678.4l.5-2.9-.8-3-.2-2.3-1.1-2.7 M424.3 672l-3.5 1.3-3.9 .5-2.3-.4-2.9-.8-3.9-.9-3.9 0-3.2 1-1.7 2.2 M471.1 671.9l1.5 2.4 .5 2.3 .7 2.2 .1 2.4 M401.9 697l1.6 2.5 2.5 1.9 2.5 3 1.6 3" fill="none" stroke="#C27450" stroke-width="1" opacity="0.7" stroke-linejoin="round"/>
<path d="M523.4 678.1l-2.3-2.4-1-3.2-.1-3.9 1.4-2.3 .6-3.1 1.9-3.3 .4-2.3 M457.8 699l-1.1-2.3-2.6-2.1-3.6-1.7-1.9-.6 M402.9 683.6l1.2 3.5-.2 3.2-1.7 2.8-2.8 1.7-2 2.6 M479.6 705.3l.5 2.3 1 1.8 1.3 1.9 1.9 2.2 3.1 1.7 1.6 2.2 M462.8 678l-1.9-3.4-1.2-2-2.4-1.3-2.1-.1-2.6-.6-2.6-2.1-1.7-1.5-3.4-1.7-2.7-.4 M534.9 686.3l-.7 2.2-1.4 2.4 .1 2.3 1.2 3.6 .1 2.4-1 3.7-.9 2.7 M456.4 689l1.9-2.7 .9-2.3 2.7-2.4 1.5-1.8 M517.7 676.6l-1-2.2-3.2-1.9-1.5-1.3-2.6-2.2-2.5-2-3.1-1.9-1.4-2.8 M516.9 694.7l-2.1 3.2-1.1 1.8-.5 2.7-1.6 1.7-2.7 1.4-1.9 3.2-2.8 1.8-1.8 1.6 M451.5 699.1l2 2.9 .1 2.9 .3 2.2-1 2.1 M525.2 690.5l-1 1.9-1.1 2.2 .3 2.6-1.8 3.3-1.5 2.5-2.4 1.3-1.7 2.6 M493 673.3l-1.5-2.2-.9-2.3-1.1-2.3-2.2-3-1.1-2.5-1.3-1.8 M537.1 693.8l1.7-1.2 2.7-2.9 1.5-1.4 1.6-3.6 .5-3.9" fill="none" stroke="#C27450" stroke-width="1.25" opacity="0.6" stroke-linejoin="round"/>
<path d="M439.7 679.7l-2-1.1-2.7 .1-3 .9-2 2.5-1.9 1.5-3.6 1.6-3.5 .2 M506 702.6l-2.5 .3-2.7 1.6-2.1 3.1-2.6 1.4 M447.3 703.2l.6-3.2 .3-2.1-.8-2.4-2-2.2-2.3-1.6-1.8-1.7-1.5-1.5 M504.4 701.1l-1.9 3-2.2 1.5-1.3 2-1.5 3-2.2 3.3-2.4 1.3-2.1 .6-3.4 0-3.1 1.9 M470.2 670.3l2.7 .5 2.8-1 2.4 .6 2.2 2.2 .9 3.8 1.1 3.4 1.5 2.5 2.5 1.9 1.5 3.2 M491.3 691.9l2.1-1 2.3-.6 2.9-.5 1.7-1.4 2.3-.9 1.2-1.7 .3-3.5 M509.1 688.3l2 .4 2.5 .6 2.2 .1 3.1-.4 M409 704.4l-2.1 1.4-2.2 .6-3 2.1-4 .3-2.5 1.6-2.2 .5-3.2 .1-3.8 .7-2.2 .6 M532.5 677.3l-.9 2.2-1.3 2.3-1.6 1.7-3.4 .7-3 .7-2.1 1.4 M473.7 700.7l.6-2.3 .1-3.7 1.9-2.6 .4-3.1-.5-2.9-.9-3.7 .9-3.7 M538.2 671.2l3.3 2 2.5 .3 2.7 1.1 2 1.4 2.3 3.2 .2 3.2 .8 2.2 M441.2 681.5l.3 2.9-.2 2.1-.3 2.2-1 3.3 .5 3.5 1.5 2.3 1.7 1.8 2.9 2.1 1.2 1.7" fill="none" stroke="#C27450" stroke-width="1" opacity="0.5" stroke-linejoin="round"/>
<path d="M477 677.5l3.8-.7 3.5 1.3 3.3 1.3 2.2 2.7 2.2 .8 2.5-.5 2.5 .2 2.8-1 2.1 .1 M437.1 680.4l-2 1.1-2.2 2.6-2.1 2.4-3.7 1.1-2.7-.5-2.3-.7-3.9-1.1-2.4 0 M437.8 689.7l-3.1-.7-3-2.1-1.3-2.8-2.7-1.8-2.6-2.9-1.1-2-3.2-2.2-1.5-3.5-1.2-1.6 M411.3 682.8l-2.7 2-2.6 1.3-3.4-.3-2.6 .8-3.8 .9-2.7 2-2.3 3-.9 2.8-1.3 1.9 M525.7 680.4l-1.5-2.2-2.8-2.3-1.6-1.9-1.9-2.7-2.7-1.2 M451.5 680l-3 .3-2.4-1.3-2 .2-3 0-3.9 .7-2.8-.5 M466.9 672.5l1.4 3 1.5 2.9-.3 3.2-.3 2.7 1.5 3.3 M438.4 677l-.5-2.4 .9-2.6 0-2.1-.5-2.3-.5-2.2 .9-2.5 .4-2 2.3-3.2 M427.8 679.9l2.3-1.2 1.6-1.4 2.1-3 3.4-1.6 2.9-.7 2.6-1.5 M474.9 686l3.3 .4 2.3-.7 2.1-1.3 2.6 0 3.4-.2 3.3 2.1 2.9 0 3.4-.1 M416.2 691.1l3.8-1.1 2.6-1.3 3-.3 2.4-1 2.1-.9 1.8-2.1 2.2-2.4 1.3-1.9" fill="none" stroke="#C27450" stroke-width="1.25" opacity="0.5" stroke-linejoin="round"/>
<path d="M504.5 669.5l-2.7-.8-3.5-1.1-1.9-.7-2.3-2.8-1.9-1.7-3.6-.9-1.7-1.4-1.8-2.8 M466.9 672.8l2.4-1 2.6-1.4 3.4-.7 2.8-1.6 2.5-2 M463.8 668.2l-3.8 .2-3 1.7-3.7 1.3-2.8 .2 M414.7 698.4l.1-2.3-1-3.3-1.9-2.9-2.3-2.9-1-2.2-.5-2.9-1.6-2.6-3.3-2.1 M500.3 676.7l-3.5 1.2-1.3 1.6-1.3 1.6-1 3.2 M416.1 676.1l2.4-2.4 2.1-1.7 1.2-2.5 1.8-1.3 2.6-1.9 3.7-.3 M501.6 675l1.8-2.1 1.7-2.6 1-1.9 2.4-1.8 3.1-2.1 1.9-.8 2.4-.4" fill="none" stroke="#C27450" stroke-width="0.75" opacity="0.6" stroke-linejoin="round"/>
<path d="M439.6 691.8l1.5 2 3.4 1.5 2.1 1.1 3 .6 M534.4 673l.8 3.5-.3 2.3-.6 3.1 .9 2.2-.6 3.6 1.5 3.6 2.8 2.2 M512.7 691.2l1.6-2.6 1.3-3.1 1.5-2.6-.2-2.2-.4-3.5 1.7-3.4 1.8-1.2 M467.1 703.3l1.1 3.3-.7 2.5-2.2 2.8-1.7 2.8-1.4 1.6 M499.6 678.9l.7-3.9 .8-3.6-1.4-3.5 .6-3.7 0-2 M512.2 694.4l-2.1-1.4-1.9-1.7-.9-2.1-2.2-1.8-1.6-3.3-3.2-2.1-1.8-3-.2-2.7 .7-3.6 M419.1 673.4l3-.7 2.3-2.4 1-2.4 2.2-2.9 2.2-1.2 1.7-2.2 M507.8 682.5l.2 2.7-1.5 3.2-2.6 2.1-2.7 2.7 M478 686.3l-2.5 .9-2.9 2-2.1 .7-1.9-.5-2.8-1-1.4-1.5 M532.9 701.9l1.5 1.8 1.8 1.6 1.9 .6 1.6 1.3 3.5 1.9 2.9 1.6 2.8 0 2 1.3 M461.6 698.2l-2.2-1-1.4-1.6-1.1-3.2 .4-3.1 2-2.4 2.5-1.8 3.5-.6 2.4 .3 M480.6 689.7l2.1-.4 3-.1 2.2 1 2 2.8 .2 3-1.4 2.9-2 2.8-1.5 2.2" fill="none" stroke="#C27450" stroke-width="1.25" opacity="0.7" stroke-linejoin="round"/>
<path d="M412.3 671.2l1.9 3.4 1.5 2.5 .4 3.6-.3 4 .8 3.1 1.3 3.2 M455.5 682.2l.8-3.6 .8-3.5 1.8-1.8 1.6-3.4 2.4-2.7 1.3-1.5 M536.9 704.9l3.3 0 2.4-.3 2.5-.8 2.3-1.3 2-.4 2.3-1.6" fill="none" stroke="#C27450" stroke-width="1.25" opacity="0.8" stroke-linejoin="round"/>
<path d="M492.8 684.7l-2.3-1.6-2.2-2.1-2.8-2.3-1.8-1.3-2.1-3-2.6-1.4-2.5-1.1-3.3 0-3.5 1.5 M431.3 700.7l-.9-2.1-1.5-1.5-3-2.7-2.8-2.1-2.6-2.7 M512.7 673l-3.1 1-1.7 1.2-1.5 1.5-1.8 1.5-1 2.4-2.5 2.1-1.5 2.8-.2 2 .3 2 M453.3 691.8l2 .5 2.6 2.2 3.8 .9 2.4-.4 M510.3 705.7l-1.9 1.6-1.6 3.1-1.5 1.6-1 2.4-1.1 1.8-.4 2.3-1.7 2.6-.6 2-2.1 3.4 M517.2 686.6l2.4 .5 2.7-.9 3-.9 2.1-1 2.3-.7 2.5-1.8 M458.2 698.2l-2.7 1.9-3.4 .2-3 .1-2.4 .1-2.9-.9-2.4-.4-3.2 .3-2.1 1.5-2.6 1.4 M488.3 679.8l2.8-.4 3.2-.9 1.8-1.5 2.2-.9 3.2-1.6 2-2.6 .2-2.5 1.2-3.6 .3-2.2 M469.7 702.1l-3.7 .5-3.3 2-3.5 1.2-3.1 .8-3 1.3-3.7 1-2.9 .4-3.4-.2 M440.7 699.5l-3.7 1.2-3.3 .4-2.5-.6-1.4-1.4-1.6-1.5-1.7-3.4-1.9-1.3-1.5-2.1-.6-3.4 M469.9 703l.8 3.7 1.2 3.2 .5 2.7-1.3 3 M478.5 674.6l-2.9-2.2-3.3-2-1.6-1.6-1.7-3.4 M478.4 685.8l-2-2.8-.3-2.2 .6-2.2 1-2.3 1.4-3.3-.4-3 M483.6 697.1l1.2 1.6 2 .9 2 3.2 1.5 1.6 2 2 3.4 .6 3 1.2 1.7 2 1.1 3.3 M442.7 705.9l2.1 1.5 1.8 2.4 1.2 2.4 1.2 2.7 1.1 3.7 M438 671.3l.1-2.1-.7-2.9 .9-2.9 2.3-2.1 1.5-2.7 2.3-2.3 1.7-3.5" fill="none" stroke="#C27450" stroke-width="1" opacity="0.6" stroke-linejoin="round"/>
<path d="M515.3 679.1l-2-.7-2.6 0-3.3 .4-3.8 .6-3.1-.3-1.9-.6-2-1.3-3.7-1.2 M464.3 684.1l1.7-1.5 1-2.1 .6-2.7 .6-2-.1-3.1 M459.2 668.2l-2.8-.8-3.7-1.4-2.1-1-2.6-.7-2.6-.2-3.7-1-3 .9 M449.8 697.6l3.3 1.7 1.5 2 .5 2.9 .1 2.6 2.1 3.2 1.7 3.1 2.4 2.5 M423.9 701.7l-.7-2.6-1.7-3.1-2.1-1.2-2.5-.7-3.6-1.3-2.8-.7-2.2-.8-2.5-.2-2.1-1 M482.5 690.7l1.2 2.4 3.1 2.1 2.6 .2 3.7 .9 1.9-.8 M526.1 680.8l1.9 1.1 1.2 1.8 1.1 3 1.6 3.1 1.9 3.4 1.8 3.5 M433.4 693.4l-1-1.8 .4-3.1-.1-2.9-.4-2.7-1.5-3.1-2-2.9-.3-2.2 M426.9 678l.6 2.2 2.6 3 1.7 1.1 1.3 2.6 1.1 2 1.6 1.9 .8 2 1 2 M419 702.8l3.1 .5 2.4 1.2 2.5 2.4 2.4 3.2 1.4 1.4 M448.7 698.8l3.2-2.2 2.1-.6 2.3-2.2 1.4-3.1 2.5-1.8" fill="none" stroke="#C27450" stroke-width="0.75" opacity="0.5" stroke-linejoin="round"/>
<path d="M422.1 684.6l0-3.8-.3-2.6 .4-2.9 .5-2.1-.2-3.2-.9-3.3-2.4-2.1-2.3-1.9 M478.7 695.6l.4 3.6-1 2.1-1.7 1.3-3.7 1.3-2.5 1-2.3 3.2 M418.1 690.5l-1.4 2.1-.5 3.7-1.5 3.1-2 3-1.2 2.5-1.8 1.7-1.5 2.1 M420.1 692l3.7-.6 2.3 .1 2.7 .4 3.3-1.7 1.6-2.1 1.8-1.4 .9-2.9-.5-3.8" fill="none" stroke="#C27450" stroke-width="0.75" opacity="0.7" stroke-linejoin="round"/>
<path d="M402.7 674.6l.2 3.1-.3 3.6 .5 1.9 2.7 2.7 1.8 1.7 M518.8 671l-1.9-1.8-2.3-1-3.4-1.6-3.1-.3-3.2 .1-3 .3-2.1 1.4-1.7 2.2 M461.3 691.7l3.4-1.5 3.1-2.2 1.8-1.8 2.8-1 2.4 .1 2.5 .6 3.3 .1 M411.3 677.8l2-2.7 1.5-2.9-.1-2.8-.8-2-1.4-1.9-2.2-2.3-1.9-2.7 M499.5 676.1l-2.2-.4-2.1-.3-3.3-.9-2.9 .6-3 .2-3.4-.1-3-.6-3.2 1.1 M407.2 697.7l-2.4-2.5-2.2-2.8-1.7-1.9-1.5-2.9 M425.4 671.9l-.1 2.8-.9 2.3 .6 2.9 1.6 2.1 1 2.9 1.5 2.2 1.8 1.1 3.1 2.1 2 2.9 M539 690.5l2.1-3 1.6-3 1.9-2.1 .9-1.8 .6-3.3-.8-2.8-1.4-3.5-.4-2.1-.2-2.5" fill="none" stroke="#C27450" stroke-width="1" opacity="0.8" stroke-linejoin="round"/>
<path d="M467.5 695.7l-3.6-.8-2.7-2.5-2.4-2.4-.8-3.7-1.2-1.8" fill="none" stroke="#C27450" stroke-width="0.75" opacity="0.4" stroke-linejoin="round"/>
<path d="M475.2 689.9l.1-3.2-.5-2-1.7-1.8-3.4-2.1-1.2-1.8-1.9-3-2.4-2.9-.5-3.9" fill="none" stroke="#C27450" stroke-width="0.75" opacity="0.8" stroke-linejoin="round"/>
<path d="M401.6 747.1l.6 2 .5 3-.1 2.2 .7 1.9 .5 2.6-1.3 3.2 M430.6 747.9l-2.3 0-2 .8-3.3 1 M492.9 791.2l3-.2 3.4 1.6 2.5 .7 3.8-1 3.8 1.2 3.3 .7 3.4-1.2 M481.9 716.6l.4-2 .9-1.9 2.9-2.3 2.4-1.5 M468.3 771l-.5-3.1-1.3-2.3-1.6-2.9-.2-3.5 1.2-3.4 1.6-3.3 0-2.3 M463.4 731.7l2.1 1.9 3.3 2 2 .4 3.7-1.5 M437.8 729.6l1.6-2.2 2.3-1.5 .8-2.1 2.7-2.1 1.8-1.6 2.3-.3 3.8-.9 M443.3 719.4l3-1.4 2.5-1 2-3.2 2.6-2.4 M435.7 727.7l-1.8-2.3-2.8-2-3.1-1.2-2.8-2.1-2.7-1-3.1-1.4-2.7-2.6 M445.8 812.7l-1.1-2.7-1.7-1.5-1.6-1.3" fill="none" stroke="#A85A38" stroke-width="1" opacity="0.5" stroke-linejoin="round"/>
<path d="M486.1 795.5l-1.4 2.3-1.2 2.3-.2 2.2-1.5 3.1-1.4 1.7-.8 2.4-1.5 1.7 M443.7 749.6l-.3-3.2 .1-2.5 .1-2.1 1.9-3.4 1.3-1.7 M472.2 723.1l-3 .9-2.1-.1-2.9-.6-2.4 0 M453.9 768.9l-2.6 2.8-3.8 1.4-2.6-.4-2.6-1.2-2.6-.1-3-1.6-3.7 .2 M513.3 820.6l-3.5 .4-3 0-2 1.1-3.5 .8 M487.6 764.4l1.8 1.9 2.1 3.2 3.1 1.6 2 1.8 .5 2.3 .7 2.5 0 2.2 M472.7 714.5l-3.4-.8-3.6-.3-3.2-1.3-2.3-.2-2.8-1.1-2.5-1.9-1.9-1.9 M520.3 782.9l2.1 3.4 1.4 1.9 1.4 1.5 .4 1.9 M535.5 781.4l2.2-.6 3.2-1.1 3.4-.6 M462.5 789.6l-1 1.7-1.5 2-1.2 1.9-1.5 3-1.2 2.1 M430.2 819l1.2-2.6 1.3-3.7 .5-2.3 2.1-2.5 .2-3.1 1-2.3" fill="none" stroke="#A85A38" stroke-width="0.75" opacity="0.5" stroke-linejoin="round"/>
<path d="M476.8 724.6l2.1 1.5 1.6 1.8 .9 2 1 2.5 M425.9 702.4l.8-2.4-.4-3.7 1-3.6 2.3-3.2 .8-3.8 1.9-3.5 .9-3.1 M466.9 735.4l1.6-3.3-.1-2.4 .2-2.2-.6-2.5 .7-3.4-.5-2.4-1.9-1.9 M459.8 740.7l-.1-2.9 .3-2.1 1.1-3.6 1.2-2 .7-2 2.1-2.6 1.5-2.9 M538 817.7l1.3 2 1.3 3.8 .7 2.9 M435.7 738.7l-1.9-2.4-2.9-2-3.6-.5-3.2-1.1 M490 728.2l-1.4 3.2-.4 3.1-1.7 3" fill="none" stroke="#A85A38" stroke-width="0.75" opacity="0.6" stroke-linejoin="round"/>
<path d="M522.6 749.9l2.2 2.1 .8 2.1 2.2 1.5 4 .4 2.3-.2 M409.1 715.2l.9-2.4 2.5-1.7 2.7-2.7 2.9-.9 2.4-.5 2.7-.5 2.4-1.5" fill="none" stroke="#A85A38" stroke-width="0.5" opacity="0.3" stroke-linejoin="round"/>
<path d="M476 755.7l-2.5 2.6-3.5 1-3.1 2.6-2 .9-2.5 2.1-1.5 3.6 M468.4 736.2l-3.6 1.6-1.9 2.7-1.3 3.4 M528.4 733.5l2.5-.3 2.7-1.7 2.9-2.7 M465.9 746.9l-2.3-.2-2.5-.4-3.2-1.1-1.8-2.3-2.1-2.1-2-1.9-1.7-2.2 M419.1 710.9l-2 1.8-2.6 2.5-.6 2.6 M520.6 719.7l1.4 1.7 .2 2.3-.5 3.2 M411.9 744.9l-3.4 .3-2.8 .8-2.7-.3-2.5 .5-3.6-.8-3-.1-3.3-2 M424.8 746.2l1.5-1.8 3.2-1.6 2.4-.1 M435.8 748.3l-2.3-2.9-.6-3.1-.2-3 .4-2.2-.5-2.2-.3-2.9 M403.9 726.9l-1.5 3.1-2.7 2.7-2.4 .9-2.2 .6 M457.8 798.7l.4-2.3-.5-3.5-.7-3.1-1-3.3" fill="none" stroke="#A85A38" stroke-width="0.75" opacity="0.4" stroke-linejoin="round"/>
<path d="M462.3 820.2l-1.1 1.7-2.6 1.3-2.6 1.5-2.4 2.9-1.3 2.1 .1 2-1.5 2.9 M468.6 794.9l-1.3-2-3.2-2.3-3.6-1.1-3.1-.1 M465.5 771.4l1.6-3.4 1.8-2.1 1-2.5-.5-2.6-2.1-3.2-.6-3.5-.1-3.1 M488.6 732.3l.6-3.9-.6-2.8 .1-3.3 .7-2.2 .9-3.3 M523.7 724.1l-1.9-1.7-2-.9-3.2-.6-2.3 .5 M443.7 761.3l-.4 1.9-.4 2.7 .8 2.4 .3 2 1.2 1.7 .5 3.9 M479.7 730.9l-3.2 1.6-2.9 1.6-2.9 .7-3 1.4-3.6 0 M503.3 794.7l-2.8 1.1-2.5 1.2-3.2 .5-2.6 .9 M444.8 818l-2.1-1.6-1.1-2.8 0-2.9 1.8-3.2 .4-3.8 1.4-2.4 M469.1 703.3l-2.9 .5-1.9 1.2-2.5 .8-1.6 2-3.5 1-3 1.2" fill="none" stroke="#A85A38" stroke-width="1" opacity="0.4" stroke-linejoin="round"/>
<path d="M441.8 775.3l-2.6 .9-2.9 2.6-2.2 .7-2.1 .9" fill="none" stroke="#A85A38" stroke-width="0.5" opacity="0.6" stroke-linejoin="round"/>
<path d="M485.1 815l1-3.4 .9-2.8 2.4-2.5 2.1-1.7 2.2-2 3.7-1.3 M442.5 797.3l1 2.9-.9 3.2-.6 3.1-.3 2.4 M503.6 767l-.9-2-1-2.3-1.2-3.8-.3-2 M480.6 707.3l.6 3.5-.2 2-1.4 2.2-.2 3.8 M509.6 820.1l-1.6-1.6-.9-3.6-1.4-2-2-2-1.7-2.4-2.4-1.7-2-2.9" fill="none" stroke="#A85A38" stroke-width="1" opacity="0.6" stroke-linejoin="round"/>
<path d="M474.1 810.6l1.4 2.7 .5 2.6-1 3.2 .4 2.5 2 2.4 1.6 2.6-.1 2.2 M469.9 772.4l2.2 0 2.7 1.5 1.7 1.7 1.2 2.5 1.5 3.4-.3 3" fill="none" stroke="#A85A38" stroke-width="0.75" opacity="0.3" stroke-linejoin="round"/>
<path d="M514.5 785.3l-1.4 2.5 .1 3.5-.1 2.8-1.9 3.4" fill="none" stroke="#A85A38" stroke-width="0.5" opacity="0.4" stroke-linejoin="round"/>
<path d="M442.9 815.7l5.5 1.4 4.5-1.5 7.3-3.8 4.4-2.3 4.8-1.2 6.9-1.2 6.3 .1 5.4 1.4 6.5-.2 5.1 0 7.6 1.4 6.8-.3 4.6-.8 M396.3 786.4l6.2-1.7 7.8 .4 6.9 0 5.8 1.7 5.8-1.3 5.3-.2 6.4-1 5.4 .4 4.1-.9 6.3-.4 7.1-.4 7.5 2.4 7.6 3.2 7.9 .8 4.1 1.9 4.2 2.5 5.6 2.5 7.7-1.3 4.7-2.4 6.3-.2 7.4 1.4 4 1.4 7.1 2.4 6.6-.5 M411.9 707.6l-3.3 7.6-.9 6 1 7.1-1.8 7.3-3.2 7.2-.7 5.2-1.5 5.7-.8 6.2 2.4 4.5 .4 4.2 .1 8 3.5 7.5-.8 4.9 2 4.4-.1 7.2 1.5 7-.7 5.3" fill="none" stroke="#E2C9A0" stroke-width="0.75" opacity="0.8" stroke-linejoin="round"/>
<path d="M397 718.6l6.3 2.8 5.1 1.4 5.6 1.9 7-.9 4.2 .9 6.1 .6 5-.1 6.5-.7 5.4 .2 5.3 1.2 6.1 2.2 7.7-.3 7.3-2.2 7.5 1.3 5.3 0 4.3-.8 6.5-3 5.2-.2 6.9 .9 5 .4 6.4 .2 5.6-1.2 7.6-.1 7.5 1.2 6-1.3 M397 718.8l4.7-.1 5.1 1.5 7.1 2.7 4.4 2.3 4.6 .8 5.7-1.3 5.8 1.5 7.8 2.5 6.4 2.4 6.1 1 7.5 1.9 7.1 1.4 6.2 2.1 4.4 1.1 6.3 3.5 4.3 3.1 5.8 .6 6.1-1 6.6-.8 4.7 1.3 5.9-1.1 4.4-1 6.1-.9 6.3 .5 5.8 .6 4.7-.4 M389.2 798.2l6.4 1.6 4.2-.2 4.8 .8 7.1-.8 7.6-.4 6.4-1 5.6-.7 4.6-1.3 5.5-.2 7-2.7 4.7-.7 7.6-1.5 4.3 .3 7.3-2.6 4.5-.1 5.3-2 6-1.6 5.9-1 6.2 .2 5.1-1.9 6.6 .9 6.1 1.2 5.3-1.8 5.2-2.1 6.8 0 4.6 0 5.2-.9 M453.7 728.2l5.4 1.7 6 .6 6.6 1.8 7.6-1.1 4.7-1 6.1-.1 4.2-.8 5.8-1.8 4.6-1 4.5-.8 6.1-2.7 7.7-2.2 6.2-2.2 6.2 1.8 5.3 0 6.2 1.6 M389.4 711l5.3-1.6 6.3-2.1 6.2-.8 4.2 1.4 8-1.5 5.4-.9 7.5 0 7.5-.5 5.3 0 6.6 0 4.4 .6 4.7 2.8 7.2 2.9 7.9 4.5 7.2 1.1 5.7 .6 7.8-.2 6.2 .5 6 2.3 6 3.9 6.3 1.6 4.1 2.1 5 1.7 5.8 .7 7.2 .9 7-1.3 M409.3 799.9l4.4 .9 7.4-.6 5.9-.5 4.9-1.5 5.7-2.7 4.9-3.1 6.9-1.7 5.8 .6 7.3-2.3 6.6-1.5 4.8-1.4 5.3 1.4 4.4 2 5.6 1.3 7.9 .2 5.4 1.2 5.2 .7 7.3-1.6 4.7 .1 7.9 2.3 4.2-.3" fill="none" stroke="#E2C9A0" stroke-width="1" opacity="0.6" stroke-linejoin="round"/>
<path d="M379.8 782.5l4.4-.5 6.2 1 7 1.4 4.9 1 7.2 1.8 5.9-.2 6.6 .2 8 1.6 5.1 1.5 5.1 2.2 7.1-.9 4.1 .7 7.8 .9 5.4-.5 4.5 .2 5.8 .8 5.7-.4 6.7-2.1 4.4-.5 7.9 0 6.1 1.6 6.6-2 7-.5 6.5 1.3 7.9 2.2 5.7-1.1 5 1.5 M473.1 716.6l.2 4.4-.5 6.7 2.6 5.4-.5 6.5-1.1 6.7-.6 5.4 2.1 7.4 3.6 7.7 .3 5.8-1 4.4-1.4 6.8-3 6.4-2 5-6.1 7.8 M455.4 709.3l-1.7 7.2 .2 6.7 2.3 4.7 3.2 4.9-.6 7.8-1.8 5.3-1.3 4.6-2.6 6.9 1.2 7.1-.3 6.2-.5 4-1.8 4.3-3.5 5.6-.3 4.4-2.9 5.1" fill="none" stroke="#E2C9A0" stroke-width="0.75" opacity="0.5" stroke-linejoin="round"/>
<path d="M397 758.7l7.3-.3 4.8 0 4.8-1.7 7.5 .1 7.4 .5 7.1-1.5 6.2-.3 6.6 .9 5 2 6.6 1.3 4.4 .7 6.9 .3 4.4-1.9 5.3-2.4 5.3-1.1 7.8 1.8 4 .6 6.8 .8 5-.8 5.4-1.2 4.1 .2 6.6-1 5.8-.4 5.6 .5 6.9-2.5 M411.7 710.8l5.9 .2 7.1 .7 7.7-.1 4.4 1.5 6.2 2.2 5.2-.2 4 1.1 7.3 3.7 5.2 1.9 7.8 .5 7.1-.5 7.2-2.3 5.2-.4 7.8 1.9 4.2 .7 6.6 .7 4.2 1.7 5.9 .2 7.3 1.6 6 .4 7 1.5 7.1-.6 M426.1 747.3l6.8 .3 4.9-1.1 6.5-2.1 7.4-2.9 7 1.1 6.6-.7 7.7 1.2 7.9 .8 4.9-.4 7.8-3.3 7.2-3.2 7.9-5 7.2-3.8 7.4-3 7.9-1.6 7.8-2 7.7 1.5 M397 817.1l4.6-.5 6.8 .8 6.6 2.2 7.6 1.4 7.5 0 4.4 0 7.4 0 7.4-1.3 6 .2 7.9 1.1 7.7 0 6.4 0 5.9 0 4-.1 5.4 .1 4.3-.9 6.4 .3 4.6 .6 4.9-.3 6.2-1.9 7.2-.7 5.1-1.1 5-.7 5.5-.2 5.7-.5 M397 770.8l5.2 .2 7.5-2.8 8-1.3 5.1-1.6 4.1-1.4 7.2-1.6 6.6-.9 6.7-1.6 4-.6 4.4 .5 4.2-.8 7.7-.6 6.7 2.2 6.4 .5 7.7 2.5 6 3.1 7.7 3.7 7.4 .7 5.9-2.1 7.8 .2 4.8-1 7.6-2.7 5 0 6.3-1.5" fill="none" stroke="#E2C9A0" stroke-width="1.25" opacity="0.8" stroke-linejoin="round"/>
<path d="M397 741.4l5.2-.1 6.3-.5 6.9-.5 7 .9 7.5 1.5 7.6 .6 4.9 2.6 4.9 1.7 6.8 3.2 7.6 3.4 5.9 2.9 6.9 2.9 7.2 2.4 6.4 1.5 4.1 .9 7-1.2 5.8 1 6.2 1.3 4.5 .7 7-1.6 M397 789.6l5.4 .8 6.8-2.1 7.6-.9 5.9-.4 7.4 .7 5-1.3 6.6 0 7-2.5 4.6 .2 5.5 1 7.7 2.7 6.7 1.7 5.1-.6 7-.6 5.5-.1 6.4 .8 5.2-1.7 6.3-1.5 6.8-3 7.5-2 6.6-1.3 7.9 .2 M457.4 782.6l4.6 .4 5.6-.7 7.9-2.1 6.1-2.9 6.9-.8 5 .8 6.3 1.9 4 1 6.1 1 7 .6 7.4 1.3 7.7 1.3 6 1.7 4.8 2.1 4.2 .7 M451.8 745.8l6.2-3.1 6.6-2.4 7-1.9 7.8-4.1 4.3-.2 7.1 .5 6.5 1.9 5.7 3.3 7.4 1.7 6.5 .3 7.9 2.6 4 .4 6.5 1.8 4.8 1.3 7.8 2.2 M536.4 713.3l2.2 4.3 3.5 6.5-.6 5.7 0 4.1 2.7 7.5 3.2 6.7 .7 5.1 3.9 7.7-.2 5.2-2.6 5.7 .6 7.6-3.8 6.8 0 7.9-.2 5.3 1.4 6.4 .6 4.6 2.8 6.1" fill="none" stroke="#E2C9A0" stroke-width="1" opacity="0.7" stroke-linejoin="round"/>
<path d="M442.4 807.7l7.8 .8 8 2.4 6.6 1 6.8-1.6 6.1 .4 5.1 .3 5.6-.9 4.8-2.3 7.9-3.7 6.3-2.4 4.7-3.3 M397 723.6l6.7-2.2 5.7-1.2 7.1 .3 5.8 .1 5.2 .9 5.6 2.5 8 3.5 4.8 2.3 7.3 1.3 5.4 2.7 4.7 3.1 7.8 .3 7.3 .7 7.2-.4 6.2-1.2 6.5 1.7 8-1.4 7.8-1.2 5.9 1.1 7.8-.6 7.9 2.5 4.6 1.2 7.9-.8 M379.7 746.2l6 1.7 4.6-.5 4.9 1.1 4.8 1.3 4.9 .4 4 .8 4.8 .2 6.6-2.5 6-1.8 4.2-2.1 6.3 .8 6.1-.5 4.4 .3 5.6 1.2 4.3 1 7.4-.7 7.3-.7 7.8-.1 8 3.2 7.1 0 7.5 .6 5.6 2.8 6.4 1.4 5.3 1.5 7.3 1.6 5.6-1.3 M413.1 708.8l-2.2 4.7-2.7 4.8 1.4 7.7 2.4 6.1-.2 5.9 .5 7.5-1.6 6.5-1.1 6.1-.8 4.3 0 7.5 2.4 5.1 1.6 6.9-.7 4.9-2.1 5.4-2.3 6.9-4.2 5.8-.1 6.7 M480.6 706.7l.5 7.9-1.7 5.2-3.5 4.8-2.8 5-2.6 5-.3 7.6 2 5.8 1.1 5.6-.5 5.8 2 6.8 4.1 7.5-.2 5.1 1.2 6 4.4 7.3 4.9 7.7" fill="none" stroke="#E2C9A0" stroke-width="1.25" opacity="0.5" stroke-linejoin="round"/>
<path d="M383.9 775.7l5 1.9 7.1 .2 5.9-.1 4.3-1.1 7 2 5.4 1.2 6.9 .9 7.6 .6 7.6-2.5 4.7-.9 7.4-1.5 7.9 1.4 6.3-.5 5.5-1.2 4.3 .8 4.4-.7 4.3-.1 6.6-.8 7.5 .1 6.7 1.3 M460 811.5l7.3-1.3 5.5-1.2 5.1 .9 7.2 .6 5.2-1.3 5.1-.4 7.1-1.1 7.4-.8 7.2 .6 4.5-.1 6.8-.7 8-2.9 6.8-2.2 7.2-2.1" fill="none" stroke="#E2C9A0" stroke-width="1.25" opacity="0.6" stroke-linejoin="round"/>
<path d="M455.4 782.9l4.8 1.5 5 1.4 6.8 3.2 5.9 0 7.1-.6 6.8 1.8 5.9 1.6 7.1-.8 7.4-2.2 6.7 1.3 7.9-1.2 5.2-2.4 4.3-3 6.3-3.4 4-2.7" fill="none" stroke="#E2C9A0" stroke-width="0.75" opacity="0.4" stroke-linejoin="round"/>
<path d="M429.6 764l4.5 .6 6.6-1.6 7.3-1.2 4.9 .9 4.7 0 7.5 .9 5.4-.4 5.4-.8 7.7 .3 7 0 7.3 .5 4.2 .4 7.3 1.7 7.7 0 7 2.5 4.6 2.2 7.8 1.2 4.5 1.6 6.6 1.9 M397 729l5.2-.4 5.9 .4 4.2-.8 6.3-3.1 6.7-.1 6.8 0 4.5 1.1 7.1 2.6 5.3 .6 5.8 .4 7.3-.6 6.8-.4 7.5-3.1 6.2 .6 6.7 1.1 7.6-1.3 6.2-1.4 4.3 .5 6.1-.4 6.2 2.5 7.7-.4 6 .4 5 1 7.8 .3 M397 731.8l4.9 1.3 4.5 .6 4.4-.6 4.4 1.5 6.3-.3 6.2 1.5 7.2 2.5 7.3-.3 5.6-1.3 7.3-.8 5 .8 5.8-.7 7.2-1.5 5.5-.8 6.9 .1 6.4 1.4 4.8-.7 6.7-1.1 6.8 1.8 5.6-.1 5.4-2.8 4.5 .9 7.6-1.9 5-.2 5.5 .5 4.4-.8 M403.6 708l-.8 4.5 .9 7.9 1.5 6.3 3.6 7 .3 5 4.5 6.6 5.3 6.9 2.7 4.7 4.5 7.5 1.5 5.5 2 7.1-.5 5.4-1.6 6.5 1.7 4.7 4.3 6.3 1.1 6.2 2.9 6.4 2 4.4" fill="none" stroke="#E2C9A0" stroke-width="1" opacity="0.5" stroke-linejoin="round"/>
<path d="M461.3 746l5.3-.7 6 .6 7.3-.6 7.3 .3 6.1 .1 5 .5 6.5 .9 5.1-.8 7.5-2.5 4.5 .7 7.8-.1 6.1-.8 M436.2 729.3l7.5 1.9 5.2 .7 4.3 .9 4.6 2.5 6.8 1.9 6.8 1.8 7.3 0 6.1-.6 7.9 .6 6.1 .3 5.4 .8 7.8 2 5.2 .6 6.2 1.2 5.7-.7 4.1-1.7 M428.9 767l4.4 .1 6 1.2 7.2 3.8 4.9-.2 6.7 2.4 7.2-.6 4.3-.3 7-.1 6.6 1.2 5.4 .5 5.1 .6 5.2-.8 4.4-2.1 5.7 .4 6.5-.8 5 1.8 5.7-.2 5.4 1.9 7.4-1.6 6.6-1.7" fill="none" stroke="#E2C9A0" stroke-width="1.25" opacity="0.7" stroke-linejoin="round"/>
<path d="M443.5 718.7l4.2 7.8 1.4 5.9-.5 7.5 1.9 4 1.7 5.5 3.1 7.9-.4 4.7-2.6 6.1-2.4 5-2.8 6.2 .1 4.8 2.4 5.5 3.1 7.3 0 5.4-1.7 4-.3 5.5-3.7 7.5 M415.5 712.7l-2.8 7.3-.3 4.8 4.3 6.6 2 6.6 4.5 7 .7 8-.6 5 3.1 7.5 3.5 5.8 2.5 6.1 2.2 5.4 3.3 5.9 2.4 5.1 3.8 7.7 1.1 7.1" fill="none" stroke="#E2C9A0" stroke-width="0.75" opacity="0.6" stroke-linejoin="round"/>
<path d="M407.5 717.1l-1.8 4.5-.7 4.8 .4 5.8 .7 7.1-1.5 6.3 1.3 4 0 6.4 .5 5.5-.1 5.8-.1 4.2 2.6 5.1 1.6 6-1.1 6.7-2.2 7.7-1.5 5-3.3 7.2 M493.7 706.8l-.2 4.3 1.9 6.7 2.1 5.1 3.5 4.3-1.4 6.5-.4 6.8-1.5 6.7 .3 4.7 1.5 4.4 0 4.4-2.3 5.7-2 7-1.2 5.3 1.5 5 3.7 4.5 1.9 5.4-.4 6.1 1.3 5.1-.7 6.4-1.1 6.5" fill="none" stroke="#E2C9A0" stroke-width="0.75" opacity="0.7" stroke-linejoin="round"/>
<path d="M461.7 709.5l3.4 6.5-.9 7.9-3 7.5 .1 4.1-.1 5.7 2.6 7.4 3 7.4 5.1 7 3.9 6.8 2.3 7-.2 7.7-2.2 7.2 0 4.9-1.6 5.2-2.4 6.9 1.2 5 2.4 6.2 M512.7 705.5l-2.6 6.9-1.2 7-1.7 4.9 .1 5 .5 6.6 .2 4.3 1.8 4.3 0 4.7-.4 5.5-1.6 7.3-3.3 6.1 1.2 5.2 .8 4.2-3.3 7.4 1 8 2.9 6.6 2 5.1-2.1 6.3" fill="none" stroke="#E2C9A0" stroke-width="1" opacity="0.8" stroke-linejoin="round"/>
<path d="M443.3 718l-.2 7.4 1.2 7.8 4.2 7.1 3 6.7 3.2 5.1 1.1 4.6 1.2 4.4 1.9 4.4 3.3 5.6 .1 5.9 0 5.8 2.3 7.4 .1 6.7-.2 4.1 1.9 6.6" fill="none" stroke="#E2C9A0" stroke-width="1" opacity="0.4" stroke-linejoin="round"/>
<path d="M400.2 719.8 Q403.0 728.6 407.0 730.2 M447.7 739.6 Q454.3 737.0 456.0 737.1 M486.5 739.1 Q487.2 743.9 480.2 745.8 M463.3 750.0 Q468.3 752.8 470.6 761.4 M518.6 751.4 Q519.1 757.6 515.7 761.4 M400.8 758.9 Q400.5 752.8 406.4 746.6 M441.9 759.4 Q448.6 764.8 454.9 762.4 M515.7 761.4 Q518.6 757.0 524.1 756.2 M531.2 774.7 Q531.9 775.5 527.0 784.3 M470.0 782.0 Q475.1 787.5 477.4 791.8 M539.4 789.1 Q532.1 785.5 527.0 784.3 M445.4 804.6 Q445.3 808.0 450.0 819.1 M496.9 804.3 Q493.2 810.8 493.3 815.8 M496.9 804.3 Q491.5 806.3 484.7 802.4" fill="none" stroke="#D8B890" stroke-width="1.25" opacity="0.6" stroke-linejoin="round"/>
<path d="M400.2 719.8 Q408.5 721.6 415.5 717.2 M490.9 713.6 Q492.9 722.7 496.3 726.2 M531.1 715.9 Q534.3 724.2 531.4 728.6 M505.9 727.8 Q504.7 731.9 506.8 735.2 M433.8 740.7 Q429.5 743.3 432.3 748.7 M447.7 739.6 Q452.5 743.1 454.9 748.7 M518.3 740.1 Q518.4 747.6 518.6 751.4 M422.5 748.4 Q428.4 745.2 432.3 748.7 M498.0 768.4 Q496.2 760.5 498.2 759.0 M396.4 783.8 Q397.3 784.1 401.7 790.1 M459.3 795.6 Q461.3 797.8 460.5 807.4 M494.8 796.1 Q486.6 798.5 484.7 802.4 M397.2 805.8 Q399.9 797.2 401.7 790.1 M445.4 804.6 Q452.5 803.2 460.5 807.4 M460.5 807.4 Q462.2 805.9 461.6 811.7 M477.8 803.8 Q481.1 803.5 484.7 802.4 M533.0 799.8 Q536.1 807.3 538.8 814.3 M403.5 815.3 Q410.7 810.5 417.3 801.1 M425.9 818.9 Q431.7 819.7 431.8 814.9" fill="none" stroke="#D8B890" stroke-width="0.75" opacity="0.5" stroke-linejoin="round"/>
<path d="M400.2 719.8 Q406.0 726.1 415.1 726.4 M415.1 726.4 Q412.9 726.3 407.0 730.2 M452.3 723.0 Q456.9 732.8 456.0 737.1 M456.0 737.1 Q452.9 746.9 454.9 748.7 M406.4 746.6 Q411.8 740.0 410.1 734.9 M454.9 748.7 Q462.7 752.8 463.3 750.0 M426.0 759.8 Q426.8 763.9 421.8 766.8 M515.7 761.4 Q521.3 768.3 520.6 774.4 M436.2 772.8 Q433.5 778.5 431.0 777.6 M464.2 773.8 Q464.3 781.8 458.2 785.0 M520.6 774.4 Q523.3 771.2 531.2 774.7 M520.6 774.4 Q521.8 778.7 527.0 784.3 M487.0 778.2 Q484.5 787.0 477.4 791.8 M527.0 784.3 Q525.1 785.3 518.1 788.8 M438.9 790.0 Q434.5 782.9 431.0 777.6 M494.8 796.1 Q498.9 796.7 496.9 804.3 M512.1 796.6 Q513.2 803.8 512.7 808.0 M533.0 799.8 Q530.8 791.0 527.0 784.3" fill="none" stroke="#D8B890" stroke-width="1" opacity="0.4" stroke-linejoin="round"/>
<path d="M415.5 717.2 Q418.1 725.6 415.1 726.4 M458.2 785.0 Q450.4 789.4 450.1 789.3" fill="none" stroke="#D8B890" stroke-width="1.25" opacity="0.7" stroke-linejoin="round"/>
<path d="M415.5 717.2 Q413.2 724.0 407.0 730.2 M431.9 716.1 Q421.6 714.3 415.5 717.2 M462.5 719.7 Q458.2 717.9 452.3 723.0 M473.4 716.6 Q478.5 720.5 476.8 728.8 M518.4 717.7 Q518.3 718.8 520.6 723.9 M433.7 727.9 Q432.0 733.4 433.8 740.7 M468.0 731.2 Q470.2 726.2 476.8 728.8 M447.7 739.6 Q440.5 738.3 433.8 740.7 M477.7 737.2 Q476.6 744.5 480.2 745.8 M506.8 735.2 Q512.1 738.0 518.3 740.1 M531.3 739.0 Q524.9 739.5 518.3 740.1 M400.8 758.9 Q399.2 761.9 400.8 769.8 M421.8 766.8 Q424.4 771.6 431.0 777.6 M480.1 773.6 Q475.3 775.0 470.0 782.0 M498.0 768.4 Q504.3 772.6 503.1 772.8 M520.6 774.4 Q518.2 773.3 512.0 778.4 M458.2 785.0 Q462.3 793.9 459.3 795.6 M487.0 778.2 Q494.4 777.0 498.0 768.4 M506.7 781.7 Q505.9 777.7 512.0 778.4 M417.2 796.3 Q421.0 798.0 417.3 801.1 M477.4 791.8 Q474.9 795.3 477.8 803.8 M417.3 801.1 Q427.4 799.6 429.9 805.1" fill="none" stroke="#D8B890" stroke-width="1" opacity="0.6" stroke-linejoin="round"/>
<path d="M431.9 716.1 Q432.9 723.4 433.7 727.9 M444.3 712.7 Q451.6 720.5 452.3 723.0 M407.0 730.2 Q406.0 729.6 410.1 734.9 M433.7 727.9 Q437.5 736.2 447.7 739.6 M404.5 736.6 Q406.3 736.5 410.1 734.9 M406.4 746.6 Q403.1 742.6 404.5 736.6 M493.7 751.7 Q489.9 754.6 488.9 758.5 M441.9 759.4 Q438.1 757.0 432.3 748.7 M403.5 815.3 Q417.4 814.8 425.9 818.9 M450.0 819.1 Q452.6 815.0 460.5 807.4 M482.7 814.7 Q484.7 818.0 493.3 815.8 M520.1 818.5 Q532.2 813.2 538.8 814.3" fill="none" stroke="#D8B890" stroke-width="0.75" opacity="0.4" stroke-linejoin="round"/>
<path d="M431.9 716.1 Q438.0 715.2 444.3 712.7 M490.9 713.6 Q495.5 713.0 498.5 717.2 M518.4 717.7 Q523.0 714.8 531.1 715.9 M433.8 740.7 Q430.5 744.3 422.5 748.4 M480.2 745.8 Q483.5 746.1 493.7 751.7 M518.6 751.4 Q521.4 755.8 524.1 756.2 M400.8 769.8 Q412.6 768.7 417.1 761.5 M436.2 772.8 Q439.5 766.0 441.9 759.4 M452.1 771.7 Q449.4 777.7 443.3 778.3 M531.2 774.7 Q534.0 784.7 539.4 789.1 M431.0 777.6 Q440.6 778.7 443.3 778.3 M512.0 778.4 Q506.2 772.6 503.1 772.8 M450.1 789.3 Q456.3 796.0 459.3 795.6 M397.2 805.8 Q397.3 813.9 403.5 815.3 M450.0 819.1 Q455.6 816.6 461.6 811.7" fill="none" stroke="#D8B890" stroke-width="0.75" opacity="0.6" stroke-linejoin="round"/>
<path d="M462.5 719.7 Q469.7 719.8 473.4 716.6 M476.8 728.8 Q476.9 734.0 477.7 737.2 M470.6 761.4 Q467.1 764.9 464.2 773.8 M480.1 773.6 Q479.1 768.7 470.6 761.4 M477.4 791.8 Q481.6 798.6 484.7 802.4 M429.9 805.1 Q429.3 806.5 431.8 814.9 M445.4 804.6 Q438.9 806.9 429.9 805.1 M477.8 803.8 Q483.8 809.6 482.7 814.7" fill="none" stroke="#D8B890" stroke-width="1.25" opacity="0.4" stroke-linejoin="round"/>
<path d="M473.4 716.6 Q470.7 723.8 468.0 731.2 M498.5 717.2 Q495.5 721.4 496.3 726.2 M407.0 730.2 Q403.3 732.9 404.5 736.6 M415.1 726.4 Q409.6 727.0 410.1 734.9 M520.6 723.9 Q526.9 717.2 531.1 715.9 M417.1 761.5 Q419.3 764.1 421.8 766.8 M488.9 758.5 Q489.9 755.0 498.2 759.0 M400.8 769.8 Q401.3 774.5 396.4 783.8 M464.2 773.8 Q460.4 775.5 452.1 771.7 M438.9 790.0 Q445.6 792.2 450.1 789.3 M512.1 796.6 Q519.0 792.2 518.1 788.8 M512.7 808.0 Q512.0 816.3 509.5 819.1 M512.7 808.0 Q520.1 811.9 520.1 818.5 M425.9 818.9 Q430.7 814.8 429.9 805.1 M509.5 819.1 Q513.4 821.9 520.1 818.5" fill="none" stroke="#D8B890" stroke-width="1" opacity="0.7" stroke-linejoin="round"/>
<path d="M468.0 731.2 Q475.0 736.3 477.7 737.2 M496.3 726.2 Q504.7 725.4 505.9 727.8 M477.7 737.2 Q479.8 739.5 486.5 739.1 M531.3 739.0 Q530.5 746.3 530.7 750.0 M422.5 748.4 Q424.9 755.1 426.0 759.8 M493.7 751.7 Q499.2 750.2 501.4 749.2 M501.4 749.2 Q500.0 754.4 498.2 759.0 M400.8 758.9 Q405.6 756.7 417.1 761.5 M436.2 772.8 Q440.4 777.1 443.3 778.3 M480.1 773.6 Q485.5 778.0 487.0 778.2 M412.3 785.3 Q405.3 784.4 401.7 790.1 M412.3 785.3 Q418.7 793.0 417.2 796.3 M506.7 781.7 Q514.1 783.6 518.1 788.8 M438.9 790.0 Q437.3 781.8 443.3 778.3 M539.4 789.1 Q535.9 794.7 533.0 799.8 M509.5 819.1 Q499.3 816.7 493.3 815.8" fill="none" stroke="#D8B890" stroke-width="1" opacity="0.5" stroke-linejoin="round"/>
<path d="M468.0 731.2 Q468.4 724.0 462.5 719.7 M520.6 723.9 Q523.1 724.4 531.4 728.6 M531.4 728.6 Q533.5 732.3 531.3 739.0 M530.7 750.0 Q524.1 752.2 524.1 756.2 M417.1 761.5 Q422.0 758.2 426.0 759.8 M454.9 762.4 Q451.6 768.5 452.1 771.7 M503.1 772.8 Q505.4 778.7 506.7 781.7 M470.0 782.0 Q465.8 779.9 458.2 785.0 M397.2 805.8 Q411.2 804.7 417.3 801.1 M425.9 818.9 Q425.1 811.4 417.3 801.1" fill="none" stroke="#D8B890" stroke-width="0.75" opacity="0.7" stroke-linejoin="round"/>
<path d="M463.3 750.0 Q463.1 746.0 456.0 737.1 M488.9 758.5 Q491.9 762.4 498.0 768.4 M498.2 759.0 Q494.6 753.9 493.7 751.7 M464.2 773.8 Q470.8 781.3 470.0 782.0 M538.8 814.3 Q541.8 802.7 539.4 789.1" fill="none" stroke="#D8B890" stroke-width="1.25" opacity="0.5" stroke-linejoin="round"/>
<path d="M452.6 706.6l3.9 .7 4.9 1.3 3.3 1.1 3.5 .7 4.5 .3 5.6 .7 3.1-1.1 4.7-.7 5.1 1.1 5.4-.2 4.5-2.2 5-1.4 4.7-1.4 4.9-.9 5.2-1.6 3.7 0 5.1 0 4 0 4.1 1.6 5.8-.2 5.7-.1 M397 712.2l4.3-1.7 3.2-.3 5.8-3 5.9-1.3 4.7 .2 4.9-1 5.7 1.1 3.2-1.8 4.6 .2 5.6 .6 3.8-.5 5.6-1 4.8 .4 3.6 .9 4.3-.3 4.1-.7 3.1-1 4.3 0 4.4 .8 3.7-.6 4.7-.2 3.4 0 5.9 0 5.8 .5 5.3-.5 M397 711.8l5.2 1.8 4.9 1.8 5.4 1.8 4.7-2 5.5-.3 4.4 .9 5.8-.3 3.5-.9 5.2 1.7 5.4 2.6 4.2-.4 4 .7 4.2 1.1 4.9-1.4 4.7 .1 4.4-.8 3.4 .3 5.9 .1 4.8 .4 3-1.2 5.3-1.4 4.4-1.7 5.3 .2 3.1 .8 5 .7 3 .6 3.5-.8 5.2-2.1 4.1-.6 5.9-.1 3.1 1.7 4 2.3 4.8 1.5 M397 794.4l5.2 1.4 5.7 1.2 3.2 .5 5.3 2.3 3.9-.6 5.3 1.5 3.6 .1 4-1.1 3.8-.9 4.2 1.4 5.9 .8 3.3 .1 4.5 1.7 3.9 .2 5.4 1.5 4.3 1.5 4.6 .4 5 1.5 4.9-1 4.4-1.9 3.4 .1 4.2 .4 4.2-.4 4.2 1.4 4.1 .1 5.7-.8 5-.2 5.2 1.4 5 2.6 4.1 1.4 3.7 0 4 0 4.2 0" fill="none" stroke="#E6D0A2" stroke-width="1.25" opacity="0.7" stroke-linejoin="round"/>
<path d="M397 715.2l3.4-.8 4.9-1 5.3 1 3.3 .5 3.6 1.7 4-.1 4.7 .7 3.4-.8 3 1 5-.1 4.5-.1 5.5 .1 5.6-.2 5.9-1.7 4.3 .1 3 2.1 4.5 2.3 3.2 1.3 3.6 .1 6-.3 4.1-2.1 4.2 .6 5.4 .2 5.8 .4 4.7-.3 4.2 .6 3.8-1.7 5.6-2.2 5.7-2 5.6-3.7 4.7-1.1 5-.8 4.2 .1 M419.4 716.4l3.3 .5 3.9-.1 4.4-1.5 5.3-1.1 5.3-1.4 4.7 .3 5 .3 3.8-1.1 3.7-.2 3.6 1.7 3.3-1.1 6 .5 3.1 .6 4.3-.3 3.9 0 5.4 1.1 5.9-1.4 3.2-.2 4.9-1.4 3.2-.1 5.5-.3 4.1 1.8 4.6-1.8 3.2 .3 5.9 1.1" fill="none" stroke="#E6D0A2" stroke-width="1.5" opacity="0.9" stroke-linejoin="round"/>
<path d="M397 708.4l5.3-2.6 4.6 .2 4 2 5.1 .9 5.4 1.1 4 .1 4.5 1.9 3.6-1.7 5.9 .7 3.8-.2 3.1 .2 5.6 .9 3.4 1.7 4.1 1.8 5.4-.6 3.1 1.1 3.6-1.2 4.3-.7 3.2 1.1 4.9-.1 4.5 0 4-1.5 4.2-.4 6 .6 5.5-.2 5.8 1.4 5.8 2.1 M397 796.9l4 .2 5.5 3.1 5.3 1.9 3.9 2.6 3.3-1.1 3.1 1.5 3-.9 6 .3 4.9 3 4.9 2.2 3.5 1.3 3.3 0 3.6 0 4.8 0 3.8-.2 3.9-.7 3.7 .9 5.3 0 4.9 0 3.7 0 4.4-.9 5.2-.4 3.5 1 4.1-1 4.6-1.4 3.3-.8 6-1.9 4.2-.2 4.1-.6 3.1 .7 M397 801.6l5.7 1.4 5.5 .2 5.5 .7 4.5 .3 4.6 1.4 6 3 4.7 1.9 4.4 .5 3.6 0 3.4 0 5.9 0 5.9-.6 4.2-.9 4.7-.6 3.7-.1 3.2 .4 5.2-.1 4.8-.4 3-2.2 4.5-.2 4-.7 3.1 1.1 4.2-.2 3.2 .5 3.1-.9 3.4-1 5.2 2.8 3-.2 3.5-.8 5.8 .3 3.4-.4 3.9-2.2 5.5-1.1 5.2-1.6" fill="none" stroke="#E6D0A2" stroke-width="1" opacity="0.9" stroke-linejoin="round"/>
<path d="M428.8 717.5l6-1.3 5.3 .4 3.6-1.2 5.2-1.3 5.9 .2 3.1-.3 5.3-.7 4.1 1.5 3.7-1.7 4.5-1.9 4.7-1.3 4.9-.9 3.9-2.5 3.8-.1 3.1 .2 4.5-.5 3.8-1.8 5.8 1 3.4-1.2 5.7-1.1 4.5 0 4.4 .6 3.2 1.5 3.7-.9 5-1.1 5.3-.1 M397 798.3l4.4 .4 5.3-1.8 5.3-1.6 4.9-1 5-.7 5-.6 3.5-1.7 4-.3 3.1 0 3.5 1.4 5.7-1.4 4 1.5 4.9-1.5 3.1 0 5.9 0 3.3 0 3.4 0 3.3 0 4.6 0 4.1 0 4.7 0 5.5 .3 3.6 .2 3.8-.5 6 .8 3.7-.7 5 1.1 M397 805.5l5.9 2.1 3.9 1.4 5.5 1.9 4.7 .1 3.6-.3 5.8 .3 4.3 0 3.8-.1 4.7-.6 5.4-2.2 4.5-.7 4.5-.6 3.2-2.1 3.1 .2 5.7 .5 5.8 .9 3.4-1.9 3.2-.3 5.1-1.5 5.1-.5 4.4-1.9 5.3-1.7 5.7-1.5 3.1 .8 4.4-1.2 5.3 2.1 3.4 .2 5.2 1.2 4.5-.3 5.3-.1 4.1-.5 3.9-.4 5 1.7" fill="none" stroke="#E6D0A2" stroke-width="1.25" opacity="0.6" stroke-linejoin="round"/>
<path d="M410.8 717.8l3.5-.2 4.9-.1 5.1-.9 3.7-.5 3.2 1.4 5-2 5.5-.1 3.7 1 3.7 .5 3.9-.7 4.7 0 4.6 1.9 3.6 2.2 4.1 1.7 5 0 3.4-.4 4.2 .2 5.6 .2 4 0 4.1 0 4.9 0 3.4-.3 5.7 .3 4.2 0 4.7 0 4.7-2.4 3.5 .1 6-.4 3.2 1.1 5.2-1.5" fill="none" stroke="#E6D0A2" stroke-width="1.5" opacity="0.6" stroke-linejoin="round"/>
<path d="M397 713.4l3.3-.1 5.3-.8 3 .5 4.3 0 5.7-.2 4.7 .4 5.1-.7 5.6 2 5.6 1.2 4.3-.9 5.9-1 3.6-.3 4.5 1 3.8-.9 3-1.9 3-1.1 3.5 .1 3.8 1.1 5.6-1 3.1-.5 5.6-.4 4.4 .3 3.5 1.2 4-.9 5.1-.8 3.2-1.4 3.2 .4 4.1-.9 5.4-1.2" fill="none" stroke="#E6D0A2" stroke-width="1.5" opacity="0.8" stroke-linejoin="round"/>
<path d="M397 798.4l3.8 .8 5.2 .8 5-1.3 3.1 .5 5.6-.2 5 .8 6 .9 4.1-.9 5.3 1.3 4 .4 4.2-.3 5.7-2.2 3.9-1.8 3.3 .2 5.3-1.2 3.8 .2 4.6 .2 3.3 .4 3.5 .7 4.8 0 3-1.2 5.2-.1 4.9 .6 3.3-.4 3.8-.3 4.5-1 4-.3 5.8 .2 4.1-.2 4-1.1 5.8-1.6 3.3-1.3 5.3 0 4.9 1.1" fill="none" stroke="#E6D0A2" stroke-width="1.25" opacity="0.8" stroke-linejoin="round"/>
<path d="M397 798.6l4.9-1.9 3.9 .4 3.1 1.8 5-1.6 5.6 .2 4.7 1.2 3.7 .6 4.2-.4 4.6 1.9 4.4 1.3 4.1 2.1 4.8 1.4 4.8-.4 4.7 .7 3.6 .3 4 .4 6-1 5-2.5 4.7-.3 5.1-.9 3.5 1.2 5-1.1 3.6 .2 5.8 .9 3.7-.3 5.7 .3 4.8-.4 4.7-.8 3.8 1.5 4.6 1.3 5.1 .2 3.2-.3 3.5 .4" fill="none" stroke="#E6D0A2" stroke-width="1" opacity="0.8" stroke-linejoin="round"/>
</g></g></g>
</g>
<text transform="translate(66.90,43.40) scale(0.8100,1)" font-size="32.75" font-weight="bold" fill="#000">A)</text>
<text transform="translate(67.38,461.00) scale(0.7958,1)" font-size="32.75" font-weight="bold" fill="#000">B)</text>
<text transform="translate(185.24,45.10) scale(0.8035,1)" font-size="19.86" fill="#FFFFFF">WT  Control</text>
<text transform="translate(427.44,45.40) scale(0.8125,1)" font-size="20.00" fill="#FFFFFF">WT  NaCl</text>
<text transform="translate(178.28,242.30) scale(0.9916,1)" font-size="17.53" font-style="italic" fill="#FFFFFF">etr2b</text>
<text transform="translate(221.37,242.30) scale(0.9517,1)" font-size="17.53" fill="#FFFFFF">Control</text>
<text transform="translate(419.09,241.80) scale(0.9788,1)" font-size="17.53" font-style="italic" fill="#FFFFFF">etr2b</text>
<text transform="translate(461.61,241.80) scale(0.9898,1)" font-size="17.53" fill="#FFFFFF">NaCl</text>
<text transform="translate(180.74,458.50) scale(0.8055,1)" font-size="19.86" fill="#FFFFFF">WT  Control</text>
<text transform="translate(438.74,456.80) scale(0.8008,1)" font-size="20.14" fill="#FFFFFF">WT  NaCl</text>
<text transform="translate(174.88,656.90) scale(0.9839,1)" font-size="17.67" font-style="italic" fill="#FFFFFF">etr2b</text>
<text transform="translate(218.77,656.90) scale(0.9407,1)" font-size="17.67" fill="#FFFFFF">Control</text>
<text transform="translate(424.48,657.70) scale(0.9814,1)" font-size="17.67" font-style="italic" fill="#FFFFFF">etr2b</text>
<text transform="translate(467.38,657.70) scale(1.0039,1)" font-size="17.67" fill="#FFFFFF">NaCl</text>
</svg></body></html>
